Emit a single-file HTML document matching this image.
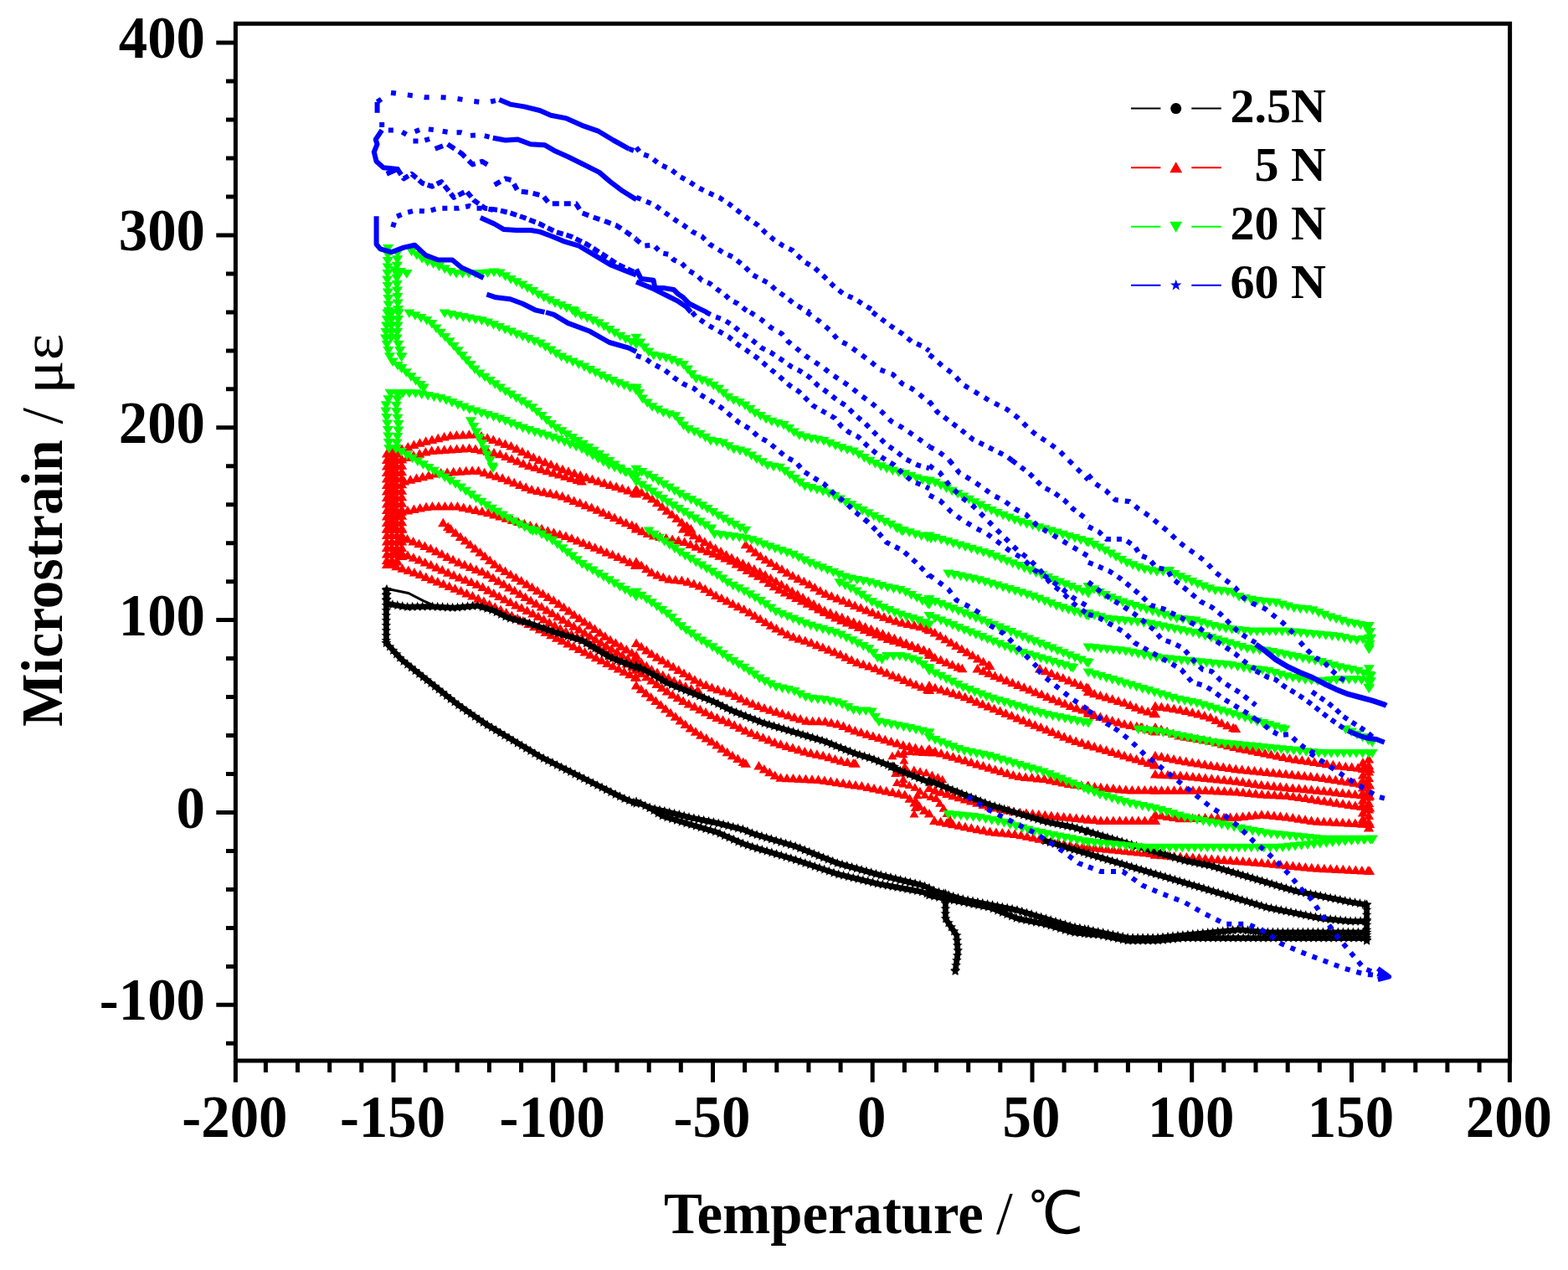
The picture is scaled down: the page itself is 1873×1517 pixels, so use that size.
<!DOCTYPE html>
<html><head><meta charset="utf-8"><title>Microstrain vs Temperature</title>
<style>html,body{margin:0;padding:0;background:#fff;}svg{display:block;}</style>
</head><body>
<svg width="1873" height="1517" viewBox="0 0 1873 1517">
<rect width="100%" height="100%" fill="#fff"/>
<path d="M753.8 589h12.4l-6.2 -10.5zM760.2 592.8h12.4l-6.2 -10.5zM766.7 596.7h12.4l-6.2 -10.5zM773 600.6h12.4l-6.2 -10.5zM778.9 605.3h12.4l-6.2 -10.5zM784.8 610h12.4l-6.2 -10.5zM790.6 614.7h12.4l-6.2 -10.5zM796.5 619.3h12.4l-6.2 -10.5zM802.3 624h12.4l-6.2 -10.5zM808.2 628.7h12.4l-6.2 -10.5zM814.3 633.1h12.4l-6.2 -10.5zM819.2 636.4h12.4l-6.2 -10.5z" fill="#f00"/>
<path d="M753.8 675.7h12.4l-6.2 -10.5zM759.9 680h12.4l-6.2 -10.5zM766.1 684.3h12.4l-6.2 -10.5zM772.2 688.6h12.4l-6.2 -10.5zM779.2 691.5h12.4l-6.2 -10.5zM786.1 694.3h12.4l-6.2 -10.5zM793.2 696.5h12.4l-6.2 -10.5zM800.7 697.2h12.4l-6.2 -10.5zM808.2 698h12.4l-6.2 -10.5zM815.4 699.8h12.4l-6.2 -10.5zM822.6 702h12.4l-6.2 -10.5zM829.6 704.4h12.4l-6.2 -10.5zM836.1 708.3h12.4l-6.2 -10.5zM842.5 712.1h12.4l-6.2 -10.5zM849 715.9h12.4l-6.2 -10.5zM855.7 719.2h12.4l-6.2 -10.5zM862.4 722.6h12.4l-6.2 -10.5zM869.1 725.9h12.4l-6.2 -10.5zM875.8 729.3h12.4l-6.2 -10.5zM882.5 732.6h12.4l-6.2 -10.5zM889.1 736.3h12.4l-6.2 -10.5zM895.5 740.2h12.4l-6.2 -10.5zM901.9 744.1h12.4l-6.2 -10.5zM908.4 747.9h12.4l-6.2 -10.5zM914.8 751.8h12.4l-6.2 -10.5zM921.2 755.6h12.4l-6.2 -10.5zM927.9 759.1h12.4l-6.2 -10.5zM934.6 762.4h12.4l-6.2 -10.5zM941.4 765.6h12.4l-6.2 -10.5zM948.5 767.8h12.4l-6.2 -10.5zM955.7 770h12.4l-6.2 -10.5zM962.8 772.4h12.4l-6.2 -10.5zM969.8 775.2h12.4l-6.2 -10.5zM976.7 778h12.4l-6.2 -10.5zM983.7 780.8h12.4l-6.2 -10.5zM990.7 783.6h12.4l-6.2 -10.5zM997.6 786.4h12.4l-6.2 -10.5zM1004.3 789.8h12.4l-6.2 -10.5zM1011 793.1h12.4l-6.2 -10.5zM1017.9 796.1h12.4l-6.2 -10.5zM1025.1 798.2h12.4l-6.2 -10.5zM1032.2 800.4h12.4l-6.2 -10.5zM1039.3 803h12.4l-6.2 -10.5zM1046.2 805.8h12.4l-6.2 -10.5zM1053.2 808.6h12.4l-6.2 -10.5zM1060.2 811.4h12.4l-6.2 -10.5zM1067.1 814.1h12.4l-6.2 -10.5zM1074.1 816.9h12.4l-6.2 -10.5zM1081 819.7h12.4l-6.2 -10.5zM1088 822.5h12.4l-6.2 -10.5zM1095 825.3h12.4l-6.2 -10.5zM1101.9 828.2h12.4l-6.2 -10.5zM1103.8 829h12.4l-6.2 -10.5z" fill="#f00"/>
<path d="M753.8 636.5h12.4l-6.2 -10.5zM760.8 639.3h12.4l-6.2 -10.5zM767.7 642.1h12.4l-6.2 -10.5zM774.8 644.4h12.4l-6.2 -10.5zM782.2 645.9h12.4l-6.2 -10.5zM789.5 647.4h12.4l-6.2 -10.5zM796.9 648.9h12.4l-6.2 -10.5zM804.2 650.3h12.4l-6.2 -10.5zM811.5 652.1h12.4l-6.2 -10.5zM818.5 654.9h12.4l-6.2 -10.5zM825.4 657.7h12.4l-6.2 -10.5zM832.4 660.5h12.4l-6.2 -10.5zM839.3 663.2h12.4l-6.2 -10.5zM846.3 666h12.4l-6.2 -10.5zM853.3 668.8h12.4l-6.2 -10.5zM860.2 671.6h12.4l-6.2 -10.5zM867.1 674.6h12.4l-6.2 -10.5zM873.5 678.4h12.4l-6.2 -10.5zM880 682.3h12.4l-6.2 -10.5zM886.5 686h12.4l-6.2 -10.5zM893.2 689.4h12.4l-6.2 -10.5zM899.9 692.7h12.4l-6.2 -10.5zM906.3 696.5h12.4l-6.2 -10.5zM912.5 700.9h12.4l-6.2 -10.5zM918.6 705.2h12.4l-6.2 -10.5zM925 709h12.4l-6.2 -10.5zM931.7 712.4h12.4l-6.2 -10.5zM938.4 715.7h12.4l-6.2 -10.5zM945.1 719.1h12.4l-6.2 -10.5zM951.8 722.4h12.4l-6.2 -10.5zM958.6 725.8h12.4l-6.2 -10.5zM965.3 729.1h12.4l-6.2 -10.5zM972 732.5h12.4l-6.2 -10.5zM978.7 735.9h12.4l-6.2 -10.5zM985.4 739.2h12.4l-6.2 -10.5zM992.1 742.6h12.4l-6.2 -10.5zM998.9 745.7h12.4l-6.2 -10.5zM1005.8 748.5h12.4l-6.2 -10.5zM1012.8 751.3h12.4l-6.2 -10.5zM1019.8 754.1h12.4l-6.2 -10.5zM1026.7 756.9h12.4l-6.2 -10.5zM1033.7 759.7h12.4l-6.2 -10.5zM1040.7 762.5h12.4l-6.2 -10.5zM1047.6 765.2h12.4l-6.2 -10.5zM1054.6 767.9h12.4l-6.2 -10.5zM1061.8 770h12.4l-6.2 -10.5zM1069 772.2h12.4l-6.2 -10.5zM1076.2 774.3h12.4l-6.2 -10.5zM1083.4 776.5h12.4l-6.2 -10.5zM1090.5 778.7h12.4l-6.2 -10.5zM1097.5 781.5h12.4l-6.2 -10.5zM1103.8 784.1h12.4l-6.2 -10.5z" fill="#f00"/>
<path d="M809.9 636.5h12.4l-6.2 -10.5zM816.3 640.4h12.4l-6.2 -10.5zM822.7 644.2h12.4l-6.2 -10.5zM829.2 648.1h12.4l-6.2 -10.5zM835.6 651.9h12.4l-6.2 -10.5zM842 655.8h12.4l-6.2 -10.5zM848.4 659.7h12.4l-6.2 -10.5zM854.9 663.5h12.4l-6.2 -10.5zM861.3 667.4h12.4l-6.2 -10.5zM867.8 671.1h12.4l-6.2 -10.5zM874.5 674.4h12.4l-6.2 -10.5zM881.2 677.8h12.4l-6.2 -10.5zM887.9 681.1h12.4l-6.2 -10.5zM894.7 684.5h12.4l-6.2 -10.5zM901.4 687.9h12.4l-6.2 -10.5zM907.9 691.6h12.4l-6.2 -10.5zM914.3 695.4h12.4l-6.2 -10.5zM920.7 699.3h12.4l-6.2 -10.5zM927.2 703.1h12.4l-6.2 -10.5zM933.6 707h12.4l-6.2 -10.5zM940 710.9h12.4l-6.2 -10.5zM946.5 714.7h12.4l-6.2 -10.5zM952.9 718.6h12.4l-6.2 -10.5zM959.3 722.4h12.4l-6.2 -10.5zM965.8 726.3h12.4l-6.2 -10.5zM972.2 730.2h12.4l-6.2 -10.5zM978.7 733.9h12.4l-6.2 -10.5zM985.6 736.7h12.4l-6.2 -10.5zM992.6 739.5h12.4l-6.2 -10.5zM999.6 742.3h12.4l-6.2 -10.5zM1006.5 745.1h12.4l-6.2 -10.5zM1013.5 747.8h12.4l-6.2 -10.5zM1020.4 750.6h12.4l-6.2 -10.5zM1027.4 753.4h12.4l-6.2 -10.5zM1034.4 756.2h12.4l-6.2 -10.5zM1041.3 759h12.4l-6.2 -10.5zM1048.3 761.8h12.4l-6.2 -10.5zM1055.3 764.6h12.4l-6.2 -10.5zM1062.2 767.3h12.4l-6.2 -10.5zM1069.2 770.1h12.4l-6.2 -10.5zM1076.2 772.9h12.4l-6.2 -10.5zM1083.1 775.7h12.4l-6.2 -10.5zM1090.1 778.5h12.4l-6.2 -10.5zM1097 781.3h12.4l-6.2 -10.5zM1103.8 784.1h12.4l-6.2 -10.5z" fill="#f00"/>
<path d="M884.6 655.2h12.4l-6.2 -10.5zM890.5 659.9h12.4l-6.2 -10.5zM896.3 664.6h12.4l-6.2 -10.5zM902.2 669.2h12.4l-6.2 -10.5zM908.5 673.3h12.4l-6.2 -10.5zM914.9 677.1h12.4l-6.2 -10.5zM921.4 681h12.4l-6.2 -10.5zM927.8 684.8h12.4l-6.2 -10.5zM934.2 688.7h12.4l-6.2 -10.5zM940.7 692.6h12.4l-6.2 -10.5zM947.4 695.9h12.4l-6.2 -10.5zM954.1 699.3h12.4l-6.2 -10.5zM960.7 702.7h12.4l-6.2 -10.5zM967.1 706.6h12.4l-6.2 -10.5zM973.6 710.4h12.4l-6.2 -10.5zM980.2 714h12.4l-6.2 -10.5zM987.1 716.8h12.4l-6.2 -10.5zM994.1 719.5h12.4l-6.2 -10.5zM1001.1 722.3h12.4l-6.2 -10.5zM1008 725.1h12.4l-6.2 -10.5zM1015 727.9h12.4l-6.2 -10.5zM1022 730.7h12.4l-6.2 -10.5zM1028.9 733.5h12.4l-6.2 -10.5zM1035.9 736.3h12.4l-6.2 -10.5zM1042.8 739h12.4l-6.2 -10.5zM1049.8 741.8h12.4l-6.2 -10.5zM1056.9 744.2h12.4l-6.2 -10.5zM1064.1 746.4h12.4l-6.2 -10.5zM1071.3 748.6h12.4l-6.2 -10.5zM1078.6 750h12.4l-6.2 -10.5zM1086 751.5h12.4l-6.2 -10.5zM1093.3 753.2h12.4l-6.2 -10.5zM1100.5 755.2h12.4l-6.2 -10.5zM1103.8 756.1h12.4l-6.2 -10.5z" fill="#f00"/>
<path d="M753.8 772.9h12.4l-6.2 -10.5zM759.9 777.2h12.4l-6.2 -10.5zM766.1 781.5h12.4l-6.2 -10.5zM772.2 785.8h12.4l-6.2 -10.5zM778.7 789.7h12.4l-6.2 -10.5zM785.1 793.6h12.4l-6.2 -10.5zM791.5 797.4h12.4l-6.2 -10.5zM797.9 801.3h12.4l-6.2 -10.5zM804.4 805.1h12.4l-6.2 -10.5zM810.8 809h12.4l-6.2 -10.5zM817.2 812.8h12.4l-6.2 -10.5zM823.7 816.7h12.4l-6.2 -10.5zM830.2 820.3h12.4l-6.2 -10.5zM837.2 823.1h12.4l-6.2 -10.5zM844.2 825.9h12.4l-6.2 -10.5zM851.2 828.3h12.4l-6.2 -10.5zM858.4 830.5h12.4l-6.2 -10.5zM865.6 832.6h12.4l-6.2 -10.5zM872.3 835.9h12.4l-6.2 -10.5zM879 839.3h12.4l-6.2 -10.5zM885.8 842.5h12.4l-6.2 -10.5zM892.8 845.3h12.4l-6.2 -10.5zM899.7 848.1h12.4l-6.2 -10.5zM906.8 850.6h12.4l-6.2 -10.5zM914 852.7h12.4l-6.2 -10.5zM921.2 854.9h12.4l-6.2 -10.5zM928.3 857h12.4l-6.2 -10.5zM935.5 859.2h12.4l-6.2 -10.5zM942.7 861.4h12.4l-6.2 -10.5zM949.9 863.5h12.4l-6.2 -10.5zM957.1 865.7h12.4l-6.2 -10.5zM964.5 866.3h12.4l-6.2 -10.5zM972 866.3h12.4l-6.2 -10.5zM979.5 866.6h12.4l-6.2 -10.5zM986.8 868.1h12.4l-6.2 -10.5zM994.2 869.6h12.4l-6.2 -10.5zM1001.3 871.9h12.4l-6.2 -10.5zM1008.2 874.7h12.4l-6.2 -10.5zM1015.2 877.5h12.4l-6.2 -10.5zM1022.4 879.6h12.4l-6.2 -10.5zM1029.6 881.8h12.4l-6.2 -10.5zM1036.7 884h12.4l-6.2 -10.5zM1043.9 886.1h12.4l-6.2 -10.5zM1051.1 888.3h12.4l-6.2 -10.5zM1058.3 890.4h12.4l-6.2 -10.5zM1065.5 892.6h12.4l-6.2 -10.5zM1072.7 894.7h12.4l-6.2 -10.5zM1080 896.3h12.4l-6.2 -10.5zM1087.3 898h12.4l-6.2 -10.5zM1094.6 899.7h12.4l-6.2 -10.5zM1101.9 901.4h12.4l-6.2 -10.5zM1103.8 901.8h12.4l-6.2 -10.5z" fill="#f00"/>
<path d="M753.8 791.6h12.4l-6.2 -10.5zM759.9 795.9h12.4l-6.2 -10.5zM766.1 800.2h12.4l-6.2 -10.5zM772.2 804.5h12.4l-6.2 -10.5zM778.9 807.9h12.4l-6.2 -10.5zM785.6 811.2h12.4l-6.2 -10.5zM792.3 814.6h12.4l-6.2 -10.5zM799 818h12.4l-6.2 -10.5zM805.8 821.3h12.4l-6.2 -10.5zM812.6 824.4h12.4l-6.2 -10.5zM819.5 827.2h12.4l-6.2 -10.5zM826.5 830h12.4l-6.2 -10.5zM828.5 830.8h12.4l-6.2 -10.5z" fill="#f00"/>
<path d="M753.8 804.7h12.4l-6.2 -10.5zM759.9 809h12.4l-6.2 -10.5zM766.1 813.3h12.4l-6.2 -10.5zM772.2 817.6h12.4l-6.2 -10.5zM778.4 821.9h12.4l-6.2 -10.5zM784.5 826.2h12.4l-6.2 -10.5zM790.7 830.5h12.4l-6.2 -10.5zM797.1 834.4h12.4l-6.2 -10.5zM803.5 838.2h12.4l-6.2 -10.5zM809.9 842.1h12.4l-6.2 -10.5zM816.6 845.4h12.4l-6.2 -10.5zM823.4 848.8h12.4l-6.2 -10.5zM830.1 852.2h12.4l-6.2 -10.5zM836.8 855.5h12.4l-6.2 -10.5zM843.5 858.9h12.4l-6.2 -10.5zM850.3 862h12.4l-6.2 -10.5zM857.3 864.8h12.4l-6.2 -10.5zM864.2 867.5h12.4l-6.2 -10.5zM871 870.8h12.4l-6.2 -10.5zM877.7 874.1h12.4l-6.2 -10.5zM884.4 877.5h12.4l-6.2 -10.5zM891.4 880.3h12.4l-6.2 -10.5zM898.3 883h12.4l-6.2 -10.5zM905.3 885.8h12.4l-6.2 -10.5zM912.3 888.6h12.4l-6.2 -10.5zM919.2 891.4h12.4l-6.2 -10.5zM926.3 893.8h12.4l-6.2 -10.5zM933.5 896h12.4l-6.2 -10.5zM940.7 898.1h12.4l-6.2 -10.5zM947.9 900.3h12.4l-6.2 -10.5zM955.1 902.4h12.4l-6.2 -10.5zM962.3 904.3h12.4l-6.2 -10.5zM969.7 905.8h12.4l-6.2 -10.5zM977 907.3h12.4l-6.2 -10.5zM984.2 909.3h12.4l-6.2 -10.5zM991.4 911.5h12.4l-6.2 -10.5zM998.6 913.4h12.4l-6.2 -10.5zM1006 914.9h12.4l-6.2 -10.5zM1013.3 916.4h12.4l-6.2 -10.5zM1015.4 916.8h12.4l-6.2 -10.5z" fill="#f00"/>
<path d="M753.8 823.4h12.4l-6.2 -10.5zM759.7 828.1h12.4l-6.2 -10.5zM765.5 832.7h12.4l-6.2 -10.5zM771.4 837.4h12.4l-6.2 -10.5zM777.2 842.1h12.4l-6.2 -10.5zM783.1 846.8h12.4l-6.2 -10.5zM788.9 851.5h12.4l-6.2 -10.5zM794.8 856.2h12.4l-6.2 -10.5zM800.7 860.8h12.4l-6.2 -10.5zM806.5 865.5h12.4l-6.2 -10.5zM812.5 870.1h12.4l-6.2 -10.5zM818.6 874.4h12.4l-6.2 -10.5zM824.8 878.7h12.4l-6.2 -10.5zM831 882.8h12.4l-6.2 -10.5zM837.5 886.6h12.4l-6.2 -10.5zM843.9 890.5h12.4l-6.2 -10.5zM850.2 894.6h12.4l-6.2 -10.5zM856.3 898.9h12.4l-6.2 -10.5zM862.5 903.2h12.4l-6.2 -10.5zM868.7 907.3h12.4l-6.2 -10.5zM875.2 911.1h12.4l-6.2 -10.5zM881.6 915h12.4l-6.2 -10.5zM884.6 916.8h12.4l-6.2 -10.5z" fill="#f00"/>
<path d="M455.9 546.5h12.4l-6.2 -10.5zM455.9 554h12.4l-6.2 -10.5zM455.9 561.5h12.4l-6.2 -10.5zM455.9 569h12.4l-6.2 -10.5zM455.9 576.5h12.4l-6.2 -10.5zM455.9 584h12.4l-6.2 -10.5zM455.9 591.5h12.4l-6.2 -10.5zM455.9 599h12.4l-6.2 -10.5zM455.9 606.5h12.4l-6.2 -10.5zM455.9 614h12.4l-6.2 -10.5zM455.9 621.5h12.4l-6.2 -10.5zM455.9 629h12.4l-6.2 -10.5zM455.9 636.5h12.4l-6.2 -10.5z" fill="#f00"/>
<path d="M455.9 636.5h12.4l-6.2 -10.5zM455.9 644h12.4l-6.2 -10.5zM455.9 651.5h12.4l-6.2 -10.5zM455.9 659h12.4l-6.2 -10.5zM455.9 666.5h12.4l-6.2 -10.5zM455.9 674h12.4l-6.2 -10.5zM455.9 678.9h12.4l-6.2 -10.5z" fill="#f00"/>
<path d="M461.9 543.2h12.4l-6.2 -10.5zM461.9 550.7h12.4l-6.2 -10.5zM461.9 558.2h12.4l-6.2 -10.5zM461.9 565.7h12.4l-6.2 -10.5zM461.9 573.2h12.4l-6.2 -10.5zM461.9 580.7h12.4l-6.2 -10.5zM461.9 588.2h12.4l-6.2 -10.5zM461.9 595.7h12.4l-6.2 -10.5zM461.9 603.2h12.4l-6.2 -10.5zM461.9 610.7h12.4l-6.2 -10.5zM461.9 618.2h12.4l-6.2 -10.5zM461.9 625.7h12.4l-6.2 -10.5zM461.9 633.2h12.4l-6.2 -10.5zM461.9 636.5h12.4l-6.2 -10.5z" fill="#f00"/>
<path d="M461.9 636.5h12.4l-6.2 -10.5zM461.9 644h12.4l-6.2 -10.5zM461.9 651.5h12.4l-6.2 -10.5zM461.9 659h12.4l-6.2 -10.5zM461.9 666.5h12.4l-6.2 -10.5zM461.9 674h12.4l-6.2 -10.5zM461.9 678.9h12.4l-6.2 -10.5z" fill="#f00"/>
<path d="M467.8 546.5h12.4l-6.2 -10.5zM467.8 554h12.4l-6.2 -10.5zM467.8 561.5h12.4l-6.2 -10.5zM467.8 569h12.4l-6.2 -10.5zM467.8 576.5h12.4l-6.2 -10.5zM467.8 584h12.4l-6.2 -10.5zM467.8 591.5h12.4l-6.2 -10.5zM467.8 599h12.4l-6.2 -10.5zM467.8 606.5h12.4l-6.2 -10.5zM467.8 614h12.4l-6.2 -10.5zM467.8 621.5h12.4l-6.2 -10.5zM467.8 629h12.4l-6.2 -10.5zM467.8 636.5h12.4l-6.2 -10.5z" fill="#f00"/>
<path d="M467.8 636.5h12.4l-6.2 -10.5zM467.8 644h12.4l-6.2 -10.5zM467.8 651.5h12.4l-6.2 -10.5zM467.8 659h12.4l-6.2 -10.5zM467.8 666.5h12.4l-6.2 -10.5zM467.8 674h12.4l-6.2 -10.5zM467.8 675.6h12.4l-6.2 -10.5z" fill="#f00"/>
<path d="M473.8 553.2h12.4l-6.2 -10.5zM473.8 560.7h12.4l-6.2 -10.5zM473.8 568.2h12.4l-6.2 -10.5zM473.8 575.7h12.4l-6.2 -10.5zM473.8 583.2h12.4l-6.2 -10.5zM473.8 590.7h12.4l-6.2 -10.5zM473.8 598.2h12.4l-6.2 -10.5zM473.8 605.7h12.4l-6.2 -10.5zM473.8 613.2h12.4l-6.2 -10.5zM473.8 620.7h12.4l-6.2 -10.5zM473.8 628.2h12.4l-6.2 -10.5zM473.8 635.7h12.4l-6.2 -10.5zM473.8 636.5h12.4l-6.2 -10.5z" fill="#f00"/>
<path d="M473.8 636.5h12.4l-6.2 -10.5zM473.8 644h12.4l-6.2 -10.5zM473.8 651.5h12.4l-6.2 -10.5zM473.8 659h12.4l-6.2 -10.5zM473.8 666.5h12.4l-6.2 -10.5zM473.8 669h12.4l-6.2 -10.5z" fill="#f00"/>
<path d="M466.8 662.4h12.4l-6.2 -10.5zM473.8 665.2h12.4l-6.2 -10.5zM480.8 668h12.4l-6.2 -10.5zM487.7 670.7h12.4l-6.2 -10.5zM494.7 673.5h12.4l-6.2 -10.5zM501.6 676.4h12.4l-6.2 -10.5zM508.5 679.5h12.4l-6.2 -10.5zM515.3 682.5h12.4l-6.2 -10.5zM522.1 685.6h12.4l-6.2 -10.5zM529 688.7h12.4l-6.2 -10.5zM535.9 691.7h12.4l-6.2 -10.5zM542.8 694.4h12.4l-6.2 -10.5zM549.8 697.2h12.4l-6.2 -10.5zM556.8 700h12.4l-6.2 -10.5zM563.7 702.8h12.4l-6.2 -10.5zM570.4 706.1h12.4l-6.2 -10.5zM577 709.7h12.4l-6.2 -10.5zM583.6 713.4h12.4l-6.2 -10.5zM590.1 717h12.4l-6.2 -10.5zM596.7 720.6h12.4l-6.2 -10.5zM603.4 724h12.4l-6.2 -10.5zM610.1 727.4h12.4l-6.2 -10.5zM616.8 730.7h12.4l-6.2 -10.5zM623.5 734.1h12.4l-6.2 -10.5zM630.2 737.5h12.4l-6.2 -10.5zM636.8 741h12.4l-6.2 -10.5zM643.4 744.6h12.4l-6.2 -10.5zM650 748.2h12.4l-6.2 -10.5zM656.5 751.8h12.4l-6.2 -10.5zM663.1 755.4h12.4l-6.2 -10.5zM669.8 758.9h12.4l-6.2 -10.5zM676.5 762.2h12.4l-6.2 -10.5zM683.2 765.6h12.4l-6.2 -10.5zM689.9 769h12.4l-6.2 -10.5zM696.6 772.3h12.4l-6.2 -10.5zM703.2 775.8h12.4l-6.2 -10.5zM709.8 779.5h12.4l-6.2 -10.5zM716.4 783.1h12.4l-6.2 -10.5zM722.9 786.7h12.4l-6.2 -10.5zM729.5 790.3h12.4l-6.2 -10.5zM736.1 793.9h12.4l-6.2 -10.5zM742.6 797.5h12.4l-6.2 -10.5zM749.2 801.1h12.4l-6.2 -10.5zM753.8 803.7h12.4l-6.2 -10.5z" fill="#f00"/>
<path d="M466.8 543.2h12.4l-6.2 -10.5zM473.9 540.9h12.4l-6.2 -10.5zM481.1 538.5h12.4l-6.2 -10.5zM488.2 536.1h12.4l-6.2 -10.5zM495.3 533.7h12.4l-6.2 -10.5zM502.5 531.8h12.4l-6.2 -10.5zM509.8 530h12.4l-6.2 -10.5zM517.1 528.2h12.4l-6.2 -10.5zM524.4 526.4h12.4l-6.2 -10.5zM531.7 524.9h12.4l-6.2 -10.5zM539.2 524.5h12.4l-6.2 -10.5zM546.7 524.2h12.4l-6.2 -10.5zM554.2 523.8h12.4l-6.2 -10.5zM561.7 523.4h12.4l-6.2 -10.5zM568.8 525.4h12.4l-6.2 -10.5zM576 527.7h12.4l-6.2 -10.5zM583.1 530.1h12.4l-6.2 -10.5zM590.2 532.5h12.4l-6.2 -10.5zM597.3 534.9h12.4l-6.2 -10.5zM604.3 537.5h12.4l-6.2 -10.5zM611 540.8h12.4l-6.2 -10.5zM617.7 544.2h12.4l-6.2 -10.5zM624.4 547.5h12.4l-6.2 -10.5zM631.1 550.9h12.4l-6.2 -10.5zM637.9 554.1h12.4l-6.2 -10.5zM644.9 556.8h12.4l-6.2 -10.5zM651.9 559.6h12.4l-6.2 -10.5zM658.8 562.4h12.4l-6.2 -10.5zM665.8 565.2h12.4l-6.2 -10.5zM672.8 567.8h12.4l-6.2 -10.5zM679.9 570.1h12.4l-6.2 -10.5zM687.1 572.5h12.4l-6.2 -10.5zM694.2 574.9h12.4l-6.2 -10.5zM701.3 577.2h12.4l-6.2 -10.5zM708.4 579.6h12.4l-6.2 -10.5zM715.6 581.8h12.4l-6.2 -10.5zM722.8 583.9h12.4l-6.2 -10.5zM730 586.1h12.4l-6.2 -10.5zM737.1 588.2h12.4l-6.2 -10.5zM744.2 590.6h12.4l-6.2 -10.5zM751.2 593.4h12.4l-6.2 -10.5zM753.8 594.5h12.4l-6.2 -10.5z" fill="#f00"/>
<path d="M473.5 553.2h12.4l-6.2 -10.5zM480.6 551h12.4l-6.2 -10.5zM487.8 548.8h12.4l-6.2 -10.5zM495 546.7h12.4l-6.2 -10.5zM502.2 544.5h12.4l-6.2 -10.5zM509.5 543h12.4l-6.2 -10.5zM517 542.5h12.4l-6.2 -10.5zM524.5 542h12.4l-6.2 -10.5zM531.9 541.5h12.4l-6.2 -10.5zM539.4 541h12.4l-6.2 -10.5zM546.9 540.5h12.4l-6.2 -10.5zM554.4 540h12.4l-6.2 -10.5zM561.8 541h12.4l-6.2 -10.5zM569.1 542.5h12.4l-6.2 -10.5zM576.5 544h12.4l-6.2 -10.5zM583.8 545.4h12.4l-6.2 -10.5zM591.1 547.2h12.4l-6.2 -10.5zM598.1 550h12.4l-6.2 -10.5zM605 552.8h12.4l-6.2 -10.5zM612 555.6h12.4l-6.2 -10.5zM618.9 558.4h12.4l-6.2 -10.5zM626 560.9h12.4l-6.2 -10.5zM633.2 563h12.4l-6.2 -10.5zM640.4 565.2h12.4l-6.2 -10.5zM647.6 567.3h12.4l-6.2 -10.5zM654.8 569.5h12.4l-6.2 -10.5zM661.9 571.6h12.4l-6.2 -10.5zM669.1 573.8h12.4l-6.2 -10.5zM676.3 575.9h12.4l-6.2 -10.5zM683.5 578.1h12.4l-6.2 -10.5zM688.6 579.6h12.4l-6.2 -10.5z" fill="#f00"/>
<path d="M476.8 579.6h12.4l-6.2 -10.5zM484 577.8h12.4l-6.2 -10.5zM491.3 576h12.4l-6.2 -10.5zM498.6 574.2h12.4l-6.2 -10.5zM505.9 572.4h12.4l-6.2 -10.5zM513.1 570.5h12.4l-6.2 -10.5zM520.5 569.4h12.4l-6.2 -10.5zM528 568.9h12.4l-6.2 -10.5zM535.5 568.3h12.4l-6.2 -10.5zM543 567.8h12.4l-6.2 -10.5zM550.5 567.3h12.4l-6.2 -10.5zM557.9 566.7h12.4l-6.2 -10.5zM565.3 567.1h12.4l-6.2 -10.5zM572.5 569.3h12.4l-6.2 -10.5zM579.7 571.4h12.4l-6.2 -10.5zM586.9 573.6h12.4l-6.2 -10.5zM594 575.8h12.4l-6.2 -10.5zM601.1 578.4h12.4l-6.2 -10.5zM608 581.2h12.4l-6.2 -10.5zM615 584h12.4l-6.2 -10.5zM622 586.7h12.4l-6.2 -10.5zM628.9 589.5h12.4l-6.2 -10.5zM636.3 591h12.4l-6.2 -10.5zM643.6 592.5h12.4l-6.2 -10.5zM651 594h12.4l-6.2 -10.5zM658.3 595.4h12.4l-6.2 -10.5zM665.5 597.5h12.4l-6.2 -10.5zM672.5 600.2h12.4l-6.2 -10.5zM679.5 602.9h12.4l-6.2 -10.5zM686.5 605.6h12.4l-6.2 -10.5zM693.5 608.3h12.4l-6.2 -10.5zM700.5 610.9h12.4l-6.2 -10.5zM707.5 613.8h12.4l-6.2 -10.5zM714.3 616.9h12.4l-6.2 -10.5zM721.1 620h12.4l-6.2 -10.5zM727.9 623.1h12.4l-6.2 -10.5zM734.8 626.2h12.4l-6.2 -10.5zM741.6 629.3h12.4l-6.2 -10.5zM748.6 632.1h12.4l-6.2 -10.5zM753.8 634.2h12.4l-6.2 -10.5z" fill="#f00"/>
<path d="M473.5 616h12.4l-6.2 -10.5zM480.8 614.6h12.4l-6.2 -10.5zM488.2 613.1h12.4l-6.2 -10.5zM495.5 611.6h12.4l-6.2 -10.5zM502.9 610.2h12.4l-6.2 -10.5zM510.3 609.4h12.4l-6.2 -10.5zM517.8 609.4h12.4l-6.2 -10.5zM525.3 609.4h12.4l-6.2 -10.5zM532.8 609.4h12.4l-6.2 -10.5zM540.3 609.6h12.4l-6.2 -10.5zM547.6 611h12.4l-6.2 -10.5zM555 612.5h12.4l-6.2 -10.5zM562.3 614h12.4l-6.2 -10.5zM569.7 615.4h12.4l-6.2 -10.5zM577 617.3h12.4l-6.2 -10.5zM584.1 619.5h12.4l-6.2 -10.5zM591.3 621.6h12.4l-6.2 -10.5zM598.5 623.8h12.4l-6.2 -10.5zM605.7 625.9h12.4l-6.2 -10.5zM612.9 628.1h12.4l-6.2 -10.5zM620.1 630.2h12.4l-6.2 -10.5zM627.2 632.4h12.4l-6.2 -10.5zM634.4 634.5h12.4l-6.2 -10.5zM640.9 636.5h12.4l-6.2 -10.5z" fill="#f00"/>
<path d="M640.9 636.5h12.4l-6.2 -10.5zM648.1 638.7h12.4l-6.2 -10.5zM655.3 640.8h12.4l-6.2 -10.5zM662.5 643h12.4l-6.2 -10.5zM669.7 645.1h12.4l-6.2 -10.5zM676.7 647.7h12.4l-6.2 -10.5zM683.7 650.5h12.4l-6.2 -10.5zM690.6 653.3h12.4l-6.2 -10.5zM697.6 656.1h12.4l-6.2 -10.5zM704.6 658.8h12.4l-6.2 -10.5zM711.5 661.6h12.4l-6.2 -10.5zM718.5 664.4h12.4l-6.2 -10.5zM725.5 667.2h12.4l-6.2 -10.5zM732.4 670h12.4l-6.2 -10.5zM739.3 672.9h12.4l-6.2 -10.5zM746 676.2h12.4l-6.2 -10.5zM752.8 679.6h12.4l-6.2 -10.5zM753.8 680.1h12.4l-6.2 -10.5z" fill="#f00"/>
<path d="M460.2 678.9h12.4l-6.2 -10.5zM467.3 681.3h12.4l-6.2 -10.5zM474.4 683.7h12.4l-6.2 -10.5zM481.6 686.1h12.4l-6.2 -10.5zM488.7 688.4h12.4l-6.2 -10.5zM495.7 691.1h12.4l-6.2 -10.5zM502.6 693.9h12.4l-6.2 -10.5zM509.6 696.7h12.4l-6.2 -10.5zM516.6 699.5h12.4l-6.2 -10.5zM523.5 702.3h12.4l-6.2 -10.5zM530.5 705.1h12.4l-6.2 -10.5zM537.4 707.8h12.4l-6.2 -10.5zM544.4 710.6h12.4l-6.2 -10.5zM551.4 713.4h12.4l-6.2 -10.5zM558.3 716.4h12.4l-6.2 -10.5zM565 719.7h12.4l-6.2 -10.5zM571.7 723.1h12.4l-6.2 -10.5zM578.4 726.4h12.4l-6.2 -10.5zM585.1 729.8h12.4l-6.2 -10.5zM591.8 733.1h12.4l-6.2 -10.5zM598.5 736.5h12.4l-6.2 -10.5zM605.2 739.9h12.4l-6.2 -10.5zM611.9 743.2h12.4l-6.2 -10.5zM618.6 746.6h12.4l-6.2 -10.5zM625.3 749.9h12.4l-6.2 -10.5zM632 753.3h12.4l-6.2 -10.5zM638.8 756.6h12.4l-6.2 -10.5zM645.5 760h12.4l-6.2 -10.5zM652.2 763.3h12.4l-6.2 -10.5zM658.9 766.7h12.4l-6.2 -10.5zM665.6 770h12.4l-6.2 -10.5zM672.3 773.4h12.4l-6.2 -10.5zM679 776.8h12.4l-6.2 -10.5zM685.7 780.1h12.4l-6.2 -10.5zM692.4 783.5h12.4l-6.2 -10.5zM699.1 786.8h12.4l-6.2 -10.5zM705.8 790.2h12.4l-6.2 -10.5zM712.5 793.5h12.4l-6.2 -10.5zM719.3 796.9h12.4l-6.2 -10.5zM726 800.2h12.4l-6.2 -10.5zM732.7 803.6h12.4l-6.2 -10.5zM739.4 806.9h12.4l-6.2 -10.5zM746.1 810.3h12.4l-6.2 -10.5zM752.8 813.6h12.4l-6.2 -10.5zM753.8 814.1h12.4l-6.2 -10.5z" fill="#f00"/>
<path d="M473.5 645.8h12.4l-6.2 -10.5zM480.4 648.6h12.4l-6.2 -10.5zM487.4 651.4h12.4l-6.2 -10.5zM494.3 654.2h12.4l-6.2 -10.5zM501.3 657h12.4l-6.2 -10.5zM508.2 659.9h12.4l-6.2 -10.5zM514.9 663.3h12.4l-6.2 -10.5zM521.6 666.6h12.4l-6.2 -10.5zM528.3 670h12.4l-6.2 -10.5zM535 673.3h12.4l-6.2 -10.5zM541.8 676.5h12.4l-6.2 -10.5zM548.8 679.3h12.4l-6.2 -10.5zM555.8 682.1h12.4l-6.2 -10.5zM562.7 684.9h12.4l-6.2 -10.5zM569.7 687.6h12.4l-6.2 -10.5zM576.3 691h12.4l-6.2 -10.5zM582.8 694.9h12.4l-6.2 -10.5zM589.2 698.7h12.4l-6.2 -10.5zM595.6 702.6h12.4l-6.2 -10.5zM602.1 706.5h12.4l-6.2 -10.5zM608.5 710.3h12.4l-6.2 -10.5zM614.9 714.2h12.4l-6.2 -10.5zM621.4 718h12.4l-6.2 -10.5zM627.8 721.9h12.4l-6.2 -10.5zM634.2 725.8h12.4l-6.2 -10.5zM640.7 729.6h12.4l-6.2 -10.5zM647.1 733.5h12.4l-6.2 -10.5zM653.5 737.3h12.4l-6.2 -10.5zM660 741.2h12.4l-6.2 -10.5zM666.4 745h12.4l-6.2 -10.5zM672.8 748.9h12.4l-6.2 -10.5zM679.2 752.8h12.4l-6.2 -10.5zM685.7 756.6h12.4l-6.2 -10.5zM692.1 760.5h12.4l-6.2 -10.5zM698.5 764.3h12.4l-6.2 -10.5zM705 768.2h12.4l-6.2 -10.5zM711.4 772.1h12.4l-6.2 -10.5zM717.8 775.9h12.4l-6.2 -10.5zM724.3 779.8h12.4l-6.2 -10.5zM730.7 783.6h12.4l-6.2 -10.5zM737.1 787.5h12.4l-6.2 -10.5zM743.6 791.4h12.4l-6.2 -10.5zM750 795.2h12.4l-6.2 -10.5zM753.8 797.5h12.4l-6.2 -10.5z" fill="#f00"/>
<path d="M523.1 629.3h12.4l-6.2 -10.5zM529 634h12.4l-6.2 -10.5zM532.1 636.5h12.4l-6.2 -10.5z" fill="#f00"/>
<path d="M532.1 636.5h12.4l-6.2 -10.5zM538 641.2h12.4l-6.2 -10.5zM543.8 645.9h12.4l-6.2 -10.5zM549.7 650.6h12.4l-6.2 -10.5zM555.5 655.2h12.4l-6.2 -10.5zM561.4 659.9h12.4l-6.2 -10.5zM567.3 664.6h12.4l-6.2 -10.5zM573.1 669.3h12.4l-6.2 -10.5zM579 674h12.4l-6.2 -10.5zM584.8 678.7h12.4l-6.2 -10.5zM590.8 683.2h12.4l-6.2 -10.5zM597.3 687h12.4l-6.2 -10.5zM603.7 690.9h12.4l-6.2 -10.5zM610.1 694.7h12.4l-6.2 -10.5zM616.5 698.6h12.4l-6.2 -10.5zM623 702.5h12.4l-6.2 -10.5zM629.4 706.3h12.4l-6.2 -10.5zM635.8 710.2h12.4l-6.2 -10.5zM642.3 714h12.4l-6.2 -10.5zM648.7 717.9h12.4l-6.2 -10.5zM655.1 721.7h12.4l-6.2 -10.5zM661.3 726h12.4l-6.2 -10.5zM667.4 730.3h12.4l-6.2 -10.5zM673.6 734.6h12.4l-6.2 -10.5zM679.7 738.9h12.4l-6.2 -10.5zM685.9 743.2h12.4l-6.2 -10.5zM692 747.5h12.4l-6.2 -10.5zM698.2 751.8h12.4l-6.2 -10.5zM704.3 756.1h12.4l-6.2 -10.5zM710.4 760.4h12.4l-6.2 -10.5zM716.6 764.7h12.4l-6.2 -10.5zM722.8 769h12.4l-6.2 -10.5zM729.2 772.8h12.4l-6.2 -10.5zM735.6 776.7h12.4l-6.2 -10.5zM742.1 780.5h12.4l-6.2 -10.5zM748.5 784.4h12.4l-6.2 -10.5zM753.8 787.6h12.4l-6.2 -10.5z" fill="#f00"/>
<path d="M1103.8 757.2h12.4l-6.2 -10.5zM1110.5 760.6h12.4l-6.2 -10.5zM1116.9 764.5h12.4l-6.2 -10.5zM1123.3 768.3h12.4l-6.2 -10.5zM1129.8 772.2h12.4l-6.2 -10.5zM1136.2 776h12.4l-6.2 -10.5zM1142.6 779.9h12.4l-6.2 -10.5zM1149.1 783.7h12.4l-6.2 -10.5zM1155.5 787.6h12.4l-6.2 -10.5zM1161.9 791.5h12.4l-6.2 -10.5zM1168.4 795.3h12.4l-6.2 -10.5zM1174.8 799.2h12.4l-6.2 -10.5zM1176.2 800h12.4l-6.2 -10.5z" fill="#f00"/>
<path d="M1103.8 787h12.4l-6.2 -10.5zM1110.5 790.3h12.4l-6.2 -10.5zM1117.5 793.1h12.4l-6.2 -10.5zM1124.5 795.9h12.4l-6.2 -10.5zM1131.4 798.7h12.4l-6.2 -10.5zM1138.4 801.5h12.4l-6.2 -10.5zM1143.1 803.3h12.4l-6.2 -10.5z" fill="#f00"/>
<path d="M1293.8 831.1h12.4l-6.2 -10.5zM1301 833.3h12.4l-6.2 -10.5zM1308.2 835.4h12.4l-6.2 -10.5zM1315.4 837.6h12.4l-6.2 -10.5zM1322.5 839.7h12.4l-6.2 -10.5zM1329.7 841.9h12.4l-6.2 -10.5zM1336.9 844.1h12.4l-6.2 -10.5zM1343.9 846.9h12.4l-6.2 -10.5zM1350.8 849.7h12.4l-6.2 -10.5zM1357.8 852.5h12.4l-6.2 -10.5zM1365 854.6h12.4l-6.2 -10.5zM1372.1 856.8h12.4l-6.2 -10.5zM1373.8 857.3h12.4l-6.2 -10.5z" fill="#f00"/>
<path d="M1293.8 856.8h12.4l-6.2 -10.5zM1301 858.9h12.4l-6.2 -10.5zM1308.2 861.1h12.4l-6.2 -10.5zM1315.4 863.2h12.4l-6.2 -10.5zM1322.5 865.4h12.4l-6.2 -10.5zM1329.7 867.5h12.4l-6.2 -10.5zM1336.9 869.6h12.4l-6.2 -10.5zM1344.3 871h12.4l-6.2 -10.5zM1351.7 872.3h12.4l-6.2 -10.5zM1357.9 873.4h12.4l-6.2 -10.5z" fill="#f00"/>
<path d="M1235.9 803.5h12.4l-6.2 -10.5zM1242.8 806.3h12.4l-6.2 -10.5zM1249.8 809.1h12.4l-6.2 -10.5zM1256.8 811.9h12.4l-6.2 -10.5zM1263.7 814.6h12.4l-6.2 -10.5zM1270.7 817.4h12.4l-6.2 -10.5zM1277.7 820.2h12.4l-6.2 -10.5zM1284.6 823h12.4l-6.2 -10.5zM1291.6 825.8h12.4l-6.2 -10.5zM1293.8 826.7h12.4l-6.2 -10.5z" fill="#f00"/>
<path d="M1161.4 803.5h12.4l-6.2 -10.5zM1168.4 806.3h12.4l-6.2 -10.5zM1175.3 809.1h12.4l-6.2 -10.5zM1182.3 811.9h12.4l-6.2 -10.5zM1189.2 814.6h12.4l-6.2 -10.5zM1196.2 817.4h12.4l-6.2 -10.5zM1203.2 820.2h12.4l-6.2 -10.5zM1210.1 823h12.4l-6.2 -10.5zM1217.1 825.8h12.4l-6.2 -10.5zM1224.1 828.6h12.4l-6.2 -10.5zM1231 831.4h12.4l-6.2 -10.5zM1238 834.1h12.4l-6.2 -10.5zM1245 836.9h12.4l-6.2 -10.5zM1251.9 839.7h12.4l-6.2 -10.5zM1258.9 842.5h12.4l-6.2 -10.5zM1265.8 845.3h12.4l-6.2 -10.5zM1272.8 848.1h12.4l-6.2 -10.5zM1279.9 850.5h12.4l-6.2 -10.5zM1287.1 852.6h12.4l-6.2 -10.5zM1293.8 854.6h12.4l-6.2 -10.5z" fill="#f00"/>
<path d="M1356.7 873.5h12.4l-6.2 -10.5zM1363.9 875.7h12.4l-6.2 -10.5zM1371.1 877.8h12.4l-6.2 -10.5zM1373.8 878.6h12.4l-6.2 -10.5z" fill="#f00"/>
<path d="M1103.8 823.5h12.4l-6.2 -10.5zM1110.8 826.2h12.4l-6.2 -10.5zM1118 828.4h12.4l-6.2 -10.5zM1125.2 830.5h12.4l-6.2 -10.5zM1132.3 832.7h12.4l-6.2 -10.5zM1139.5 834.8h12.4l-6.2 -10.5zM1146.6 837.3h12.4l-6.2 -10.5zM1153.6 840.1h12.4l-6.2 -10.5zM1160.5 842.9h12.4l-6.2 -10.5zM1167.5 845.7h12.4l-6.2 -10.5zM1174.5 848.4h12.4l-6.2 -10.5zM1181.4 851.2h12.4l-6.2 -10.5zM1188.4 854h12.4l-6.2 -10.5zM1195.3 856.8h12.4l-6.2 -10.5zM1202.3 859.6h12.4l-6.2 -10.5zM1209.3 862.4h12.4l-6.2 -10.5zM1216.2 865.2h12.4l-6.2 -10.5zM1223.2 867.9h12.4l-6.2 -10.5zM1230.2 870.7h12.4l-6.2 -10.5zM1237.1 873.5h12.4l-6.2 -10.5zM1244.1 876.3h12.4l-6.2 -10.5zM1251 879.1h12.4l-6.2 -10.5zM1258 881.9h12.4l-6.2 -10.5zM1265 884.7h12.4l-6.2 -10.5zM1271.9 887.4h12.4l-6.2 -10.5zM1279 889.9h12.4l-6.2 -10.5zM1286.2 892.1h12.4l-6.2 -10.5zM1293.4 894.2h12.4l-6.2 -10.5zM1293.8 894.4h12.4l-6.2 -10.5z" fill="#f00"/>
<path d="M1293.8 894.4h12.4l-6.2 -10.5zM1301 896.5h12.4l-6.2 -10.5zM1308.2 898.7h12.4l-6.2 -10.5zM1315.4 900.8h12.4l-6.2 -10.5zM1322.5 903h12.4l-6.2 -10.5zM1329.7 905.1h12.4l-6.2 -10.5zM1336.9 907.3h12.4l-6.2 -10.5zM1344.1 909.4h12.4l-6.2 -10.5zM1351.3 911.6h12.4l-6.2 -10.5zM1358.5 913.8h12.4l-6.2 -10.5zM1365.6 915.9h12.4l-6.2 -10.5zM1372.8 918.1h12.4l-6.2 -10.5zM1373.8 918.4h12.4l-6.2 -10.5z" fill="#f00"/>
<path d="M1103.8 899.6h12.4l-6.2 -10.5zM1110.8 902.3h12.4l-6.2 -10.5zM1118 904.5h12.4l-6.2 -10.5zM1125.2 906.7h12.4l-6.2 -10.5zM1132.3 908.8h12.4l-6.2 -10.5zM1139.5 911h12.4l-6.2 -10.5zM1146.7 913.1h12.4l-6.2 -10.5zM1153.9 915.3h12.4l-6.2 -10.5zM1161.1 917.4h12.4l-6.2 -10.5zM1168.3 919.6h12.4l-6.2 -10.5zM1175.4 921.7h12.4l-6.2 -10.5zM1182.6 923.9h12.4l-6.2 -10.5zM1189.8 926.1h12.4l-6.2 -10.5zM1197 928.2h12.4l-6.2 -10.5zM1204.2 930.4h12.4l-6.2 -10.5zM1211.4 932.1h12.4l-6.2 -10.5zM1218.9 932.9h12.4l-6.2 -10.5zM1226.4 933.6h12.4l-6.2 -10.5zM1233.8 934.4h12.4l-6.2 -10.5zM1241.3 935.1h12.4l-6.2 -10.5zM1248.7 936.5h12.4l-6.2 -10.5zM1256 937.9h12.4l-6.2 -10.5zM1263.4 939.4h12.4l-6.2 -10.5zM1270.7 940.9h12.4l-6.2 -10.5zM1278.1 942.1h12.4l-6.2 -10.5zM1285.6 942.8h12.4l-6.2 -10.5zM1293 943.6h12.4l-6.2 -10.5zM1293.8 943.7h12.4l-6.2 -10.5z" fill="#f00"/>
<path d="M1293.8 943.7h12.4l-6.2 -10.5zM1301.3 944.4h12.4l-6.2 -10.5zM1308.7 945.2h12.4l-6.2 -10.5zM1316.2 945.9h12.4l-6.2 -10.5zM1323.7 946.6h12.4l-6.2 -10.5zM1331.1 947.4h12.4l-6.2 -10.5zM1338.6 948.1h12.4l-6.2 -10.5zM1346.1 948.5h12.4l-6.2 -10.5zM1353.6 948.5h12.4l-6.2 -10.5zM1361.1 948.5h12.4l-6.2 -10.5zM1368.6 948.5h12.4l-6.2 -10.5zM1373.8 948.5h12.4l-6.2 -10.5z" fill="#f00"/>
<path d="M1103.8 946h12.4l-6.2 -10.5zM1110.8 948.7h12.4l-6.2 -10.5zM1118 950.8h12.4l-6.2 -10.5zM1125.2 953h12.4l-6.2 -10.5zM1132.3 955.2h12.4l-6.2 -10.5zM1139.5 957.3h12.4l-6.2 -10.5zM1146.7 959.5h12.4l-6.2 -10.5zM1153.9 961.6h12.4l-6.2 -10.5zM1161.1 963.8h12.4l-6.2 -10.5zM1168.3 965.9h12.4l-6.2 -10.5zM1175.4 968.1h12.4l-6.2 -10.5zM1182.8 969.6h12.4l-6.2 -10.5zM1190.1 971.1h12.4l-6.2 -10.5zM1197.5 972.6h12.4l-6.2 -10.5zM1204.8 974h12.4l-6.2 -10.5zM1212.2 975.2h12.4l-6.2 -10.5zM1219.7 976h12.4l-6.2 -10.5zM1227.2 976.7h12.4l-6.2 -10.5zM1234.6 977.5h12.4l-6.2 -10.5zM1242.1 978.2h12.4l-6.2 -10.5zM1249.6 979h12.4l-6.2 -10.5zM1257 979.7h12.4l-6.2 -10.5zM1264.5 980.5h12.4l-6.2 -10.5zM1271.9 981.2h12.4l-6.2 -10.5zM1279.4 981.9h12.4l-6.2 -10.5zM1286.9 982.7h12.4l-6.2 -10.5zM1293.8 983.4h12.4l-6.2 -10.5z" fill="#f00"/>
<path d="M1293.8 983.4h12.4l-6.2 -10.5zM1301.3 984.1h12.4l-6.2 -10.5zM1308.7 984.9h12.4l-6.2 -10.5zM1316.2 984.9h12.4l-6.2 -10.5zM1323.7 984.9h12.4l-6.2 -10.5zM1331.2 984.9h12.4l-6.2 -10.5zM1338.7 984.9h12.4l-6.2 -10.5zM1346.2 984.9h12.4l-6.2 -10.5zM1353.7 984.9h12.4l-6.2 -10.5zM1361.2 984.9h12.4l-6.2 -10.5zM1368.7 984.9h12.4l-6.2 -10.5zM1373.8 984.9h12.4l-6.2 -10.5z" fill="#f00"/>
<path d="M1110 984.9h12.4l-6.2 -10.5zM1117.4 986.3h12.4l-6.2 -10.5zM1124.7 987.8h12.4l-6.2 -10.5zM1132.1 989.3h12.4l-6.2 -10.5zM1139.4 990.8h12.4l-6.2 -10.5zM1146.8 992.2h12.4l-6.2 -10.5zM1154.1 993.7h12.4l-6.2 -10.5zM1161.5 995.2h12.4l-6.2 -10.5zM1168.8 996.6h12.4l-6.2 -10.5zM1176.2 998.1h12.4l-6.2 -10.5zM1183.7 998.9h12.4l-6.2 -10.5zM1191.1 999.6h12.4l-6.2 -10.5zM1198.6 1000.3h12.4l-6.2 -10.5zM1206 1001.1h12.4l-6.2 -10.5zM1213.4 1002.2h12.4l-6.2 -10.5zM1220.8 1003.7h12.4l-6.2 -10.5zM1228.2 1005.2h12.4l-6.2 -10.5zM1235.5 1006.7h12.4l-6.2 -10.5zM1242.9 1008.1h12.4l-6.2 -10.5zM1250.2 1009.6h12.4l-6.2 -10.5zM1257.6 1011.1h12.4l-6.2 -10.5zM1264.9 1012.5h12.4l-6.2 -10.5zM1272.3 1014h12.4l-6.2 -10.5zM1279.7 1015.1h12.4l-6.2 -10.5zM1287.2 1015.8h12.4l-6.2 -10.5zM1293.8 1016.5h12.4l-6.2 -10.5z" fill="#f00"/>
<path d="M1293.8 1016.5h12.4l-6.2 -10.5zM1301.3 1017.2h12.4l-6.2 -10.5zM1308.7 1018h12.4l-6.2 -10.5zM1316.2 1018.7h12.4l-6.2 -10.5zM1323.7 1019.5h12.4l-6.2 -10.5zM1331.1 1020.2h12.4l-6.2 -10.5zM1338.6 1021h12.4l-6.2 -10.5zM1346 1021.7h12.4l-6.2 -10.5zM1353.5 1022.5h12.4l-6.2 -10.5zM1361 1023.2h12.4l-6.2 -10.5zM1368.4 1023.9h12.4l-6.2 -10.5zM1373.8 1024.5h12.4l-6.2 -10.5z" fill="#f00"/>
<path d="M900.3 919.5h12.4l-6.2 -10.5zM906.7 923.4h12.4l-6.2 -10.5zM913.1 927.2h12.4l-6.2 -10.5zM919.6 931.1h12.4l-6.2 -10.5zM926.3 933.8h12.4l-6.2 -10.5zM933.8 934.2h12.4l-6.2 -10.5zM941.3 934.6h12.4l-6.2 -10.5zM948.8 935h12.4l-6.2 -10.5zM956.3 935.3h12.4l-6.2 -10.5zM963.8 935.7h12.4l-6.2 -10.5zM971.3 936.1h12.4l-6.2 -10.5zM978.7 936.9h12.4l-6.2 -10.5zM986.1 938h12.4l-6.2 -10.5zM993.5 939.2h12.4l-6.2 -10.5zM1001 940.3h12.4l-6.2 -10.5zM1008.4 941.4h12.4l-6.2 -10.5zM1015.8 942.5h12.4l-6.2 -10.5zM1023.2 943.6h12.4l-6.2 -10.5zM1030.6 945h12.4l-6.2 -10.5zM1037.9 946.5h12.4l-6.2 -10.5zM1045.3 948h12.4l-6.2 -10.5zM1052.6 949.4h12.4l-6.2 -10.5zM1060 950.9h12.4l-6.2 -10.5zM1067.3 952.4h12.4l-6.2 -10.5zM1074.6 954.1h12.4l-6.2 -10.5zM1080.5 958.7h12.4l-6.2 -10.5zM1086.3 963.4h12.4l-6.2 -10.5zM1092.2 968.1h12.4l-6.2 -10.5zM1098 972.8h12.4l-6.2 -10.5zM1103.8 976.5h12.4l-6.2 -10.5z" fill="#f00"/>
<path d="M1060.4 907.2h11l-5.5 -9.5zM1067.4 904.6h11l-5.5 -9.5zM1074.5 902h11l-5.5 -9.5zM1081.9 902h11l-5.5 -9.5zM1089.4 902.5h11l-5.5 -9.5zM1096.9 902.9h11l-5.5 -9.5zM1104.4 903.3h11l-5.5 -9.5zM1109 903.6h11l-5.5 -9.5z" fill="#f00"/>
<path d="M1064.1 927.9h11l-5.5 -9.5zM1071.5 926.6h11l-5.5 -9.5zM1078.9 925.4h11l-5.5 -9.5zM1086.3 924.1h11l-5.5 -9.5zM1093.6 925.7h11l-5.5 -9.5zM1100.9 927.3h11l-5.5 -9.5zM1107.9 929.9h11l-5.5 -9.5zM1114.8 932.8h11l-5.5 -9.5zM1120.2 935.2h11l-5.5 -9.5z" fill="#f00"/>
<path d="M1066 939.1h11l-5.5 -9.5zM1073.4 940.5h11l-5.5 -9.5zM1080.7 942h11l-5.5 -9.5zM1087.4 944.8h11l-5.5 -9.5zM1093.4 949.3h11l-5.5 -9.5zM1099.4 953.8h11l-5.5 -9.5zM1106.6 956h11l-5.5 -9.5zM1112.7 957.8h11l-5.5 -9.5z" fill="#f00"/>
<path d="M1086.5 976.4h11l-5.5 -9.5zM1087.8 969h11l-5.5 -9.5zM1089 961.6h11l-5.5 -9.5zM1090.3 954.2h11l-5.5 -9.5zM1090.3 954h11l-5.5 -9.5z" fill="#f00"/>
<path d="M1073.5 905.2h11l-5.5 -9.5zM1074.4 912.6h11l-5.5 -9.5zM1075.3 920.1h11l-5.5 -9.5zM1074.4 927.5h11l-5.5 -9.5zM1073.5 935h11l-5.5 -9.5zM1073.5 935.2h11l-5.5 -9.5z" fill="#f00"/>
<path d="M1112.5 957.8h11l-5.5 -9.5zM1117.1 963.7h11l-5.5 -9.5zM1121.6 969.7h11l-5.5 -9.5zM1125.6 976h11l-5.5 -9.5zM1128.9 982.7h11l-5.5 -9.5zM1131.4 987.7h11l-5.5 -9.5z" fill="#f00"/>
<path d="M1373.8 847.9h12.4l-6.2 -10.5zM1381.2 849h12.4l-6.2 -10.5zM1388.6 850.1h12.4l-6.2 -10.5zM1396.1 851.2h12.4l-6.2 -10.5zM1403.5 852.4h12.4l-6.2 -10.5zM1410.8 853.9h12.4l-6.2 -10.5zM1418.1 855.8h12.4l-6.2 -10.5zM1425.3 857.6h12.4l-6.2 -10.5zM1432.6 859.4h12.4l-6.2 -10.5zM1439.7 861.7h12.4l-6.2 -10.5zM1446.4 865h12.4l-6.2 -10.5zM1453.1 868.4h12.4l-6.2 -10.5zM1460.1 871.2h12.4l-6.2 -10.5zM1467 874h12.4l-6.2 -10.5zM1469.8 875.1h12.4l-6.2 -10.5z" fill="#f00"/>
<path d="M1373.8 873.5h12.4l-6.2 -10.5zM1380.9 876h12.4l-6.2 -10.5zM1387.9 878.5h12.4l-6.2 -10.5zM1395 881.1h12.4l-6.2 -10.5zM1402.1 883.4h12.4l-6.2 -10.5zM1409.5 884.7h12.4l-6.2 -10.5zM1416.9 885.9h12.4l-6.2 -10.5zM1424.3 887.2h12.4l-6.2 -10.5zM1431.7 888.5h12.4l-6.2 -10.5zM1439 889.8h12.4l-6.2 -10.5zM1446.3 891.6h12.4l-6.2 -10.5zM1453.6 893.5h12.4l-6.2 -10.5zM1460.9 895.3h12.4l-6.2 -10.5zM1468.2 897.1h12.4l-6.2 -10.5zM1475.5 898.7h12.4l-6.2 -10.5zM1482.8 900.1h12.4l-6.2 -10.5zM1490.2 901.6h12.4l-6.2 -10.5zM1497.5 903.1h12.4l-6.2 -10.5zM1504.9 904.6h12.4l-6.2 -10.5zM1512.2 906.1h12.4l-6.2 -10.5zM1519.6 907.6h12.4l-6.2 -10.5zM1526.9 909.1h12.4l-6.2 -10.5zM1534.3 910.6h12.4l-6.2 -10.5zM1541.7 911.7h12.4l-6.2 -10.5zM1549.1 912.8h12.4l-6.2 -10.5zM1556.6 913.8h12.4l-6.2 -10.5zM1564 914.9h12.4l-6.2 -10.5zM1571.4 916h12.4l-6.2 -10.5zM1578.8 917.2h12.4l-6.2 -10.5zM1586.2 918.3h12.4l-6.2 -10.5zM1593.6 919.4h12.4l-6.2 -10.5zM1601.1 920.3h12.4l-6.2 -10.5zM1608.5 921.1h12.4l-6.2 -10.5zM1616 921.8h12.4l-6.2 -10.5zM1623.5 922.6h12.4l-6.2 -10.5zM1629.8 923.2h12.4l-6.2 -10.5z" fill="#f00"/>
<path d="M1373.8 907.2h12.4l-6.2 -10.5zM1381.2 908.6h12.4l-6.2 -10.5zM1388.5 910.1h12.4l-6.2 -10.5zM1395.9 911.5h12.4l-6.2 -10.5zM1403.2 913h12.4l-6.2 -10.5zM1410.6 914.3h12.4l-6.2 -10.5zM1418 915.4h12.4l-6.2 -10.5zM1425.4 916.6h12.4l-6.2 -10.5zM1432.9 917.7h12.4l-6.2 -10.5zM1440.3 918.9h12.4l-6.2 -10.5zM1447.7 920h12.4l-6.2 -10.5zM1455.1 921h12.4l-6.2 -10.5zM1462.5 922.1h12.4l-6.2 -10.5zM1470 923.2h12.4l-6.2 -10.5zM1477.4 924h12.4l-6.2 -10.5zM1484.9 924.7h12.4l-6.2 -10.5zM1492.3 925.5h12.4l-6.2 -10.5zM1499.8 926.2h12.4l-6.2 -10.5zM1507.3 926.9h12.4l-6.2 -10.5zM1514.7 927.7h12.4l-6.2 -10.5zM1522.2 928.4h12.4l-6.2 -10.5zM1529.7 929.2h12.4l-6.2 -10.5zM1537.1 929.9h12.4l-6.2 -10.5zM1544.6 930.7h12.4l-6.2 -10.5zM1552 931.4h12.4l-6.2 -10.5zM1559.5 932.2h12.4l-6.2 -10.5zM1567 933h12.4l-6.2 -10.5zM1574.4 934.1h12.4l-6.2 -10.5zM1581.8 935.2h12.4l-6.2 -10.5zM1589.2 936.3h12.4l-6.2 -10.5zM1596.6 937.4h12.4l-6.2 -10.5zM1604 938.6h12.4l-6.2 -10.5zM1611.5 939.7h12.4l-6.2 -10.5zM1618.9 940.8h12.4l-6.2 -10.5zM1626.3 942h12.4l-6.2 -10.5zM1629.8 942.5h12.4l-6.2 -10.5z" fill="#f00"/>
<path d="M1373.8 929.5h12.4l-6.2 -10.5zM1381.3 929.9h12.4l-6.2 -10.5zM1388.8 930.3h12.4l-6.2 -10.5zM1396.3 930.7h12.4l-6.2 -10.5zM1403.8 931.1h12.4l-6.2 -10.5zM1411.2 931.8h12.4l-6.2 -10.5zM1418.7 932.5h12.4l-6.2 -10.5zM1426.1 933.3h12.4l-6.2 -10.5zM1433.6 934.1h12.4l-6.2 -10.5zM1441.1 934.8h12.4l-6.2 -10.5zM1448.5 935.5h12.4l-6.2 -10.5zM1456 936.2h12.4l-6.2 -10.5zM1463.5 936.9h12.4l-6.2 -10.5zM1470.9 937.7h12.4l-6.2 -10.5zM1478.3 938.8h12.4l-6.2 -10.5zM1485.8 940h12.4l-6.2 -10.5zM1493.2 941.2h12.4l-6.2 -10.5zM1500.6 942.3h12.4l-6.2 -10.5zM1508 943.1h12.4l-6.2 -10.5zM1515.5 943.8h12.4l-6.2 -10.5zM1523 944.5h12.4l-6.2 -10.5zM1530.4 945.2h12.4l-6.2 -10.5zM1537.9 945.9h12.4l-6.2 -10.5zM1545.4 946.6h12.4l-6.2 -10.5zM1552.8 947.3h12.4l-6.2 -10.5zM1560.3 948h12.4l-6.2 -10.5zM1567.8 948.7h12.4l-6.2 -10.5zM1575.2 949.5h12.4l-6.2 -10.5zM1582.7 950.3h12.4l-6.2 -10.5zM1590.1 951.2h12.4l-6.2 -10.5zM1597.6 952h12.4l-6.2 -10.5zM1605 952.7h12.4l-6.2 -10.5zM1612.5 953.5h12.4l-6.2 -10.5zM1620 954.2h12.4l-6.2 -10.5zM1627.4 955h12.4l-6.2 -10.5zM1629.8 955.2h12.4l-6.2 -10.5z" fill="#f00"/>
<path d="M1373.8 948.8h12.4l-6.2 -10.5zM1381.3 948.8h12.4l-6.2 -10.5zM1388.8 948.8h12.4l-6.2 -10.5zM1396.3 948.8h12.4l-6.2 -10.5zM1403.8 948.8h12.4l-6.2 -10.5zM1411.3 948.8h12.4l-6.2 -10.5zM1418.8 948.8h12.4l-6.2 -10.5zM1426.3 948.8h12.4l-6.2 -10.5zM1433.8 948.8h12.4l-6.2 -10.5zM1441.3 949h12.4l-6.2 -10.5zM1448.8 949.4h12.4l-6.2 -10.5zM1456.3 949.8h12.4l-6.2 -10.5zM1463.8 950.2h12.4l-6.2 -10.5zM1471.2 950.6h12.4l-6.2 -10.5zM1478.7 951.3h12.4l-6.2 -10.5zM1486.2 952h12.4l-6.2 -10.5zM1493.7 952.7h12.4l-6.2 -10.5zM1501.1 953.4h12.4l-6.2 -10.5zM1508.6 953.9h12.4l-6.2 -10.5zM1516.1 954.3h12.4l-6.2 -10.5zM1523.6 954.7h12.4l-6.2 -10.5zM1531.1 955.1h12.4l-6.2 -10.5zM1538.5 955.9h12.4l-6.2 -10.5zM1545.9 957h12.4l-6.2 -10.5zM1553.4 958.1h12.4l-6.2 -10.5zM1560.8 959.2h12.4l-6.2 -10.5zM1568.2 960.4h12.4l-6.2 -10.5zM1575.6 961.5h12.4l-6.2 -10.5zM1583 962.6h12.4l-6.2 -10.5zM1590.4 963.7h12.4l-6.2 -10.5zM1597.9 964.8h12.4l-6.2 -10.5zM1605.3 965.9h12.4l-6.2 -10.5zM1612.7 967h12.4l-6.2 -10.5zM1620.1 968.1h12.4l-6.2 -10.5zM1627.5 969.2h12.4l-6.2 -10.5zM1629.8 969.5h12.4l-6.2 -10.5z" fill="#f00"/>
<path d="M1373.8 977.7h12.4l-6.2 -10.5zM1381.2 978.8h12.4l-6.2 -10.5zM1388.6 979.9h12.4l-6.2 -10.5zM1396.1 981h12.4l-6.2 -10.5zM1403.5 982.2h12.4l-6.2 -10.5zM1410.9 982.3h12.4l-6.2 -10.5zM1418.4 982.1h12.4l-6.2 -10.5zM1425.9 981.9h12.4l-6.2 -10.5zM1433.4 981.6h12.4l-6.2 -10.5zM1440.9 981.4h12.4l-6.2 -10.5zM1448.4 981.3h12.4l-6.2 -10.5zM1455.9 981.2h12.4l-6.2 -10.5zM1463.4 981h12.4l-6.2 -10.5zM1470.9 980.8h12.4l-6.2 -10.5zM1478.4 980h12.4l-6.2 -10.5zM1485.8 979.3h12.4l-6.2 -10.5zM1493.3 978.5h12.4l-6.2 -10.5zM1500.8 977.8h12.4l-6.2 -10.5zM1508.2 978.3h12.4l-6.2 -10.5zM1515.7 979.1h12.4l-6.2 -10.5zM1523.2 979.8h12.4l-6.2 -10.5zM1530.6 980.6h12.4l-6.2 -10.5zM1538.1 981.5h12.4l-6.2 -10.5zM1545.5 982.7h12.4l-6.2 -10.5zM1552.9 983.8h12.4l-6.2 -10.5zM1560.3 984.9h12.4l-6.2 -10.5zM1567.7 985.8h12.4l-6.2 -10.5zM1575.2 986.2h12.4l-6.2 -10.5zM1582.7 986.5h12.4l-6.2 -10.5zM1590.2 986.9h12.4l-6.2 -10.5zM1597.7 987.3h12.4l-6.2 -10.5zM1605.2 987.7h12.4l-6.2 -10.5zM1612.7 988h12.4l-6.2 -10.5zM1620.2 988.4h12.4l-6.2 -10.5zM1627.7 988.8h12.4l-6.2 -10.5zM1629.8 988.9h12.4l-6.2 -10.5z" fill="#f00"/>
<path d="M1373.8 1025.7h12.4l-6.2 -10.5zM1381.3 1026.3h12.4l-6.2 -10.5zM1388.8 1026.8h12.4l-6.2 -10.5zM1396.2 1027.4h12.4l-6.2 -10.5zM1403.7 1027.9h12.4l-6.2 -10.5zM1411.2 1028.5h12.4l-6.2 -10.5zM1418.7 1029.1h12.4l-6.2 -10.5zM1426.2 1029.6h12.4l-6.2 -10.5zM1433.6 1030.2h12.4l-6.2 -10.5zM1441.1 1030.7h12.4l-6.2 -10.5zM1448.6 1031.3h12.4l-6.2 -10.5zM1456.1 1031.9h12.4l-6.2 -10.5zM1463.5 1032.4h12.4l-6.2 -10.5zM1471 1033h12.4l-6.2 -10.5zM1478.5 1033.6h12.4l-6.2 -10.5zM1486 1034.1h12.4l-6.2 -10.5zM1493.5 1034.7h12.4l-6.2 -10.5zM1500.9 1035.2h12.4l-6.2 -10.5zM1508.4 1036h12.4l-6.2 -10.5zM1515.9 1036.7h12.4l-6.2 -10.5zM1523.3 1037.5h12.4l-6.2 -10.5zM1530.8 1038.2h12.4l-6.2 -10.5zM1538.3 1038.9h12.4l-6.2 -10.5zM1545.7 1039.7h12.4l-6.2 -10.5zM1553.2 1040.4h12.4l-6.2 -10.5zM1560.6 1041.2h12.4l-6.2 -10.5zM1568.1 1041.8h12.4l-6.2 -10.5zM1575.6 1042.2h12.4l-6.2 -10.5zM1583.1 1042.6h12.4l-6.2 -10.5zM1590.6 1042.9h12.4l-6.2 -10.5zM1598.1 1043.3h12.4l-6.2 -10.5zM1605.6 1043.7h12.4l-6.2 -10.5zM1613.1 1044.1h12.4l-6.2 -10.5zM1620.6 1044.4h12.4l-6.2 -10.5zM1628 1044.8h12.4l-6.2 -10.5zM1629.8 1044.9h12.4l-6.2 -10.5z" fill="#f00"/>
<path d="M1628.8 911.5h12.4l-6.2 -10.5zM1628.8 919h12.4l-6.2 -10.5zM1628.8 926.5h12.4l-6.2 -10.5zM1628.8 934h12.4l-6.2 -10.5zM1628.8 941.5h12.4l-6.2 -10.5zM1628.8 949h12.4l-6.2 -10.5zM1628.8 956.5h12.4l-6.2 -10.5zM1628.8 964h12.4l-6.2 -10.5zM1628.8 971.5h12.4l-6.2 -10.5zM1628.8 979h12.4l-6.2 -10.5zM1628.8 986.5h12.4l-6.2 -10.5zM1628.8 993.5h12.4l-6.2 -10.5z" fill="#f00"/>
<path d="M1621.8 915.5h12.4l-6.2 -10.5zM1621.8 923h12.4l-6.2 -10.5zM1621.8 930.5h12.4l-6.2 -10.5zM1621.8 938h12.4l-6.2 -10.5zM1621.8 945.5h12.4l-6.2 -10.5zM1621.8 953h12.4l-6.2 -10.5zM1621.8 960.5h12.4l-6.2 -10.5zM1621.8 968h12.4l-6.2 -10.5zM1621.8 975.5h12.4l-6.2 -10.5zM1621.8 983h12.4l-6.2 -10.5zM1621.8 988.5h12.4l-6.2 -10.5z" fill="#f00"/>
<path d="M760 795.6 L778.7 804.9 L797.4 816.1 L816.1 823.6 L834.7 831.1 L853.4 838.6 L872.1 847.9 L890.8 855.4 L909.5 862.8 L928.2 868.5 L946.9 874.1 L965.6 879.7 L984.2 885.3 L1002.9 892.7 L1021.6 900.2 L1040.3 905.8 L1059 913.3 L1068.3 915.9" fill="none" stroke="#000" stroke-width="6.5" stroke-linejoin="round"/>
<path d="M760 789.4L761.6 793.3L765.9 793.7L762.7 796.4L763.6 800.6L760 798.4L756.4 800.6L757.3 796.4L754.1 793.7L758.4 793.3zM765.4 792.1L767 796L771.3 796.3L768 799.1L769 803.3L765.4 801.1L761.7 803.3L762.7 799.1L759.5 796.3L763.7 796zM770.7 794.7L772.4 798.7L776.6 799L773.4 801.8L774.4 806L770.7 803.7L767.1 806L768.1 801.8L764.8 799L769.1 798.7zM776.1 797.4L777.7 801.4L782 801.7L778.8 804.5L779.7 808.6L776.1 806.4L772.5 808.6L773.4 804.5L770.2 801.7L774.5 801.4zM781.4 800.3L783 804.3L787.2 804.6L784 807.4L785 811.5L781.4 809.3L777.7 811.5L778.7 807.4L775.5 804.6L779.7 804.3zM786.5 803.4L788.1 807.3L792.4 807.7L789.2 810.5L790.1 814.6L786.5 812.4L782.9 814.6L783.8 810.5L780.6 807.7L784.9 807.3zM791.6 806.5L793.3 810.4L797.5 810.8L794.3 813.6L795.3 817.7L791.6 815.5L788 817.7L789 813.6L785.7 810.8L790 810.4zM796.8 809.6L798.4 813.5L802.7 813.9L799.4 816.6L800.4 820.8L796.8 818.6L793.1 820.8L794.1 816.6L790.9 813.9L795.1 813.5zM802.3 811.9L804 815.8L808.2 816.2L805 819L806 823.1L802.3 820.9L798.7 823.1L799.6 819L796.4 816.2L800.7 815.8zM807.9 814.1L809.5 818.1L813.8 818.4L810.5 821.2L811.5 825.3L807.9 823.1L804.2 825.3L805.2 821.2L802 818.4L806.2 818.1zM813.5 816.4L815.1 820.3L819.3 820.6L816.1 823.4L817.1 827.6L813.5 825.4L809.8 827.6L810.8 823.4L807.6 820.6L811.8 820.3zM819 818.6L820.7 822.5L824.9 822.9L821.7 825.7L822.7 829.8L819 827.6L815.4 829.8L816.4 825.7L813.1 822.9L817.4 822.5zM824.6 820.8L826.2 824.8L830.5 825.1L827.3 827.9L828.2 832L824.6 829.8L820.9 832L821.9 827.9L818.7 825.1L822.9 824.8zM830.2 823L831.8 827L836.1 827.3L832.8 830.1L833.8 834.3L830.2 832L826.5 834.3L827.5 830.1L824.3 827.3L828.5 827zM835.7 825.3L837.4 829.2L841.6 829.6L838.4 832.3L839.4 836.5L835.7 834.3L832.1 836.5L833.1 832.3L829.8 829.6L834.1 829.2zM841.3 827.5L843 831.4L847.2 831.8L844 834.6L844.9 838.7L841.3 836.5L837.7 838.7L838.6 834.6L835.4 831.8L839.7 831.4zM846.9 829.7L848.5 833.7L852.8 834L849.5 836.8L850.5 840.9L846.9 838.7L843.2 840.9L844.2 836.8L841 834L845.2 833.7zM852.4 832L854.1 835.9L858.3 836.2L855.1 839L856.1 843.2L852.4 841L848.8 843.2L849.8 839L846.5 836.2L850.8 835.9zM857.8 834.6L859.5 838.5L863.7 838.8L860.5 841.6L861.5 845.8L857.8 843.6L854.2 845.8L855.2 841.6L852 838.8L856.2 838.5zM863.2 837.2L864.9 841.2L869.1 841.5L865.9 844.3L866.9 848.5L863.2 846.2L859.6 848.5L860.6 844.3L857.3 841.5L861.6 841.2zM868.6 839.9L870.2 843.9L874.5 844.2L871.2 847L872.2 851.1L868.6 848.9L864.9 851.1L865.9 847L862.7 844.2L866.9 843.9zM874 842.5L875.7 846.4L879.9 846.7L876.7 849.5L877.7 853.7L874 851.5L870.4 853.7L871.4 849.5L868.1 846.7L872.4 846.4zM879.6 844.7L881.2 848.6L885.5 849L882.3 851.7L883.2 855.9L879.6 853.7L875.9 855.9L876.9 851.7L873.7 849L877.9 848.6zM885.2 846.9L886.8 850.8L891.1 851.2L887.8 854L888.8 858.1L885.2 855.9L881.5 858.1L882.5 854L879.3 851.2L883.5 850.8zM890.7 849.1L892.4 853.1L896.6 853.4L893.4 856.2L894.4 860.4L890.7 858.1L887.1 860.4L888.1 856.2L884.8 853.4L889.1 853.1zM896.3 851.4L897.9 855.3L902.2 855.7L899 858.4L899.9 862.6L896.3 860.4L892.7 862.6L893.6 858.4L890.4 855.7L894.7 855.3zM901.9 853.6L903.5 857.5L907.8 857.9L904.5 860.7L905.5 864.8L901.9 862.6L898.2 864.8L899.2 860.7L896 857.9L900.2 857.5zM907.4 855.8L909.1 859.8L913.3 860.1L910.1 862.9L911.1 867L907.4 864.8L903.8 867L904.8 862.9L901.5 860.1L905.8 859.8zM913.1 857.7L914.8 861.7L919 862L915.8 864.8L916.8 869L913.1 866.7L909.5 869L910.5 864.8L907.2 862L911.5 861.7zM918.9 859.5L920.5 863.4L924.8 863.7L921.5 866.5L922.5 870.7L918.9 868.5L915.2 870.7L916.2 866.5L913 863.7L917.2 863.4zM924.6 861.2L926.3 865.1L930.5 865.5L927.3 868.2L928.3 872.4L924.6 870.2L921 872.4L922 868.2L918.7 865.5L923 865.1zM930.4 862.9L932 866.8L936.3 867.2L933 870L934 874.1L930.4 871.9L926.7 874.1L927.7 870L924.5 867.2L928.7 866.8zM936.1 864.6L937.8 868.6L942 868.9L938.8 871.7L939.8 875.8L936.1 873.6L932.5 875.8L933.5 871.7L930.2 868.9L934.5 868.6zM941.9 866.4L943.5 870.3L947.8 870.6L944.5 873.4L945.5 877.6L941.9 875.4L938.2 877.6L939.2 873.4L936 870.6L940.2 870.3zM947.6 868.1L949.3 872L953.5 872.4L950.3 875.1L951.3 879.3L947.6 877.1L944 879.3L944.9 875.1L941.7 872.4L946 872zM953.4 869.8L955 873.7L959.3 874.1L956 876.9L957 881L953.4 878.8L949.7 881L950.7 876.9L947.5 874.1L951.7 873.7zM959.1 871.5L960.7 875.5L965 875.8L961.8 878.6L962.7 882.7L959.1 880.5L955.5 882.7L956.4 878.6L953.2 875.8L957.5 875.5zM964.8 873.3L966.5 877.2L970.7 877.5L967.5 880.3L968.5 884.5L964.8 882.3L961.2 884.5L962.2 880.3L959 877.5L963.2 877.2zM970.6 875L972.2 878.9L976.5 879.3L973.3 882L974.2 886.2L970.6 884L967 886.2L967.9 882L964.7 879.3L968.9 878.9zM976.3 876.7L978 880.6L982.2 881L979 883.8L980 887.9L976.3 885.7L972.7 887.9L973.7 883.8L970.4 881L974.7 880.6zM982.1 878.4L983.7 882.4L988 882.7L984.8 885.5L985.7 889.6L982.1 887.4L978.4 889.6L979.4 885.5L976.2 882.7L980.4 882.4zM987.7 880.5L989.4 884.4L993.6 884.7L990.4 887.5L991.4 891.7L987.7 889.5L984.1 891.7L985.1 887.5L981.8 884.7L986.1 884.4zM993.3 882.7L994.9 886.6L999.2 887L996 889.8L996.9 893.9L993.3 891.7L989.7 893.9L990.6 889.8L987.4 887L991.7 886.6zM998.9 884.9L1000.5 888.9L1004.8 889.2L1001.5 892L1002.5 896.1L998.9 893.9L995.2 896.1L996.2 892L993 889.2L997.2 888.9zM1004.4 887.1L1006.1 891.1L1010.3 891.4L1007.1 894.2L1008.1 898.4L1004.4 896.1L1000.8 898.4L1001.8 894.2L998.5 891.4L1002.8 891.1zM1010 889.4L1011.7 893.3L1015.9 893.7L1012.7 896.4L1013.7 900.6L1010 898.4L1006.4 900.6L1007.3 896.4L1004.1 893.7L1008.4 893.3zM1015.6 891.6L1017.2 895.5L1021.5 895.9L1018.2 898.7L1019.2 902.8L1015.6 900.6L1011.9 902.8L1012.9 898.7L1009.7 895.9L1013.9 895.5zM1021.2 893.8L1022.8 897.8L1027 898.1L1023.8 900.9L1024.8 905L1021.2 902.8L1017.5 905L1018.5 900.9L1015.3 898.1L1019.5 897.8zM1026.9 895.6L1028.5 899.5L1032.8 899.9L1029.5 902.7L1030.5 906.8L1026.9 904.6L1023.2 906.8L1024.2 902.7L1021 899.9L1025.2 899.5zM1032.6 897.3L1034.3 901.3L1038.5 901.6L1035.3 904.4L1036.3 908.5L1032.6 906.3L1029 908.5L1030 904.4L1026.7 901.6L1031 901.3zM1038.4 899L1040 903L1044.3 903.3L1041 906.1L1042 910.3L1038.4 908L1034.7 910.3L1035.7 906.1L1032.5 903.3L1036.7 903zM1044 901.1L1045.7 905L1049.9 905.4L1046.7 908.2L1047.7 912.3L1044 910.1L1040.4 912.3L1041.3 908.2L1038.1 905.4L1042.4 905zM1049.6 903.3L1051.2 907.3L1055.5 907.6L1052.2 910.4L1053.2 914.6L1049.6 912.3L1045.9 914.6L1046.9 910.4L1043.7 907.6L1047.9 907.3zM1055.1 905.6L1056.8 909.5L1061 909.8L1057.8 912.6L1058.8 916.8L1055.1 914.6L1051.5 916.8L1052.5 912.6L1049.3 909.8L1053.5 909.5zM1060.8 907.6L1062.4 911.5L1066.7 911.9L1063.4 914.7L1064.4 918.8L1060.8 916.6L1057.1 918.8L1058.1 914.7L1054.9 911.9L1059.1 911.5zM1066.6 909.2L1068.2 913.2L1072.5 913.5L1069.2 916.3L1070.2 920.4L1066.6 918.2L1062.9 920.4L1063.9 916.3L1060.7 913.5L1064.9 913.2zM1068.3 909.7L1070 913.6L1074.2 914L1071 916.8L1072 920.9L1068.3 918.7L1064.7 920.9L1065.7 916.8L1062.4 914L1066.7 913.6z" fill="#000"/>
<path d="M462 704 L462 721 L485.9 725.1 L514.1 724.4 L541.9 726.1 L570 723.4 L588.9 729.1 L607.4 738.3 L628.6 743.3 L661.7 754.9 L694.8 764.8 L727.9 784.7 L760 797.5" fill="none" stroke="#000" stroke-width="6.5" stroke-linejoin="round"/>
<path d="M462 697.8L463.7 701.7L467.9 702.1L464.7 704.9L465.7 709L462 706.8L458.4 709L459.3 704.9L456.1 702.1L460.4 701.7zM462 703.8L463.7 707.7L467.9 708.1L464.7 710.9L465.7 715L462 712.8L458.4 715L459.3 710.9L456.1 708.1L460.4 707.7zM462 709.8L463.7 713.7L467.9 714.1L464.7 716.9L465.7 721L462 718.8L458.4 721L459.3 716.9L456.1 714.1L460.4 713.7zM463 715L464.7 718.9L468.9 719.2L465.7 722L466.7 726.2L463 724L459.4 726.2L460.4 722L457.1 719.2L461.4 718.9zM468.9 716L470.6 719.9L474.8 720.3L471.6 723L472.6 727.2L468.9 725L465.3 727.2L466.3 723L463 720.3L467.3 719.9zM474.8 717L476.5 720.9L480.7 721.3L477.5 724.1L478.5 728.2L474.8 726L471.2 728.2L472.2 724.1L468.9 721.3L473.2 720.9zM480.8 718L482.4 721.9L486.7 722.3L483.4 725.1L484.4 729.2L480.8 727L477.1 729.2L478.1 725.1L474.9 722.3L479.1 721.9zM486.7 718.9L488.3 722.8L492.6 723.2L489.3 725.9L490.3 730.1L486.7 727.9L483 730.1L484 725.9L480.8 723.2L485 722.8zM492.7 718.7L494.3 722.7L498.6 723L495.3 725.8L496.3 730L492.7 727.7L489 730L490 725.8L486.8 723L491 722.7zM498.7 718.6L500.3 722.5L504.6 722.9L501.3 725.7L502.3 729.8L498.7 727.6L495 729.8L496 725.7L492.8 722.9L497 722.5zM504.7 718.5L506.3 722.4L510.6 722.7L507.3 725.5L508.3 729.7L504.7 727.5L501 729.7L502 725.5L498.8 722.7L503 722.4zM510.7 718.3L512.3 722.2L516.6 722.6L513.3 725.4L514.3 729.5L510.7 727.3L507 729.5L508 725.4L504.8 722.6L509 722.2zM516.7 718.4L518.3 722.3L522.6 722.7L519.3 725.5L520.3 729.6L516.7 727.4L513 729.6L514 725.5L510.8 722.7L515 722.3zM522.7 718.7L524.3 722.7L528.6 723L525.3 725.8L526.3 730L522.7 727.7L519 730L520 725.8L516.8 723L521 722.7zM528.6 719.1L530.3 723L534.5 723.4L531.3 726.2L532.3 730.3L528.6 728.1L525 730.3L526 726.2L522.7 723.4L527 723zM534.6 719.5L536.3 723.4L540.5 723.7L537.3 726.5L538.3 730.7L534.6 728.5L531 730.7L532 726.5L528.7 723.7L533 723.4zM540.6 719.8L542.3 723.7L546.5 724.1L543.3 726.9L544.3 731L540.6 728.8L537 731L538 726.9L534.7 724.1L539 723.7zM546.6 719.4L548.2 723.4L552.5 723.7L549.3 726.5L550.2 730.7L546.6 728.4L543 730.7L543.9 726.5L540.7 723.7L545 723.4zM552.6 718.9L554.2 722.8L558.5 723.2L555.2 725.9L556.2 730.1L552.6 727.9L548.9 730.1L549.9 725.9L546.7 723.2L550.9 722.8zM558.5 718.3L560.2 722.3L564.4 722.6L561.2 725.4L562.2 729.5L558.5 727.3L554.9 729.5L555.9 725.4L552.7 722.6L556.9 722.3zM564.5 717.8L566.2 721.7L570.4 722L567.2 724.8L568.2 729L564.5 726.8L560.9 729L561.9 724.8L558.6 722L562.9 721.7zM570.5 717.4L572.1 721.3L576.4 721.7L573.1 724.4L574.1 728.6L570.5 726.4L566.8 728.6L567.8 724.4L564.6 721.7L568.8 721.3zM576.2 719.1L577.9 723L582.1 723.4L578.9 726.2L579.9 730.3L576.2 728.1L572.6 730.3L573.6 726.2L570.3 723.4L574.6 723zM582 720.8L583.6 724.7L587.9 725.1L584.6 727.9L585.6 732L582 729.8L578.3 732L579.3 727.9L576.1 725.1L580.3 724.7zM587.7 722.5L589.4 726.5L593.6 726.8L590.4 729.6L591.4 733.7L587.7 731.5L584.1 733.7L585.1 729.6L581.8 726.8L586.1 726.5zM593.2 725L594.8 728.9L599.1 729.3L595.8 732.1L596.8 736.2L593.2 734L589.5 736.2L590.5 732.1L587.3 729.3L591.5 728.9zM598.5 727.7L600.2 731.6L604.4 732L601.2 734.8L602.2 738.9L598.5 736.7L594.9 738.9L595.9 734.8L592.6 732L596.9 731.6zM603.9 730.4L605.5 734.3L609.8 734.7L606.6 737.4L607.5 741.6L603.9 739.4L600.3 741.6L601.2 737.4L598 734.7L602.3 734.3zM609.4 732.6L611.1 736.5L615.3 736.9L612.1 739.7L613.1 743.8L609.4 741.6L605.8 743.8L606.8 739.7L603.5 736.9L607.8 736.5zM615.3 734L616.9 737.9L621.2 738.3L617.9 741L618.9 745.2L615.3 743L611.6 745.2L612.6 741L609.4 738.3L613.6 737.9zM621.1 735.3L622.8 739.3L627 739.6L623.8 742.4L624.8 746.6L621.1 744.3L617.5 746.6L618.5 742.4L615.2 739.6L619.5 739.3zM627 736.7L628.6 740.6L632.9 741L629.6 743.8L630.6 747.9L627 745.7L623.3 747.9L624.3 743.8L621.1 741L625.3 740.6zM632.7 738.5L634.3 742.5L638.6 742.8L635.3 745.6L636.3 749.7L632.7 747.5L629 749.7L630 745.6L626.8 742.8L631 742.5zM638.3 740.5L640 744.4L644.2 744.8L641 747.6L642 751.7L638.3 749.5L634.7 751.7L635.7 747.6L632.4 744.8L636.7 744.4zM644 742.5L645.6 746.4L649.9 746.8L646.7 749.6L647.6 753.7L644 751.5L640.4 753.7L641.3 749.6L638.1 746.8L642.4 746.4zM649.7 744.5L651.3 748.4L655.6 748.8L652.3 751.5L653.3 755.7L649.7 753.5L646 755.7L647 751.5L643.8 748.8L648 748.4zM655.3 746.4L657 750.4L661.2 750.7L658 753.5L659 757.7L655.3 755.4L651.7 757.7L652.7 753.5L649.4 750.7L653.7 750.4zM661 748.4L662.6 752.4L666.9 752.7L663.7 755.5L664.6 759.6L661 757.4L657.3 759.6L658.3 755.5L655.1 752.7L659.3 752.4zM666.7 750.2L668.4 754.1L672.6 754.5L669.4 757.3L670.4 761.4L666.7 759.2L663.1 761.4L664.1 757.3L660.8 754.5L665.1 754.1zM672.5 751.9L674.1 755.8L678.4 756.2L675.1 759L676.1 763.1L672.5 760.9L668.8 763.1L669.8 759L666.6 756.2L670.8 755.8zM678.2 753.6L679.9 757.6L684.1 757.9L680.9 760.7L681.9 764.9L678.2 762.6L674.6 764.9L675.6 760.7L672.3 757.9L676.6 757.6zM684 755.4L685.6 759.3L689.9 759.6L686.6 762.4L687.6 766.6L684 764.4L680.3 766.6L681.3 762.4L678.1 759.6L682.3 759.3zM689.7 757.1L691.4 761L695.6 761.4L692.4 764.2L693.4 768.3L689.7 766.1L686.1 768.3L687 764.2L683.8 761.4L688.1 761zM695.4 759L697 762.9L701.3 763.2L698.1 766L699 770.2L695.4 768L691.7 770.2L692.7 766L689.5 763.2L693.7 762.9zM700.5 762L702.2 766L706.4 766.3L703.2 769.1L704.2 773.3L700.5 771L696.9 773.3L697.9 769.1L694.6 766.3L698.9 766zM705.7 765.1L707.3 769.1L711.6 769.4L708.3 772.2L709.3 776.4L705.7 774.1L702 776.4L703 772.2L699.8 769.4L704 769.1zM710.8 768.2L712.5 772.2L716.7 772.5L713.5 775.3L714.5 779.4L710.8 777.2L707.2 779.4L708.2 775.3L704.9 772.5L709.2 772.2zM716 771.3L717.6 775.2L721.9 775.6L718.6 778.4L719.6 782.5L716 780.3L712.3 782.5L713.3 778.4L710.1 775.6L714.3 775.2zM721.1 774.4L722.8 778.3L727 778.7L723.8 781.5L724.8 785.6L721.1 783.4L717.5 785.6L718.5 781.5L715.2 778.7L719.5 778.3zM726.3 777.5L727.9 781.4L732.2 781.8L728.9 784.5L729.9 788.7L726.3 786.5L722.6 788.7L723.6 784.5L720.4 781.8L724.6 781.4zM731.7 780L733.3 783.9L737.6 784.3L734.4 787.1L735.3 791.2L731.7 789L728.1 791.2L729 787.1L725.8 784.3L730 783.9zM737.3 782.2L738.9 786.2L743.2 786.5L739.9 789.3L740.9 793.4L737.3 791.2L733.6 793.4L734.6 789.3L731.4 786.5L735.6 786.2zM742.8 784.4L744.5 788.4L748.7 788.7L745.5 791.5L746.5 795.7L742.8 793.4L739.2 795.7L740.2 791.5L736.9 788.7L741.2 788.4zM748.4 786.7L750.1 790.6L754.3 791L751.1 793.7L752.1 797.9L748.4 795.7L744.8 797.9L745.7 793.7L742.5 791L746.8 790.6zM754 788.9L755.6 792.8L759.9 793.2L756.6 796L757.6 800.1L754 797.9L750.3 800.1L751.3 796L748.1 793.2L752.3 792.8zM759.5 791.1L761.2 795.1L765.4 795.4L762.2 798.2L763.2 802.3L759.5 800.1L755.9 802.3L756.9 798.2L753.7 795.4L757.9 795.1zM760 791.3L761.6 795.2L765.9 795.6L762.7 798.4L763.6 802.5L760 800.3L756.4 802.5L757.3 798.4L754.1 795.6L758.4 795.2z" fill="#000"/>
<path d="M462.1 704.9 L467.1 704.2 L487.9 708.5 L506.1 717.8 L516.1 722.4" fill="none" stroke="#000" stroke-width="3" stroke-linejoin="round"/>
<path d="M461.4 705.2 L461.4 768.1" fill="none" stroke="#000" stroke-width="6.5" stroke-linejoin="round"/>
<path d="M461.4 699L463.1 703L467.3 703.3L464.1 706.1L465.1 710.2L461.4 708L457.8 710.2L458.8 706.1L455.6 703.3L459.8 703zM461.4 705L463.1 709L467.3 709.3L464.1 712.1L465.1 716.2L461.4 714L457.8 716.2L458.8 712.1L455.6 709.3L459.8 709zM461.4 711L463.1 715L467.3 715.3L464.1 718.1L465.1 722.2L461.4 720L457.8 722.2L458.8 718.1L455.6 715.3L459.8 715zM461.4 717L463.1 721L467.3 721.3L464.1 724.1L465.1 728.2L461.4 726L457.8 728.2L458.8 724.1L455.6 721.3L459.8 721zM461.4 723L463.1 727L467.3 727.3L464.1 730.1L465.1 734.2L461.4 732L457.8 734.2L458.8 730.1L455.6 727.3L459.8 727zM461.4 729L463.1 733L467.3 733.3L464.1 736.1L465.1 740.2L461.4 738L457.8 740.2L458.8 736.1L455.6 733.3L459.8 733zM461.4 735L463.1 739L467.3 739.3L464.1 742.1L465.1 746.2L461.4 744L457.8 746.2L458.8 742.1L455.6 739.3L459.8 739zM461.4 741L463.1 745L467.3 745.3L464.1 748.1L465.1 752.2L461.4 750L457.8 752.2L458.8 748.1L455.6 745.3L459.8 745zM461.4 747L463.1 751L467.3 751.3L464.1 754.1L465.1 758.2L461.4 756L457.8 758.2L458.8 754.1L455.6 751.3L459.8 751zM461.4 753L463.1 757L467.3 757.3L464.1 760.1L465.1 764.2L461.4 762L457.8 764.2L458.8 760.1L455.6 757.3L459.8 757zM461.4 759L463.1 763L467.3 763.3L464.1 766.1L465.1 770.2L461.4 768L457.8 770.2L458.8 766.1L455.6 763.3L459.8 763zM461.4 761.9L463.1 765.9L467.3 766.2L464.1 769L465.1 773.1L461.4 770.9L457.8 773.1L458.8 769L455.6 766.2L459.8 765.9z" fill="#000"/>
<path d="M461.4 768.1 L479.7 788 L512.8 814.5 L545.9 841 L579 864.1 L612.1 884 L645.2 903.8 L678.3 920.4 L711.4 936.9 L744.5 953.5 L760 959.7" fill="none" stroke="#000" stroke-width="6.5" stroke-linejoin="round"/>
<path d="M461.4 761.9L463.1 765.9L467.3 766.2L464.1 769L465.1 773.1L461.4 770.9L457.8 773.1L458.8 769L455.6 766.2L459.8 765.9zM465.5 766.3L467.1 770.3L471.4 770.6L468.2 773.4L469.1 777.6L465.5 775.3L461.9 777.6L462.8 773.4L459.6 770.6L463.9 770.3zM469.6 770.8L471.2 774.7L475.5 775.1L472.2 777.8L473.2 782L469.6 779.8L465.9 782L466.9 777.8L463.7 775.1L467.9 774.7zM473.6 775.2L475.3 779.1L479.5 779.5L476.3 782.3L477.3 786.4L473.6 784.2L470 786.4L470.9 782.3L467.7 779.5L472 779.1zM477.7 779.6L479.3 783.6L483.6 783.9L480.3 786.7L481.3 790.8L477.7 788.6L474 790.8L475 786.7L471.8 783.9L476 783.6zM482 783.7L483.7 787.6L487.9 788L484.7 790.8L485.7 794.9L482 792.7L478.4 794.9L479.4 790.8L476.1 788L480.4 787.6zM486.7 787.4L488.4 791.4L492.6 791.7L489.4 794.5L490.4 798.7L486.7 796.4L483.1 798.7L484.1 794.5L480.8 791.7L485.1 791.4zM491.4 791.2L493.1 795.1L497.3 795.5L494.1 798.3L495.1 802.4L491.4 800.2L487.8 802.4L488.7 798.3L485.5 795.5L489.8 795.1zM496.1 794.9L497.7 798.9L502 799.2L498.8 802L499.7 806.2L496.1 803.9L492.5 806.2L493.4 802L490.2 799.2L494.4 798.9zM500.8 798.7L502.4 802.6L506.7 803L503.4 805.8L504.4 809.9L500.8 807.7L497.1 809.9L498.1 805.8L494.9 803L499.1 802.6zM505.5 802.4L507.1 806.4L511.4 806.7L508.1 809.5L509.1 813.7L505.5 811.4L501.8 813.7L502.8 809.5L499.6 806.7L503.8 806.4zM510.2 806.2L511.8 810.1L516 810.5L512.8 813.3L513.8 817.4L510.2 815.2L506.5 817.4L507.5 813.3L504.3 810.5L508.5 810.1zM514.8 809.9L516.5 813.9L520.7 814.2L517.5 817L518.5 821.1L514.8 818.9L511.2 821.1L512.2 817L508.9 814.2L513.2 813.9zM519.5 813.7L521.2 817.6L525.4 818L522.2 820.7L523.2 824.9L519.5 822.7L515.9 824.9L516.9 820.7L513.6 818L517.9 817.6zM524.2 817.4L525.9 821.4L530.1 821.7L526.9 824.5L527.9 828.6L524.2 826.4L520.6 828.6L521.5 824.5L518.3 821.7L522.6 821.4zM528.9 821.2L530.5 825.1L534.8 825.5L531.6 828.2L532.5 832.4L528.9 830.2L525.2 832.4L526.2 828.2L523 825.5L527.2 825.1zM533.6 824.9L535.2 828.9L539.5 829.2L536.2 832L537.2 836.1L533.6 833.9L529.9 836.1L530.9 832L527.7 829.2L531.9 828.9zM538.3 828.7L539.9 832.6L544.2 833L540.9 835.7L541.9 839.9L538.3 837.7L534.6 839.9L535.6 835.7L532.4 833L536.6 832.6zM542.9 832.4L544.6 836.4L548.8 836.7L545.6 839.5L546.6 843.6L542.9 841.4L539.3 843.6L540.3 839.5L537.1 836.7L541.3 836.4zM547.7 836.1L549.4 840L553.6 840.3L550.4 843.1L551.4 847.3L547.7 845.1L544.1 847.3L545.1 843.1L541.8 840.3L546.1 840zM552.6 839.5L554.3 843.4L558.5 843.8L555.3 846.6L556.3 850.7L552.6 848.5L549 850.7L550 846.6L546.7 843.8L551 843.4zM557.6 842.9L559.2 846.9L563.4 847.2L560.2 850L561.2 854.2L557.6 851.9L553.9 854.2L554.9 850L551.7 847.2L555.9 846.9zM562.5 846.4L564.1 850.3L568.4 850.7L565.1 853.4L566.1 857.6L562.5 855.4L558.8 857.6L559.8 853.4L556.6 850.7L560.8 850.3zM567.4 849.8L569 853.8L573.3 854.1L570 856.9L571 861L567.4 858.8L563.7 861L564.7 856.9L561.5 854.1L565.7 853.8zM572.3 853.3L573.9 857.2L578.2 857.5L575 860.3L575.9 864.5L572.3 862.3L568.7 864.5L569.6 860.3L566.4 857.5L570.7 857.2zM577.2 856.7L578.9 860.6L583.1 861L579.9 863.8L580.9 867.9L577.2 865.7L573.6 867.9L574.5 863.8L571.3 861L575.6 860.6zM582.3 859.9L583.9 863.8L588.2 864.2L584.9 867L585.9 871.1L582.3 868.9L578.6 871.1L579.6 867L576.4 864.2L580.6 863.8zM587.4 863L589.1 866.9L593.3 867.3L590.1 870.1L591.1 874.2L587.4 872L583.8 874.2L584.8 870.1L581.5 867.3L585.8 866.9zM592.6 866.1L594.2 870L598.5 870.4L595.2 873.2L596.2 877.3L592.6 875.1L588.9 877.3L589.9 873.2L586.7 870.4L590.9 870zM597.7 869.2L599.4 873.1L603.6 873.5L600.4 876.2L601.4 880.4L597.7 878.2L594.1 880.4L595 876.2L591.8 873.5L596.1 873.1zM602.9 872.3L604.5 876.2L608.8 876.5L605.5 879.3L606.5 883.5L602.9 881.3L599.2 883.5L600.2 879.3L597 876.5L601.2 876.2zM608 875.3L609.6 879.3L613.9 879.6L610.7 882.4L611.6 886.6L608 884.3L604.4 886.6L605.3 882.4L602.1 879.6L606.4 879.3zM613.1 878.4L614.8 882.4L619 882.7L615.8 885.5L616.8 889.6L613.1 887.4L609.5 889.6L610.5 885.5L607.2 882.7L611.5 882.4zM618.3 881.5L619.9 885.5L624.2 885.8L621 888.6L621.9 892.7L618.3 890.5L614.6 892.7L615.6 888.6L612.4 885.8L616.6 885.5zM623.4 884.6L625.1 888.5L629.3 888.9L626.1 891.7L627.1 895.8L623.4 893.6L619.8 895.8L620.8 891.7L617.5 888.9L621.8 888.5zM628.6 887.7L630.2 891.6L634.5 892L631.2 894.8L632.2 898.9L628.6 896.7L624.9 898.9L625.9 894.8L622.7 892L626.9 891.6zM633.7 890.8L635.4 894.7L639.6 895.1L636.4 897.8L637.4 902L633.7 899.8L630.1 902L631.1 897.8L627.8 895.1L632.1 894.7zM638.9 893.9L640.5 897.8L644.8 898.2L641.5 900.9L642.5 905.1L638.9 902.9L635.2 905.1L636.2 900.9L633 898.2L637.2 897.8zM644 897L645.7 900.9L649.9 901.2L646.7 904L647.7 908.2L644 906L640.4 908.2L641.4 904L638.1 901.2L642.4 900.9zM649.3 899.7L651 903.7L655.2 904L652 906.8L653 910.9L649.3 908.7L645.7 910.9L646.7 906.8L643.4 904L647.7 903.7zM654.7 902.4L656.3 906.3L660.6 906.7L657.4 909.5L658.3 913.6L654.7 911.4L651.1 913.6L652 909.5L648.8 906.7L653.1 906.3zM660.1 905.1L661.7 909L666 909.4L662.7 912.2L663.7 916.3L660.1 914.1L656.4 916.3L657.4 912.2L654.2 909.4L658.4 909zM665.4 907.8L667.1 911.7L671.3 912.1L668.1 914.8L669.1 919L665.4 916.8L661.8 919L662.8 914.8L659.5 912.1L663.8 911.7zM670.8 910.5L672.4 914.4L676.7 914.7L673.5 917.5L674.4 921.7L670.8 919.5L667.2 921.7L668.1 917.5L664.9 914.7L669.2 914.4zM676.2 913.1L677.8 917.1L682.1 917.4L678.8 920.2L679.8 924.4L676.2 922.1L672.5 924.4L673.5 920.2L670.3 917.4L674.5 917.1zM681.5 915.8L683.2 919.8L687.4 920.1L684.2 922.9L685.2 927L681.5 924.8L677.9 927L678.9 922.9L675.6 920.1L679.9 919.8zM686.9 918.5L688.5 922.4L692.8 922.8L689.6 925.6L690.5 929.7L686.9 927.5L683.3 929.7L684.2 925.6L681 922.8L685.3 922.4zM692.3 921.2L693.9 925.1L698.2 925.5L694.9 928.3L695.9 932.4L692.3 930.2L688.6 932.4L689.6 928.3L686.4 925.5L690.6 925.1zM697.6 923.9L699.3 927.8L703.5 928.2L700.3 930.9L701.3 935.1L697.6 932.9L694 935.1L695 930.9L691.7 928.2L696 927.8zM703 926.6L704.6 930.5L708.9 930.8L705.7 933.6L706.6 937.8L703 935.6L699.4 937.8L700.3 933.6L697.1 930.8L701.4 930.5zM708.4 929.2L710 933.2L714.3 933.5L711 936.3L712 940.5L708.4 938.2L704.7 940.5L705.7 936.3L702.5 933.5L706.7 933.2zM713.7 931.9L715.4 935.9L719.6 936.2L716.4 939L717.4 943.1L713.7 940.9L710.1 943.1L711.1 939L707.8 936.2L712.1 935.9zM719.1 934.6L720.7 938.5L725 938.9L721.8 941.7L722.7 945.8L719.1 943.6L715.5 945.8L716.4 941.7L713.2 938.9L717.5 938.5zM724.5 937.3L726.1 941.2L730.4 941.6L727.1 944.4L728.1 948.5L724.5 946.3L720.8 948.5L721.8 944.4L718.6 941.6L722.8 941.2zM729.8 940L731.5 943.9L735.7 944.3L732.5 947L733.5 951.2L729.8 949L726.2 951.2L727.2 947L723.9 944.3L728.2 943.9zM735.2 942.7L736.8 946.6L741.1 946.9L737.9 949.7L738.8 953.9L735.2 951.7L731.6 953.9L732.5 949.7L729.3 946.9L733.6 946.6zM740.6 945.3L742.2 949.3L746.5 949.6L743.2 952.4L744.2 956.6L740.6 954.3L736.9 956.6L737.9 952.4L734.7 949.6L738.9 949.3zM746 947.9L747.6 951.8L751.9 952.2L748.6 955L749.6 959.1L746 956.9L742.3 959.1L743.3 955L740.1 952.2L744.3 951.8zM751.6 950.1L753.2 954.1L757.5 954.4L754.2 957.2L755.2 961.3L751.6 959.1L747.9 961.3L748.9 957.2L745.7 954.4L749.9 954.1zM757.1 952.4L758.8 956.3L763 956.6L759.8 959.4L760.8 963.6L757.1 961.4L753.5 963.6L754.5 959.4L751.2 956.6L755.5 956.3zM760 953.5L761.6 957.4L765.9 957.8L762.7 960.6L763.6 964.7L760 962.5L756.4 964.7L757.3 960.6L754.1 957.8L758.4 957.4z" fill="#000"/>
<path d="M1110 932.5 L1116.2 935 L1149.3 948.3 L1182.4 961.5 L1215.5 971.4 L1248.6 981.4 L1281.7 988 L1300 993.5" fill="none" stroke="#000" stroke-width="6.5" stroke-linejoin="round"/>
<path d="M1110 926.3L1111.6 930.3L1115.9 930.6L1112.7 933.4L1113.6 937.6L1110 935.3L1106.4 937.6L1107.3 933.4L1104.1 930.6L1108.4 930.3zM1115.6 928.6L1117.2 932.5L1121.5 932.9L1118.2 935.6L1119.2 939.8L1115.6 937.6L1111.9 939.8L1112.9 935.6L1109.7 932.9L1113.9 932.5zM1121.1 930.8L1122.8 934.7L1127 935.1L1123.8 937.9L1124.8 942L1121.1 939.8L1117.5 942L1118.5 937.9L1115.2 935.1L1119.5 934.7zM1126.7 933L1128.4 937L1132.6 937.3L1129.4 940.1L1130.4 944.2L1126.7 942L1123.1 944.2L1124 940.1L1120.8 937.3L1125.1 937zM1132.3 935.3L1133.9 939.2L1138.2 939.5L1134.9 942.3L1135.9 946.5L1132.3 944.3L1128.6 946.5L1129.6 942.3L1126.4 939.5L1130.6 939.2zM1137.9 937.5L1139.5 941.4L1143.8 941.8L1140.5 944.5L1141.5 948.7L1137.9 946.5L1134.2 948.7L1135.2 944.5L1132 941.8L1136.2 941.4zM1143.4 939.7L1145.1 943.6L1149.3 944L1146.1 946.8L1147.1 950.9L1143.4 948.7L1139.8 950.9L1140.8 946.8L1137.5 944L1141.8 943.6zM1149 941.9L1150.6 945.9L1154.9 946.2L1151.7 949L1152.6 953.2L1149 950.9L1145.4 953.2L1146.3 949L1143.1 946.2L1147.4 945.9zM1154.6 944.2L1156.2 948.1L1160.5 948.5L1157.2 951.2L1158.2 955.4L1154.6 953.2L1150.9 955.4L1151.9 951.2L1148.7 948.5L1152.9 948.1zM1160.1 946.4L1161.8 950.3L1166 950.7L1162.8 953.5L1163.8 957.6L1160.1 955.4L1156.5 957.6L1157.5 953.5L1154.2 950.7L1158.5 950.3zM1165.7 948.6L1167.4 952.6L1171.6 952.9L1168.4 955.7L1169.4 959.8L1165.7 957.6L1162.1 959.8L1163 955.7L1159.8 952.9L1164.1 952.6zM1171.3 950.9L1172.9 954.8L1177.2 955.1L1173.9 957.9L1174.9 962.1L1171.3 959.9L1167.6 962.1L1168.6 957.9L1165.4 955.1L1169.6 954.8zM1176.9 953.1L1178.5 957L1182.7 957.4L1179.5 960.1L1180.5 964.3L1176.9 962.1L1173.2 964.3L1174.2 960.1L1171 957.4L1175.2 957zM1182.4 955.3L1184.1 959.2L1188.3 959.6L1185.1 962.4L1186.1 966.5L1182.4 964.3L1178.8 966.5L1179.8 962.4L1176.5 959.6L1180.8 959.2zM1188.2 957L1189.8 961L1194.1 961.3L1190.8 964.1L1191.8 968.2L1188.2 966L1184.5 968.2L1185.5 964.1L1182.3 961.3L1186.5 961zM1193.9 958.8L1195.6 962.7L1199.8 963L1196.6 965.8L1197.6 970L1193.9 967.8L1190.3 970L1191.3 965.8L1188 963L1192.3 962.7zM1199.7 960.5L1201.3 964.4L1205.6 964.8L1202.3 967.5L1203.3 971.7L1199.7 969.5L1196 971.7L1197 967.5L1193.8 964.8L1198 964.4zM1205.4 962.2L1207.1 966.1L1211.3 966.5L1208.1 969.3L1209.1 973.4L1205.4 971.2L1201.8 973.4L1202.7 969.3L1199.5 966.5L1203.8 966.1zM1211.2 963.9L1212.8 967.9L1217.1 968.2L1213.8 971L1214.8 975.1L1211.2 972.9L1207.5 975.1L1208.5 971L1205.3 968.2L1209.5 967.9zM1216.9 965.7L1218.5 969.6L1222.8 969.9L1219.6 972.7L1220.5 976.9L1216.9 974.7L1213.3 976.9L1214.2 972.7L1211 969.9L1215.3 969.6zM1222.7 967.4L1224.3 971.3L1228.5 971.7L1225.3 974.4L1226.3 978.6L1222.7 976.4L1219 978.6L1220 974.4L1216.8 971.7L1221 971.3zM1228.4 969.1L1230 973L1234.3 973.4L1231.1 976.2L1232 980.3L1228.4 978.1L1224.8 980.3L1225.7 976.2L1222.5 973.4L1226.8 973zM1234.1 970.8L1235.8 974.8L1240 975.1L1236.8 977.9L1237.8 982L1234.1 979.8L1230.5 982L1231.5 977.9L1228.2 975.1L1232.5 974.8zM1239.9 972.6L1241.5 976.5L1245.8 976.8L1242.6 979.6L1243.5 983.8L1239.9 981.6L1236.2 983.8L1237.2 979.6L1234 976.8L1238.2 976.5zM1245.6 974.3L1247.3 978.2L1251.5 978.6L1248.3 981.3L1249.3 985.5L1245.6 983.3L1242 985.5L1243 981.3L1239.7 978.6L1244 978.2zM1251.5 975.7L1253.1 979.7L1257.3 980L1254.1 982.8L1255.1 987L1251.5 984.7L1247.8 987L1248.8 982.8L1245.6 980L1249.8 979.7zM1257.3 976.9L1259 980.8L1263.2 981.2L1260 984L1261 988.1L1257.3 985.9L1253.7 988.1L1254.7 984L1251.4 981.2L1255.7 980.8zM1263.2 978.1L1264.9 982L1269.1 982.4L1265.9 985.2L1266.9 989.3L1263.2 987.1L1259.6 989.3L1260.6 985.2L1257.3 982.4L1261.6 982zM1269.1 979.3L1270.7 983.2L1275 983.5L1271.8 986.3L1272.7 990.5L1269.1 988.3L1265.5 990.5L1266.4 986.3L1263.2 983.5L1267.5 983.2zM1275 980.4L1276.6 984.4L1280.9 984.7L1277.6 987.5L1278.6 991.7L1275 989.4L1271.3 991.7L1272.3 987.5L1269.1 984.7L1273.3 984.4zM1280.9 981.6L1282.5 985.6L1286.8 985.9L1283.5 988.7L1284.5 992.8L1280.9 990.6L1277.2 992.8L1278.2 988.7L1275 985.9L1279.2 985.6zM1286.6 983.3L1288.3 987.2L1292.5 987.5L1289.3 990.3L1290.3 994.5L1286.6 992.3L1283 994.5L1284 990.3L1280.7 987.5L1285 987.2zM1292.4 985L1294 988.9L1298.3 989.3L1295 992.1L1296 996.2L1292.4 994L1288.7 996.2L1289.7 992.1L1286.5 989.3L1290.7 988.9zM1298.1 986.7L1299.8 990.6L1304 991L1300.8 993.8L1301.8 997.9L1298.1 995.7L1294.5 997.9L1295.5 993.8L1292.2 991L1296.5 990.6zM1300 987.3L1301.6 991.2L1305.9 991.6L1302.7 994.3L1303.6 998.5L1300 996.3L1296.4 998.5L1297.3 994.3L1294.1 991.6L1298.4 991.2z" fill="#000"/>
<path d="M1300 993.5 L1314.8 997.9 L1347.9 1007.8 L1381 1017.8 L1414.1 1027.7 L1447.2 1034.3 L1480.3 1044.3 L1513.4 1054.2 L1546.5 1064.1 L1579.6 1070.7 L1612.7 1077.4 L1632.6 1080.7" fill="none" stroke="#000" stroke-width="6.5" stroke-linejoin="round"/>
<path d="M1300 987.3L1301.6 991.2L1305.9 991.6L1302.7 994.3L1303.6 998.5L1300 996.3L1296.4 998.5L1297.3 994.3L1294.1 991.6L1298.4 991.2zM1305.7 989L1307.4 992.9L1311.6 993.3L1308.4 996.1L1309.4 1000.2L1305.7 998L1302.1 1000.2L1303.1 996.1L1299.9 993.3L1304.1 992.9zM1311.5 990.7L1313.1 994.7L1317.4 995L1314.2 997.8L1315.1 1001.9L1311.5 999.7L1307.8 1001.9L1308.8 997.8L1305.6 995L1309.8 994.7zM1317.2 992.4L1318.9 996.4L1323.1 996.7L1319.9 999.5L1320.9 1003.7L1317.2 1001.4L1313.6 1003.7L1314.6 999.5L1311.3 996.7L1315.6 996.4zM1323 994.2L1324.6 998.1L1328.9 998.5L1325.7 1001.2L1326.6 1005.4L1323 1003.2L1319.3 1005.4L1320.3 1001.2L1317.1 998.5L1321.3 998.1zM1328.7 995.9L1330.4 999.8L1334.6 1000.2L1331.4 1003L1332.4 1007.1L1328.7 1004.9L1325.1 1007.1L1326.1 1003L1322.8 1000.2L1327.1 999.8zM1334.5 997.6L1336.1 1001.6L1340.4 1001.9L1337.1 1004.7L1338.1 1008.8L1334.5 1006.6L1330.8 1008.8L1331.8 1004.7L1328.6 1001.9L1332.8 1001.6zM1340.2 999.3L1341.9 1003.3L1346.1 1003.6L1342.9 1006.4L1343.9 1010.6L1340.2 1008.3L1336.6 1010.6L1337.6 1006.4L1334.3 1003.6L1338.6 1003.3zM1346 1001.1L1347.6 1005L1351.9 1005.3L1348.6 1008.1L1349.6 1012.3L1346 1010.1L1342.3 1012.3L1343.3 1008.1L1340.1 1005.3L1344.3 1005zM1351.7 1002.8L1353.4 1006.7L1357.6 1007.1L1354.4 1009.9L1355.4 1014L1351.7 1011.8L1348.1 1014L1349.1 1009.9L1345.8 1007.1L1350.1 1006.7zM1357.5 1004.5L1359.1 1008.4L1363.4 1008.8L1360.1 1011.6L1361.1 1015.7L1357.5 1013.5L1353.8 1015.7L1354.8 1011.6L1351.6 1008.8L1355.8 1008.4zM1363.2 1006.2L1364.9 1010.2L1369.1 1010.5L1365.9 1013.3L1366.9 1017.5L1363.2 1015.2L1359.6 1017.5L1360.6 1013.3L1357.3 1010.5L1361.6 1010.2zM1369 1008L1370.6 1011.9L1374.9 1012.2L1371.6 1015L1372.6 1019.2L1369 1017L1365.3 1019.2L1366.3 1015L1363.1 1012.2L1367.3 1011.9zM1374.7 1009.7L1376.4 1013.6L1380.6 1014L1377.4 1016.8L1378.4 1020.9L1374.7 1018.7L1371.1 1020.9L1372 1016.8L1368.8 1014L1373.1 1013.6zM1380.5 1011.4L1382.1 1015.3L1386.4 1015.7L1383.1 1018.5L1384.1 1022.6L1380.5 1020.4L1376.8 1022.6L1377.8 1018.5L1374.6 1015.7L1378.8 1015.3zM1386.2 1013.1L1387.9 1017.1L1392.1 1017.4L1388.9 1020.2L1389.8 1024.4L1386.2 1022.1L1382.6 1024.4L1383.5 1020.2L1380.3 1017.4L1384.6 1017.1zM1392 1014.9L1393.6 1018.8L1397.8 1019.1L1394.6 1021.9L1395.6 1026.1L1392 1023.9L1388.3 1026.1L1389.3 1021.9L1386.1 1019.1L1390.3 1018.8zM1397.7 1016.6L1399.3 1020.5L1403.6 1020.9L1400.4 1023.6L1401.3 1027.8L1397.7 1025.6L1394.1 1027.8L1395 1023.6L1391.8 1020.9L1396.1 1020.5zM1403.4 1018.3L1405.1 1022.2L1409.3 1022.6L1406.1 1025.4L1407.1 1029.5L1403.4 1027.3L1399.8 1029.5L1400.8 1025.4L1397.5 1022.6L1401.8 1022.2zM1409.2 1020L1410.8 1024L1415.1 1024.3L1411.9 1027.1L1412.8 1031.2L1409.2 1029L1405.5 1031.2L1406.5 1027.1L1403.3 1024.3L1407.5 1024zM1415 1021.7L1416.6 1025.6L1420.9 1026L1417.6 1028.7L1418.6 1032.9L1415 1030.7L1411.3 1032.9L1412.3 1028.7L1409.1 1026L1413.3 1025.6zM1420.8 1022.9L1422.5 1026.8L1426.7 1027.1L1423.5 1029.9L1424.5 1034.1L1420.8 1031.9L1417.2 1034.1L1418.2 1029.9L1414.9 1027.1L1419.2 1026.8zM1426.7 1024L1428.4 1028L1432.6 1028.3L1429.4 1031.1L1430.4 1035.2L1426.7 1033L1423.1 1035.2L1424.1 1031.1L1420.8 1028.3L1425.1 1028zM1432.6 1025.2L1434.3 1029.1L1438.5 1029.5L1435.3 1032.3L1436.3 1036.4L1432.6 1034.2L1429 1036.4L1429.9 1032.3L1426.7 1029.5L1431 1029.1zM1438.5 1026.4L1440.1 1030.3L1444.4 1030.7L1441.2 1033.4L1442.1 1037.6L1438.5 1035.4L1434.8 1037.6L1435.8 1033.4L1432.6 1030.7L1436.8 1030.3zM1444.4 1027.6L1446 1031.5L1450.3 1031.8L1447 1034.6L1448 1038.8L1444.4 1036.6L1440.7 1038.8L1441.7 1034.6L1438.5 1031.8L1442.7 1031.5zM1450.2 1029L1451.8 1033L1456.1 1033.3L1452.9 1036.1L1453.8 1040.2L1450.2 1038L1446.5 1040.2L1447.5 1036.1L1444.3 1033.3L1448.5 1033zM1455.9 1030.7L1457.6 1034.7L1461.8 1035L1458.6 1037.8L1459.6 1042L1455.9 1039.7L1452.3 1042L1453.3 1037.8L1450 1035L1454.3 1034.7zM1461.7 1032.5L1463.3 1036.4L1467.6 1036.8L1464.3 1039.5L1465.3 1043.7L1461.7 1041.5L1458 1043.7L1459 1039.5L1455.8 1036.8L1460 1036.4zM1467.4 1034.2L1469.1 1038.1L1473.3 1038.5L1470.1 1041.3L1471.1 1045.4L1467.4 1043.2L1463.8 1045.4L1464.8 1041.3L1461.5 1038.5L1465.8 1038.1zM1473.2 1035.9L1474.8 1039.9L1479.1 1040.2L1475.8 1043L1476.8 1047.1L1473.2 1044.9L1469.5 1047.1L1470.5 1043L1467.3 1040.2L1471.5 1039.9zM1478.9 1037.6L1480.6 1041.6L1484.8 1041.9L1481.6 1044.7L1482.6 1048.9L1478.9 1046.6L1475.3 1048.9L1476.3 1044.7L1473 1041.9L1477.3 1041.6zM1484.7 1039.4L1486.3 1043.3L1490.6 1043.6L1487.3 1046.4L1488.3 1050.6L1484.7 1048.4L1481 1050.6L1482 1046.4L1478.8 1043.6L1483 1043.3zM1490.4 1041.1L1492.1 1045L1496.3 1045.4L1493.1 1048.2L1494.1 1052.3L1490.4 1050.1L1486.8 1052.3L1487.8 1048.2L1484.5 1045.4L1488.8 1045zM1496.2 1042.8L1497.8 1046.7L1502.1 1047.1L1498.8 1049.9L1499.8 1054L1496.2 1051.8L1492.5 1054L1493.5 1049.9L1490.3 1047.1L1494.5 1046.7zM1501.9 1044.5L1503.6 1048.5L1507.8 1048.8L1504.6 1051.6L1505.6 1055.8L1501.9 1053.5L1498.3 1055.8L1499.2 1051.6L1496 1048.8L1500.3 1048.5zM1507.7 1046.3L1509.3 1050.2L1513.6 1050.5L1510.3 1053.3L1511.3 1057.5L1507.7 1055.3L1504 1057.5L1505 1053.3L1501.8 1050.5L1506 1050.2zM1513.4 1048L1515.1 1051.9L1519.3 1052.3L1516.1 1055L1517 1059.2L1513.4 1057L1509.8 1059.2L1510.7 1055L1507.5 1052.3L1511.8 1051.9zM1519.2 1049.7L1520.8 1053.6L1525 1054L1521.8 1056.8L1522.8 1060.9L1519.2 1058.7L1515.5 1060.9L1516.5 1056.8L1513.3 1054L1517.5 1053.6zM1524.9 1051.4L1526.5 1055.4L1530.8 1055.7L1527.6 1058.5L1528.5 1062.6L1524.9 1060.4L1521.3 1062.6L1522.2 1058.5L1519 1055.7L1523.3 1055.4zM1530.6 1053.2L1532.3 1057.1L1536.5 1057.4L1533.3 1060.2L1534.3 1064.4L1530.6 1062.2L1527 1064.4L1528 1060.2L1524.7 1057.4L1529 1057.1zM1536.4 1054.9L1538 1058.8L1542.3 1059.2L1539.1 1061.9L1540 1066.1L1536.4 1063.9L1532.7 1066.1L1533.7 1061.9L1530.5 1059.2L1534.7 1058.8zM1542.1 1056.6L1543.8 1060.5L1548 1060.9L1544.8 1063.7L1545.8 1067.8L1542.1 1065.6L1538.5 1067.8L1539.5 1063.7L1536.2 1060.9L1540.5 1060.5zM1547.9 1058.2L1549.6 1062.1L1553.8 1062.5L1550.6 1065.3L1551.6 1069.4L1547.9 1067.2L1544.3 1069.4L1545.3 1065.3L1542 1062.5L1546.3 1062.1zM1553.8 1059.4L1555.4 1063.3L1559.7 1063.7L1556.5 1066.4L1557.4 1070.6L1553.8 1068.4L1550.2 1070.6L1551.1 1066.4L1547.9 1063.7L1552.2 1063.3zM1559.7 1060.6L1561.3 1064.5L1565.6 1064.8L1562.3 1067.6L1563.3 1071.8L1559.7 1069.6L1556 1071.8L1557 1067.6L1553.8 1064.8L1558 1064.5zM1565.6 1061.7L1567.2 1065.7L1571.5 1066L1568.2 1068.8L1569.2 1072.9L1565.6 1070.7L1561.9 1072.9L1562.9 1068.8L1559.7 1066L1563.9 1065.7zM1571.5 1062.9L1573.1 1066.8L1577.4 1067.2L1574.1 1070L1575.1 1074.1L1571.5 1071.9L1567.8 1074.1L1568.8 1070L1565.6 1067.2L1569.8 1066.8zM1577.3 1064.1L1579 1068L1583.2 1068.4L1580 1071.1L1581 1075.3L1577.3 1073.1L1573.7 1075.3L1574.7 1071.1L1571.4 1068.4L1575.7 1068zM1583.2 1065.3L1584.9 1069.2L1589.1 1069.5L1585.9 1072.3L1586.9 1076.5L1583.2 1074.3L1579.6 1076.5L1580.6 1072.3L1577.3 1069.5L1581.6 1069.2zM1589.1 1066.4L1590.7 1070.4L1595 1070.7L1591.8 1073.5L1592.7 1077.7L1589.1 1075.4L1585.5 1077.7L1586.4 1073.5L1583.2 1070.7L1587.5 1070.4zM1595 1067.6L1596.6 1071.5L1600.9 1071.9L1597.7 1074.7L1598.6 1078.8L1595 1076.6L1591.3 1078.8L1592.3 1074.7L1589.1 1071.9L1593.3 1071.5zM1600.9 1068.8L1602.5 1072.7L1606.8 1073.1L1603.5 1075.9L1604.5 1080L1600.9 1077.8L1597.2 1080L1598.2 1075.9L1595 1073.1L1599.2 1072.7zM1606.8 1070L1608.4 1073.9L1612.7 1074.3L1609.4 1077L1610.4 1081.2L1606.8 1079L1603.1 1081.2L1604.1 1077L1600.9 1074.3L1605.1 1073.9zM1612.6 1071.1L1614.3 1075.1L1618.5 1075.4L1615.3 1078.2L1616.3 1082.4L1612.6 1080.1L1609 1082.4L1610 1078.2L1606.7 1075.4L1611 1075.1zM1618.6 1072.1L1620.2 1076.1L1624.5 1076.4L1621.2 1079.2L1622.2 1083.3L1618.6 1081.1L1614.9 1083.3L1615.9 1079.2L1612.7 1076.4L1616.9 1076.1zM1624.5 1073.1L1626.1 1077.1L1630.4 1077.4L1627.1 1080.2L1628.1 1084.3L1624.5 1082.1L1620.8 1084.3L1621.8 1080.2L1618.6 1077.4L1622.8 1077.1zM1630.4 1074.1L1632 1078L1636.3 1078.4L1633.1 1081.2L1634 1085.3L1630.4 1083.1L1626.7 1085.3L1627.7 1081.2L1624.5 1078.4L1628.7 1078zM1632.6 1074.5L1634.2 1078.4L1638.5 1078.8L1635.3 1081.5L1636.2 1085.7L1632.6 1083.5L1629 1085.7L1629.9 1081.5L1626.7 1078.8L1630.9 1078.4z" fill="#000"/>
<path d="M1248.6 1004.5 L1281.7 1014.5 L1300 1020" fill="none" stroke="#000" stroke-width="6.5" stroke-linejoin="round"/>
<path d="M1248.6 998.3L1250.3 1002.3L1254.5 1002.6L1251.3 1005.4L1252.3 1009.6L1248.6 1007.3L1245 1009.6L1245.9 1005.4L1242.7 1002.6L1247 1002.3zM1254.4 1000.1L1256 1004L1260.3 1004.3L1257 1007.1L1258 1011.3L1254.4 1009.1L1250.7 1011.3L1251.7 1007.1L1248.5 1004.3L1252.7 1004zM1260.1 1001.8L1261.8 1005.7L1266 1006.1L1262.8 1008.9L1263.8 1013L1260.1 1010.8L1256.5 1013L1257.4 1008.9L1254.2 1006.1L1258.5 1005.7zM1265.9 1003.5L1267.5 1007.4L1271.7 1007.8L1268.5 1010.6L1269.5 1014.7L1265.9 1012.5L1262.2 1014.7L1263.2 1010.6L1260 1007.8L1264.2 1007.4zM1271.6 1005.2L1273.2 1009.2L1277.5 1009.5L1274.3 1012.3L1275.2 1016.5L1271.6 1014.2L1268 1016.5L1268.9 1012.3L1265.7 1009.5L1270 1009.2zM1277.3 1007L1279 1010.9L1283.2 1011.2L1280 1014L1281 1018.2L1277.3 1016L1273.7 1018.2L1274.7 1014L1271.5 1011.2L1275.7 1010.9zM1283.1 1008.7L1284.7 1012.6L1289 1013L1285.8 1015.7L1286.7 1019.9L1283.1 1017.7L1279.4 1019.9L1280.4 1015.7L1277.2 1013L1281.4 1012.6zM1288.8 1010.4L1290.5 1014.3L1294.7 1014.7L1291.5 1017.5L1292.5 1021.6L1288.8 1019.4L1285.2 1021.6L1286.2 1017.5L1282.9 1014.7L1287.2 1014.3zM1294.6 1012.1L1296.2 1016.1L1300.5 1016.4L1297.3 1019.2L1298.2 1023.3L1294.6 1021.1L1290.9 1023.3L1291.9 1019.2L1288.7 1016.4L1292.9 1016.1zM1300 1013.8L1301.6 1017.7L1305.9 1018L1302.7 1020.8L1303.6 1025L1300 1022.8L1296.4 1025L1297.3 1020.8L1294.1 1018L1298.4 1017.7z" fill="#000"/>
<path d="M1300 1020 L1314.8 1024.4 L1347.9 1034.3 L1381 1044.3 L1414.1 1054.2 L1447.2 1064.1 L1480.3 1074.1 L1513.4 1084 L1546.5 1090.6 L1579.6 1097.2 L1612.7 1100.5 L1632.6 1100.5" fill="none" stroke="#000" stroke-width="6.5" stroke-linejoin="round"/>
<path d="M1300 1013.8L1301.6 1017.7L1305.9 1018L1302.7 1020.8L1303.6 1025L1300 1022.8L1296.4 1025L1297.3 1020.8L1294.1 1018L1298.4 1017.7zM1305.7 1015.5L1307.4 1019.4L1311.6 1019.8L1308.4 1022.5L1309.4 1026.7L1305.7 1024.5L1302.1 1026.7L1303.1 1022.5L1299.9 1019.8L1304.1 1019.4zM1311.5 1017.2L1313.1 1021.1L1317.4 1021.5L1314.2 1024.3L1315.1 1028.4L1311.5 1026.2L1307.8 1028.4L1308.8 1024.3L1305.6 1021.5L1309.8 1021.1zM1317.2 1018.9L1318.9 1022.9L1323.1 1023.2L1319.9 1026L1320.9 1030.1L1317.2 1027.9L1313.6 1030.1L1314.6 1026L1311.3 1023.2L1315.6 1022.9zM1323 1020.7L1324.6 1024.6L1328.9 1024.9L1325.7 1027.7L1326.6 1031.9L1323 1029.7L1319.3 1031.9L1320.3 1027.7L1317.1 1024.9L1321.3 1024.6zM1328.7 1022.4L1330.4 1026.3L1334.6 1026.7L1331.4 1029.4L1332.4 1033.6L1328.7 1031.4L1325.1 1033.6L1326.1 1029.4L1322.8 1026.7L1327.1 1026.3zM1334.5 1024.1L1336.1 1028L1340.4 1028.4L1337.1 1031.2L1338.1 1035.3L1334.5 1033.1L1330.8 1035.3L1331.8 1031.2L1328.6 1028.4L1332.8 1028zM1340.2 1025.8L1341.9 1029.8L1346.1 1030.1L1342.9 1032.9L1343.9 1037L1340.2 1034.8L1336.6 1037L1337.6 1032.9L1334.3 1030.1L1338.6 1029.8zM1346 1027.5L1347.6 1031.5L1351.9 1031.8L1348.6 1034.6L1349.6 1038.8L1346 1036.5L1342.3 1038.8L1343.3 1034.6L1340.1 1031.8L1344.3 1031.5zM1351.7 1029.3L1353.4 1033.2L1357.6 1033.6L1354.4 1036.3L1355.4 1040.5L1351.7 1038.3L1348.1 1040.5L1349.1 1036.3L1345.8 1033.6L1350.1 1033.2zM1357.5 1031L1359.1 1034.9L1363.4 1035.3L1360.1 1038.1L1361.1 1042.2L1357.5 1040L1353.8 1042.2L1354.8 1038.1L1351.6 1035.3L1355.8 1034.9zM1363.2 1032.7L1364.9 1036.7L1369.1 1037L1365.9 1039.8L1366.9 1043.9L1363.2 1041.7L1359.6 1043.9L1360.6 1039.8L1357.3 1037L1361.6 1036.7zM1369 1034.4L1370.6 1038.4L1374.9 1038.7L1371.6 1041.5L1372.6 1045.7L1369 1043.4L1365.3 1045.7L1366.3 1041.5L1363.1 1038.7L1367.3 1038.4zM1374.7 1036.2L1376.4 1040.1L1380.6 1040.5L1377.4 1043.2L1378.4 1047.4L1374.7 1045.2L1371.1 1047.4L1372 1043.2L1368.8 1040.5L1373.1 1040.1zM1380.5 1037.9L1382.1 1041.8L1386.4 1042.2L1383.1 1045L1384.1 1049.1L1380.5 1046.9L1376.8 1049.1L1377.8 1045L1374.6 1042.2L1378.8 1041.8zM1386.2 1039.6L1387.9 1043.6L1392.1 1043.9L1388.9 1046.7L1389.8 1050.8L1386.2 1048.6L1382.6 1050.8L1383.5 1046.7L1380.3 1043.9L1384.6 1043.6zM1392 1041.3L1393.6 1045.3L1397.8 1045.6L1394.6 1048.4L1395.6 1052.6L1392 1050.3L1388.3 1052.6L1389.3 1048.4L1386.1 1045.6L1390.3 1045.3zM1397.7 1043.1L1399.3 1047L1403.6 1047.3L1400.4 1050.1L1401.3 1054.3L1397.7 1052.1L1394.1 1054.3L1395 1050.1L1391.8 1047.3L1396.1 1047zM1403.4 1044.8L1405.1 1048.7L1409.3 1049.1L1406.1 1051.9L1407.1 1056L1403.4 1053.8L1399.8 1056L1400.8 1051.9L1397.5 1049.1L1401.8 1048.7zM1409.2 1046.5L1410.8 1050.4L1415.1 1050.8L1411.9 1053.6L1412.8 1057.7L1409.2 1055.5L1405.5 1057.7L1406.5 1053.6L1403.3 1050.8L1407.5 1050.4zM1414.9 1048.2L1416.6 1052.2L1420.8 1052.5L1417.6 1055.3L1418.6 1059.5L1414.9 1057.2L1411.3 1059.5L1412.3 1055.3L1409 1052.5L1413.3 1052.2zM1420.7 1050L1422.3 1053.9L1426.6 1054.2L1423.3 1057L1424.3 1061.2L1420.7 1059L1417 1061.2L1418 1057L1414.8 1054.2L1419 1053.9zM1426.4 1051.7L1428.1 1055.6L1432.3 1056L1429.1 1058.7L1430.1 1062.9L1426.4 1060.7L1422.8 1062.9L1423.8 1058.7L1420.5 1056L1424.8 1055.6zM1432.2 1053.4L1433.8 1057.3L1438.1 1057.7L1434.8 1060.5L1435.8 1064.6L1432.2 1062.4L1428.5 1064.6L1429.5 1060.5L1426.3 1057.7L1430.5 1057.3zM1437.9 1055.1L1439.6 1059.1L1443.8 1059.4L1440.6 1062.2L1441.6 1066.3L1437.9 1064.1L1434.3 1066.3L1435.3 1062.2L1432 1059.4L1436.3 1059.1zM1443.7 1056.9L1445.3 1060.8L1449.6 1061.1L1446.3 1063.9L1447.3 1068.1L1443.7 1065.9L1440 1068.1L1441 1063.9L1437.8 1061.1L1442 1060.8zM1449.4 1058.6L1451.1 1062.5L1455.3 1062.9L1452.1 1065.6L1453.1 1069.8L1449.4 1067.6L1445.8 1069.8L1446.8 1065.6L1443.5 1062.9L1447.8 1062.5zM1455.2 1060.3L1456.8 1064.2L1461.1 1064.6L1457.8 1067.4L1458.8 1071.5L1455.2 1069.3L1451.5 1071.5L1452.5 1067.4L1449.3 1064.6L1453.5 1064.2zM1460.9 1062L1462.6 1066L1466.8 1066.3L1463.6 1069.1L1464.6 1073.2L1460.9 1071L1457.3 1073.2L1458.3 1069.1L1455 1066.3L1459.3 1066zM1466.7 1063.8L1468.3 1067.7L1472.6 1068L1469.3 1070.8L1470.3 1075L1466.7 1072.8L1463 1075L1464 1070.8L1460.8 1068L1465 1067.7zM1472.4 1065.5L1474.1 1069.4L1478.3 1069.8L1475.1 1072.5L1476.1 1076.7L1472.4 1074.5L1468.8 1076.7L1469.7 1072.5L1466.5 1069.8L1470.8 1069.4zM1478.2 1067.2L1479.8 1071.1L1484.1 1071.5L1480.8 1074.3L1481.8 1078.4L1478.2 1076.2L1474.5 1078.4L1475.5 1074.3L1472.3 1071.5L1476.5 1071.1zM1483.9 1068.9L1485.5 1072.9L1489.8 1073.2L1486.6 1076L1487.5 1080.1L1483.9 1077.9L1480.3 1080.1L1481.2 1076L1478 1073.2L1482.3 1072.9zM1489.6 1070.6L1491.3 1074.6L1495.5 1074.9L1492.3 1077.7L1493.3 1081.9L1489.6 1079.6L1486 1081.9L1487 1077.7L1483.8 1074.9L1488 1074.6zM1495.4 1072.4L1497 1076.3L1501.3 1076.7L1498.1 1079.4L1499 1083.6L1495.4 1081.4L1491.8 1083.6L1492.7 1079.4L1489.5 1076.7L1493.8 1076.3zM1501.1 1074.1L1502.8 1078L1507 1078.4L1503.8 1081.2L1504.8 1085.3L1501.1 1083.1L1497.5 1085.3L1498.5 1081.2L1495.2 1078.4L1499.5 1078zM1506.9 1075.8L1508.5 1079.8L1512.8 1080.1L1509.6 1082.9L1510.5 1087L1506.9 1084.8L1503.2 1087L1504.2 1082.9L1501 1080.1L1505.2 1079.8zM1512.6 1077.5L1514.3 1081.5L1518.5 1081.8L1515.3 1084.6L1516.3 1088.8L1512.6 1086.5L1509 1088.8L1510 1084.6L1506.7 1081.8L1511 1081.5zM1518.5 1078.8L1520.1 1082.7L1524.4 1083.1L1521.2 1085.9L1522.1 1090L1518.5 1087.8L1514.9 1090L1515.8 1085.9L1512.6 1083.1L1516.9 1082.7zM1524.4 1080L1526 1083.9L1530.3 1084.3L1527 1087L1528 1091.2L1524.4 1089L1520.7 1091.2L1521.7 1087L1518.5 1084.3L1522.7 1083.9zM1530.3 1081.2L1531.9 1085.1L1536.2 1085.4L1532.9 1088.2L1533.9 1092.4L1530.3 1090.2L1526.6 1092.4L1527.6 1088.2L1524.4 1085.4L1528.6 1085.1zM1536.2 1082.3L1537.8 1086.3L1542 1086.6L1538.8 1089.4L1539.8 1093.5L1536.2 1091.3L1532.5 1093.5L1533.5 1089.4L1530.3 1086.6L1534.5 1086.3zM1542 1083.5L1543.7 1087.4L1547.9 1087.8L1544.7 1090.6L1545.7 1094.7L1542 1092.5L1538.4 1094.7L1539.4 1090.6L1536.1 1087.8L1540.4 1087.4zM1547.9 1084.7L1549.6 1088.6L1553.8 1089L1550.6 1091.7L1551.6 1095.9L1547.9 1093.7L1544.3 1095.9L1545.3 1091.7L1542 1089L1546.3 1088.6zM1553.8 1085.9L1555.4 1089.8L1559.7 1090.1L1556.5 1092.9L1557.4 1097.1L1553.8 1094.9L1550.2 1097.1L1551.1 1092.9L1547.9 1090.1L1552.2 1089.8zM1559.7 1087L1561.3 1091L1565.6 1091.3L1562.3 1094.1L1563.3 1098.3L1559.7 1096L1556 1098.3L1557 1094.1L1553.8 1091.3L1558 1091zM1565.6 1088.2L1567.2 1092.1L1571.5 1092.5L1568.2 1095.3L1569.2 1099.4L1565.6 1097.2L1561.9 1099.4L1562.9 1095.3L1559.7 1092.5L1563.9 1092.1zM1571.5 1089.4L1573.1 1093.3L1577.4 1093.7L1574.1 1096.5L1575.1 1100.6L1571.5 1098.4L1567.8 1100.6L1568.8 1096.5L1565.6 1093.7L1569.8 1093.3zM1577.3 1090.6L1579 1094.5L1583.2 1094.8L1580 1097.6L1581 1101.8L1577.3 1099.6L1573.7 1101.8L1574.7 1097.6L1571.4 1094.8L1575.7 1094.5zM1583.3 1091.4L1584.9 1095.3L1589.2 1095.7L1585.9 1098.5L1586.9 1102.6L1583.3 1100.4L1579.6 1102.6L1580.6 1098.5L1577.4 1095.7L1581.6 1095.3zM1589.2 1092L1590.9 1095.9L1595.1 1096.3L1591.9 1099.1L1592.9 1103.2L1589.2 1101L1585.6 1103.2L1586.6 1099.1L1583.3 1096.3L1587.6 1095.9zM1595.2 1092.6L1596.9 1096.5L1601.1 1096.9L1597.9 1099.6L1598.9 1103.8L1595.2 1101.6L1591.6 1103.8L1592.6 1099.6L1589.3 1096.9L1593.6 1096.5zM1601.2 1093.2L1602.8 1097.1L1607.1 1097.5L1603.8 1100.2L1604.8 1104.4L1601.2 1102.2L1597.5 1104.4L1598.5 1100.2L1595.3 1097.5L1599.5 1097.1zM1607.2 1093.8L1608.8 1097.7L1613.1 1098.1L1609.8 1100.8L1610.8 1105L1607.2 1102.8L1603.5 1105L1604.5 1100.8L1601.3 1098.1L1605.5 1097.7zM1613.1 1094.3L1614.8 1098.3L1619 1098.6L1615.8 1101.4L1616.8 1105.5L1613.1 1103.3L1609.5 1105.5L1610.5 1101.4L1607.2 1098.6L1611.5 1098.3zM1619.1 1094.3L1620.8 1098.3L1625 1098.6L1621.8 1101.4L1622.8 1105.5L1619.1 1103.3L1615.5 1105.5L1616.5 1101.4L1613.2 1098.6L1617.5 1098.3zM1625.1 1094.3L1626.8 1098.3L1631 1098.6L1627.8 1101.4L1628.8 1105.5L1625.1 1103.3L1621.5 1105.5L1622.5 1101.4L1619.2 1098.6L1623.5 1098.3zM1631.1 1094.3L1632.8 1098.3L1637 1098.6L1633.8 1101.4L1634.8 1105.5L1631.1 1103.3L1627.5 1105.5L1628.5 1101.4L1625.2 1098.6L1629.5 1098.3zM1632.6 1094.3L1634.2 1098.3L1638.5 1098.6L1635.3 1101.4L1636.2 1105.5L1632.6 1103.3L1629 1105.5L1629.9 1101.4L1626.7 1098.6L1630.9 1098.3z" fill="#000"/>
<path d="M1110 1062.3 L1116.2 1064.1 L1149.3 1074.1 L1182.4 1080.7 L1215.5 1087.3 L1248.6 1097.2 L1281.7 1107.2 L1300 1110.8" fill="none" stroke="#000" stroke-width="6.5" stroke-linejoin="round"/>
<path d="M1110 1056.1L1111.6 1060L1115.9 1060.3L1112.7 1063.1L1113.6 1067.3L1110 1065.1L1106.4 1067.3L1107.3 1063.1L1104.1 1060.3L1108.4 1060zM1115.7 1057.8L1117.4 1061.7L1121.6 1062.1L1118.4 1064.8L1119.4 1069L1115.7 1066.8L1112.1 1069L1113.1 1064.8L1109.9 1062.1L1114.1 1061.7zM1121.5 1059.5L1123.1 1063.4L1127.4 1063.8L1124.2 1066.6L1125.1 1070.7L1121.5 1068.5L1117.8 1070.7L1118.8 1066.6L1115.6 1063.8L1119.8 1063.4zM1127.2 1061.2L1128.9 1065.2L1133.1 1065.5L1129.9 1068.3L1130.9 1072.4L1127.2 1070.2L1123.6 1072.4L1124.6 1068.3L1121.3 1065.5L1125.6 1065.2zM1133 1063L1134.6 1066.9L1138.9 1067.2L1135.7 1070L1136.6 1074.2L1133 1072L1129.3 1074.2L1130.3 1070L1127.1 1067.2L1131.3 1066.9zM1138.7 1064.7L1140.4 1068.6L1144.6 1069L1141.4 1071.7L1142.4 1075.9L1138.7 1073.7L1135.1 1075.9L1136.1 1071.7L1132.8 1069L1137.1 1068.6zM1144.5 1066.4L1146.1 1070.3L1150.4 1070.7L1147.1 1073.5L1148.1 1077.6L1144.5 1075.4L1140.8 1077.6L1141.8 1073.5L1138.6 1070.7L1142.8 1070.3zM1150.3 1068L1151.9 1072L1156.1 1072.3L1152.9 1075.1L1153.9 1079.3L1150.3 1077L1146.6 1079.3L1147.6 1075.1L1144.4 1072.3L1148.6 1072zM1156.1 1069.2L1157.8 1073.2L1162 1073.5L1158.8 1076.3L1159.8 1080.4L1156.1 1078.2L1152.5 1080.4L1153.5 1076.3L1150.2 1073.5L1154.5 1073.2zM1162 1070.4L1163.7 1074.3L1167.9 1074.7L1164.7 1077.5L1165.7 1081.6L1162 1079.4L1158.4 1081.6L1159.4 1077.5L1156.1 1074.7L1160.4 1074.3zM1167.9 1071.6L1169.5 1075.5L1173.8 1075.9L1170.6 1078.6L1171.5 1082.8L1167.9 1080.6L1164.3 1082.8L1165.2 1078.6L1162 1075.9L1166.3 1075.5zM1173.8 1072.7L1175.4 1076.7L1179.7 1077L1176.4 1079.8L1177.4 1084L1173.8 1081.7L1170.1 1084L1171.1 1079.8L1167.9 1077L1172.1 1076.7zM1179.7 1073.9L1181.3 1077.9L1185.6 1078.2L1182.3 1081L1183.3 1085.1L1179.7 1082.9L1176 1085.1L1177 1081L1173.8 1078.2L1178 1077.9zM1185.6 1075.1L1187.2 1079L1191.4 1079.4L1188.2 1082.2L1189.2 1086.3L1185.6 1084.1L1181.9 1086.3L1182.9 1082.2L1179.7 1079.4L1183.9 1079zM1191.4 1076.3L1193.1 1080.2L1197.3 1080.6L1194.1 1083.3L1195.1 1087.5L1191.4 1085.3L1187.8 1087.5L1188.8 1083.3L1185.5 1080.6L1189.8 1080.2zM1197.3 1077.5L1199 1081.4L1203.2 1081.7L1200 1084.5L1201 1088.7L1197.3 1086.5L1193.7 1088.7L1194.7 1084.5L1191.4 1081.7L1195.7 1081.4zM1203.2 1078.6L1204.8 1082.6L1209.1 1082.9L1205.9 1085.7L1206.8 1089.8L1203.2 1087.6L1199.6 1089.8L1200.5 1085.7L1197.3 1082.9L1201.6 1082.6zM1209.1 1079.8L1210.7 1083.7L1215 1084.1L1211.7 1086.9L1212.7 1091L1209.1 1088.8L1205.4 1091L1206.4 1086.9L1203.2 1084.1L1207.4 1083.7zM1215 1081L1216.6 1084.9L1220.9 1085.3L1217.6 1088.1L1218.6 1092.2L1215 1090L1211.3 1092.2L1212.3 1088.1L1209.1 1085.3L1213.3 1084.9zM1220.7 1082.7L1222.4 1086.6L1226.6 1086.9L1223.4 1089.7L1224.4 1093.9L1220.7 1091.7L1217.1 1093.9L1218.1 1089.7L1214.8 1086.9L1219.1 1086.6zM1226.5 1084.4L1228.1 1088.3L1232.4 1088.7L1229.1 1091.4L1230.1 1095.6L1226.5 1093.4L1222.8 1095.6L1223.8 1091.4L1220.6 1088.7L1224.8 1088.3zM1232.2 1086.1L1233.9 1090L1238.1 1090.4L1234.9 1093.2L1235.9 1097.3L1232.2 1095.1L1228.6 1097.3L1229.6 1093.2L1226.3 1090.4L1230.6 1090zM1238 1087.8L1239.6 1091.8L1243.9 1092.1L1240.6 1094.9L1241.6 1099L1238 1096.8L1234.3 1099L1235.3 1094.9L1232.1 1092.1L1236.3 1091.8zM1243.7 1089.6L1245.4 1093.5L1249.6 1093.8L1246.4 1096.6L1247.4 1100.8L1243.7 1098.6L1240.1 1100.8L1241.1 1096.6L1237.8 1093.8L1242.1 1093.5zM1249.5 1091.3L1251.1 1095.2L1255.4 1095.6L1252.1 1098.3L1253.1 1102.5L1249.5 1100.3L1245.8 1102.5L1246.8 1098.3L1243.6 1095.6L1247.8 1095.2zM1255.2 1093L1256.9 1096.9L1261.1 1097.3L1257.9 1100.1L1258.9 1104.2L1255.2 1102L1251.6 1104.2L1252.5 1100.1L1249.3 1097.3L1253.6 1096.9zM1261 1094.7L1262.6 1098.7L1266.9 1099L1263.6 1101.8L1264.6 1105.9L1261 1103.7L1257.3 1105.9L1258.3 1101.8L1255.1 1099L1259.3 1098.7zM1266.7 1096.5L1268.3 1100.4L1272.6 1100.7L1269.4 1103.5L1270.3 1107.7L1266.7 1105.5L1263.1 1107.7L1264 1103.5L1260.8 1100.7L1265.1 1100.4zM1272.5 1098.2L1274.1 1102.1L1278.3 1102.5L1275.1 1105.2L1276.1 1109.4L1272.5 1107.2L1268.8 1109.4L1269.8 1105.2L1266.6 1102.5L1270.8 1102.1zM1278.2 1099.9L1279.8 1103.8L1284.1 1104.2L1280.9 1107L1281.8 1111.1L1278.2 1108.9L1274.6 1111.1L1275.5 1107L1272.3 1104.2L1276.6 1103.8zM1284 1101.4L1285.6 1105.3L1289.9 1105.7L1286.7 1108.5L1287.6 1112.6L1284 1110.4L1280.4 1112.6L1281.3 1108.5L1278.1 1105.7L1282.4 1105.3zM1289.9 1102.6L1291.5 1106.5L1295.8 1106.9L1292.5 1109.7L1293.5 1113.8L1289.9 1111.6L1286.2 1113.8L1287.2 1109.7L1284 1106.9L1288.2 1106.5zM1295.8 1103.8L1297.4 1107.7L1301.7 1108L1298.4 1110.8L1299.4 1115L1295.8 1112.8L1292.1 1115L1293.1 1110.8L1289.9 1108L1294.1 1107.7zM1300 1104.6L1301.6 1108.5L1305.9 1108.9L1302.7 1111.7L1303.6 1115.8L1300 1113.6L1296.4 1115.8L1297.3 1111.7L1294.1 1108.9L1298.4 1108.5z" fill="#000"/>
<path d="M1300 1110.8 L1314.8 1113.8 L1347.9 1120.4 L1381 1120.4 L1414.1 1117.1 L1447.2 1113.8 L1480.3 1110.5 L1513.4 1113.8 L1546.5 1113.8 L1579.6 1113.8 L1632.6 1113.8" fill="none" stroke="#000" stroke-width="6.5" stroke-linejoin="round"/>
<path d="M1300 1104.6L1301.6 1108.5L1305.9 1108.9L1302.7 1111.7L1303.6 1115.8L1300 1113.6L1296.4 1115.8L1297.3 1111.7L1294.1 1108.9L1298.4 1108.5zM1305.9 1105.8L1307.5 1109.7L1311.8 1110.1L1308.5 1112.9L1309.5 1117L1305.9 1114.8L1302.2 1117L1303.2 1112.9L1300 1110.1L1304.2 1109.7zM1311.8 1107L1313.4 1110.9L1317.7 1111.2L1314.4 1114L1315.4 1118.2L1311.8 1116L1308.1 1118.2L1309.1 1114L1305.9 1111.2L1310.1 1110.9zM1317.7 1108.1L1319.3 1112.1L1323.5 1112.4L1320.3 1115.2L1321.3 1119.4L1317.7 1117.1L1314 1119.4L1315 1115.2L1311.8 1112.4L1316 1112.1zM1323.5 1109.3L1325.2 1113.3L1329.4 1113.6L1326.2 1116.4L1327.2 1120.5L1323.5 1118.3L1319.9 1120.5L1320.9 1116.4L1317.6 1113.6L1321.9 1113.3zM1329.4 1110.5L1331.1 1114.4L1335.3 1114.8L1332.1 1117.6L1333.1 1121.7L1329.4 1119.5L1325.8 1121.7L1326.8 1117.6L1323.5 1114.8L1327.8 1114.4zM1335.3 1111.7L1336.9 1115.6L1341.2 1116L1338 1118.7L1338.9 1122.9L1335.3 1120.7L1331.7 1122.9L1332.6 1118.7L1329.4 1116L1333.7 1115.6zM1341.2 1112.8L1342.8 1116.8L1347.1 1117.1L1343.8 1119.9L1344.8 1124.1L1341.2 1121.8L1337.5 1124.1L1338.5 1119.9L1335.3 1117.1L1339.5 1116.8zM1347.1 1114L1348.7 1118L1353 1118.3L1349.7 1121.1L1350.7 1125.2L1347.1 1123L1343.4 1125.2L1344.4 1121.1L1341.2 1118.3L1345.4 1118zM1353.1 1114.2L1354.7 1118.1L1358.9 1118.5L1355.7 1121.3L1356.7 1125.4L1353.1 1123.2L1349.4 1125.4L1350.4 1121.3L1347.2 1118.5L1351.4 1118.1zM1359.1 1114.2L1360.7 1118.1L1364.9 1118.5L1361.7 1121.3L1362.7 1125.4L1359.1 1123.2L1355.4 1125.4L1356.4 1121.3L1353.2 1118.5L1357.4 1118.1zM1365.1 1114.2L1366.7 1118.1L1370.9 1118.5L1367.7 1121.3L1368.7 1125.4L1365.1 1123.2L1361.4 1125.4L1362.4 1121.3L1359.2 1118.5L1363.4 1118.1zM1371.1 1114.2L1372.7 1118.1L1376.9 1118.5L1373.7 1121.3L1374.7 1125.4L1371.1 1123.2L1367.4 1125.4L1368.4 1121.3L1365.2 1118.5L1369.4 1118.1zM1377.1 1114.2L1378.7 1118.1L1382.9 1118.5L1379.7 1121.3L1380.7 1125.4L1377.1 1123.2L1373.4 1125.4L1374.4 1121.3L1371.2 1118.5L1375.4 1118.1zM1383 1114L1384.7 1117.9L1388.9 1118.3L1385.7 1121.1L1386.7 1125.2L1383 1123L1379.4 1125.2L1380.4 1121.1L1377.1 1118.3L1381.4 1117.9zM1389 1113.4L1390.7 1117.3L1394.9 1117.7L1391.7 1120.5L1392.7 1124.6L1389 1122.4L1385.4 1124.6L1386.3 1120.5L1383.1 1117.7L1387.4 1117.3zM1395 1112.8L1396.6 1116.7L1400.9 1117.1L1397.6 1119.9L1398.6 1124L1395 1121.8L1391.3 1124L1392.3 1119.9L1389.1 1117.1L1393.3 1116.7zM1401 1112.2L1402.6 1116.1L1406.8 1116.5L1403.6 1119.3L1404.6 1123.4L1401 1121.2L1397.3 1123.4L1398.3 1119.3L1395.1 1116.5L1399.3 1116.1zM1406.9 1111.6L1408.6 1115.5L1412.8 1115.9L1409.6 1118.7L1410.6 1122.8L1406.9 1120.6L1403.3 1122.8L1404.3 1118.7L1401 1115.9L1405.3 1115.5zM1412.9 1111L1414.5 1114.9L1418.8 1115.3L1415.6 1118.1L1416.5 1122.2L1412.9 1120L1409.2 1122.2L1410.2 1118.1L1407 1115.3L1411.2 1114.9zM1418.9 1110.4L1420.5 1114.3L1424.8 1114.7L1421.5 1117.5L1422.5 1121.6L1418.9 1119.4L1415.2 1121.6L1416.2 1117.5L1413 1114.7L1417.2 1114.3zM1424.8 1109.8L1426.5 1113.7L1430.7 1114.1L1427.5 1116.9L1428.5 1121L1424.8 1118.8L1421.2 1121L1422.2 1116.9L1418.9 1114.1L1423.2 1113.7zM1430.8 1109.2L1432.4 1113.2L1436.7 1113.5L1433.5 1116.3L1434.4 1120.4L1430.8 1118.2L1427.2 1120.4L1428.1 1116.3L1424.9 1113.5L1429.2 1113.2zM1436.8 1108.6L1438.4 1112.6L1442.7 1112.9L1439.4 1115.7L1440.4 1119.8L1436.8 1117.6L1433.1 1119.8L1434.1 1115.7L1430.9 1112.9L1435.1 1112.6zM1442.7 1108L1444.4 1112L1448.6 1112.3L1445.4 1115.1L1446.4 1119.2L1442.7 1117L1439.1 1119.2L1440.1 1115.1L1436.8 1112.3L1441.1 1112zM1448.7 1107.4L1450.4 1111.4L1454.6 1111.7L1451.4 1114.5L1452.4 1118.6L1448.7 1116.4L1445.1 1118.6L1446.1 1114.5L1442.8 1111.7L1447.1 1111.4zM1454.7 1106.8L1456.3 1110.8L1460.6 1111.1L1457.3 1113.9L1458.3 1118L1454.7 1115.8L1451 1118L1452 1113.9L1448.8 1111.1L1453 1110.8zM1460.7 1106.2L1462.3 1110.2L1466.6 1110.5L1463.3 1113.3L1464.3 1117.4L1460.7 1115.2L1457 1117.4L1458 1113.3L1454.8 1110.5L1459 1110.2zM1466.6 1105.6L1468.3 1109.6L1472.5 1109.9L1469.3 1112.7L1470.3 1116.9L1466.6 1114.6L1463 1116.9L1464 1112.7L1460.7 1109.9L1465 1109.6zM1472.6 1105L1474.2 1109L1478.5 1109.3L1475.3 1112.1L1476.2 1116.3L1472.6 1114L1469 1116.3L1469.9 1112.1L1466.7 1109.3L1470.9 1109zM1478.6 1104.4L1480.2 1108.4L1484.5 1108.7L1481.2 1111.5L1482.2 1115.7L1478.6 1113.4L1474.9 1115.7L1475.9 1111.5L1472.7 1108.7L1476.9 1108.4zM1484.5 1104.7L1486.2 1108.6L1490.4 1109L1487.2 1111.8L1488.2 1115.9L1484.5 1113.7L1480.9 1115.9L1481.9 1111.8L1478.6 1109L1482.9 1108.6zM1490.5 1105.3L1492.2 1109.2L1496.4 1109.6L1493.2 1112.3L1494.1 1116.5L1490.5 1114.3L1486.9 1116.5L1487.8 1112.3L1484.6 1109.6L1488.9 1109.2zM1496.5 1105.9L1498.1 1109.8L1502.4 1110.2L1499.1 1112.9L1500.1 1117.1L1496.5 1114.9L1492.8 1117.1L1493.8 1112.9L1490.6 1110.2L1494.8 1109.8zM1502.4 1106.5L1504.1 1110.4L1508.3 1110.8L1505.1 1113.5L1506.1 1117.7L1502.4 1115.5L1498.8 1117.7L1499.8 1113.5L1496.5 1110.8L1500.8 1110.4zM1508.4 1107.1L1510.1 1111L1514.3 1111.4L1511.1 1114.1L1512.1 1118.3L1508.4 1116.1L1504.8 1118.3L1505.8 1114.1L1502.5 1111.4L1506.8 1111zM1514.4 1107.6L1516 1111.5L1520.3 1111.9L1517.1 1114.6L1518 1118.8L1514.4 1116.6L1510.7 1118.8L1511.7 1114.6L1508.5 1111.9L1512.7 1111.5zM1520.4 1107.6L1522 1111.5L1526.3 1111.9L1523.1 1114.6L1524 1118.8L1520.4 1116.6L1516.7 1118.8L1517.7 1114.6L1514.5 1111.9L1518.7 1111.5zM1526.4 1107.6L1528 1111.5L1532.3 1111.9L1529.1 1114.6L1530 1118.8L1526.4 1116.6L1522.7 1118.8L1523.7 1114.6L1520.5 1111.9L1524.7 1111.5zM1532.4 1107.6L1534 1111.5L1538.3 1111.9L1535.1 1114.6L1536 1118.8L1532.4 1116.6L1528.7 1118.8L1529.7 1114.6L1526.5 1111.9L1530.7 1111.5zM1538.4 1107.6L1540 1111.5L1544.3 1111.9L1541.1 1114.6L1542 1118.8L1538.4 1116.6L1534.7 1118.8L1535.7 1114.6L1532.5 1111.9L1536.7 1111.5zM1544.4 1107.6L1546 1111.5L1550.3 1111.9L1547.1 1114.6L1548 1118.8L1544.4 1116.6L1540.7 1118.8L1541.7 1114.6L1538.5 1111.9L1542.7 1111.5zM1550.4 1107.6L1552 1111.5L1556.3 1111.9L1553.1 1114.6L1554 1118.8L1550.4 1116.6L1546.7 1118.8L1547.7 1114.6L1544.5 1111.9L1548.7 1111.5zM1556.4 1107.6L1558 1111.5L1562.3 1111.9L1559.1 1114.6L1560 1118.8L1556.4 1116.6L1552.7 1118.8L1553.7 1114.6L1550.5 1111.9L1554.7 1111.5zM1562.4 1107.6L1564 1111.5L1568.3 1111.9L1565.1 1114.6L1566 1118.8L1562.4 1116.6L1558.7 1118.8L1559.7 1114.6L1556.5 1111.9L1560.7 1111.5zM1568.4 1107.6L1570 1111.5L1574.3 1111.9L1571.1 1114.6L1572 1118.8L1568.4 1116.6L1564.7 1118.8L1565.7 1114.6L1562.5 1111.9L1566.7 1111.5zM1574.4 1107.6L1576 1111.5L1580.3 1111.9L1577.1 1114.6L1578 1118.8L1574.4 1116.6L1570.7 1118.8L1571.7 1114.6L1568.5 1111.9L1572.7 1111.5zM1580.4 1107.6L1582 1111.5L1586.3 1111.9L1583.1 1114.6L1584 1118.8L1580.4 1116.6L1576.7 1118.8L1577.7 1114.6L1574.5 1111.9L1578.7 1111.5zM1586.4 1107.6L1588 1111.5L1592.3 1111.9L1589.1 1114.6L1590 1118.8L1586.4 1116.6L1582.7 1118.8L1583.7 1114.6L1580.5 1111.9L1584.7 1111.5zM1592.4 1107.6L1594 1111.5L1598.3 1111.9L1595.1 1114.6L1596 1118.8L1592.4 1116.6L1588.7 1118.8L1589.7 1114.6L1586.5 1111.9L1590.7 1111.5zM1598.4 1107.6L1600 1111.5L1604.3 1111.9L1601.1 1114.6L1602 1118.8L1598.4 1116.6L1594.7 1118.8L1595.7 1114.6L1592.5 1111.9L1596.7 1111.5zM1604.4 1107.6L1606 1111.5L1610.3 1111.9L1607.1 1114.6L1608 1118.8L1604.4 1116.6L1600.7 1118.8L1601.7 1114.6L1598.5 1111.9L1602.7 1111.5zM1610.4 1107.6L1612 1111.5L1616.3 1111.9L1613.1 1114.6L1614 1118.8L1610.4 1116.6L1606.7 1118.8L1607.7 1114.6L1604.5 1111.9L1608.7 1111.5zM1616.4 1107.6L1618 1111.5L1622.3 1111.9L1619.1 1114.6L1620 1118.8L1616.4 1116.6L1612.7 1118.8L1613.7 1114.6L1610.5 1111.9L1614.7 1111.5zM1622.4 1107.6L1624 1111.5L1628.3 1111.9L1625.1 1114.6L1626 1118.8L1622.4 1116.6L1618.7 1118.8L1619.7 1114.6L1616.5 1111.9L1620.7 1111.5zM1628.4 1107.6L1630 1111.5L1634.3 1111.9L1631.1 1114.6L1632 1118.8L1628.4 1116.6L1624.7 1118.8L1625.7 1114.6L1622.5 1111.9L1626.7 1111.5zM1632.6 1107.6L1634.2 1111.5L1638.5 1111.9L1635.3 1114.6L1636.2 1118.8L1632.6 1116.6L1629 1118.8L1629.9 1114.6L1626.7 1111.9L1630.9 1111.5z" fill="#000"/>
<path d="M1110 1069.5 L1116.2 1070.7 L1149.3 1077.4 L1182.4 1084 L1215.5 1097.2 L1248.6 1103.8 L1281.7 1113.8 L1300 1115.6" fill="none" stroke="#000" stroke-width="6.5" stroke-linejoin="round"/>
<path d="M1110 1063.3L1111.6 1067.2L1115.9 1067.6L1112.7 1070.4L1113.6 1074.5L1110 1072.3L1106.4 1074.5L1107.3 1070.4L1104.1 1067.6L1108.4 1067.2zM1115.9 1064.5L1117.5 1068.4L1121.8 1068.8L1118.5 1071.5L1119.5 1075.7L1115.9 1073.5L1112.2 1075.7L1113.2 1071.5L1110 1068.8L1114.2 1068.4zM1121.8 1065.7L1123.4 1069.6L1127.7 1069.9L1124.4 1072.7L1125.4 1076.9L1121.8 1074.7L1118.1 1076.9L1119.1 1072.7L1115.9 1069.9L1120.1 1069.6zM1127.7 1066.8L1129.3 1070.8L1133.5 1071.1L1130.3 1073.9L1131.3 1078L1127.7 1075.8L1124 1078L1125 1073.9L1121.8 1071.1L1126 1070.8zM1133.5 1068L1135.2 1071.9L1139.4 1072.3L1136.2 1075.1L1137.2 1079.2L1133.5 1077L1129.9 1079.2L1130.9 1075.1L1127.6 1072.3L1131.9 1071.9zM1139.4 1069.2L1141.1 1073.1L1145.3 1073.5L1142.1 1076.3L1143.1 1080.4L1139.4 1078.2L1135.8 1080.4L1136.8 1076.3L1133.5 1073.5L1137.8 1073.1zM1145.3 1070.4L1146.9 1074.3L1151.2 1074.6L1148 1077.4L1148.9 1081.6L1145.3 1079.4L1141.7 1081.6L1142.6 1077.4L1139.4 1074.6L1143.7 1074.3zM1151.2 1071.5L1152.8 1075.5L1157.1 1075.8L1153.8 1078.6L1154.8 1082.8L1151.2 1080.5L1147.5 1082.8L1148.5 1078.6L1145.3 1075.8L1149.5 1075.5zM1157.1 1072.7L1158.7 1076.6L1163 1077L1159.7 1079.8L1160.7 1083.9L1157.1 1081.7L1153.4 1083.9L1154.4 1079.8L1151.2 1077L1155.4 1076.6zM1163 1073.9L1164.6 1077.8L1168.8 1078.2L1165.6 1081L1166.6 1085.1L1163 1082.9L1159.3 1085.1L1160.3 1081L1157.1 1078.2L1161.3 1077.8zM1168.8 1075.1L1170.5 1079L1174.7 1079.4L1171.5 1082.1L1172.5 1086.3L1168.8 1084.1L1165.2 1086.3L1166.2 1082.1L1162.9 1079.4L1167.2 1079zM1174.7 1076.2L1176.4 1080.2L1180.6 1080.5L1177.4 1083.3L1178.4 1087.5L1174.7 1085.2L1171.1 1087.5L1172.1 1083.3L1168.8 1080.5L1173.1 1080.2zM1180.6 1077.4L1182.2 1081.4L1186.5 1081.7L1183.3 1084.5L1184.2 1088.6L1180.6 1086.4L1177 1088.6L1177.9 1084.5L1174.7 1081.7L1179 1081.4zM1186.3 1079.3L1187.9 1083.3L1192.2 1083.6L1188.9 1086.4L1189.9 1090.5L1186.3 1088.3L1182.6 1090.5L1183.6 1086.4L1180.4 1083.6L1184.6 1083.3zM1191.8 1081.6L1193.5 1085.5L1197.7 1085.8L1194.5 1088.6L1195.5 1092.8L1191.8 1090.6L1188.2 1092.8L1189.2 1088.6L1185.9 1085.8L1190.2 1085.5zM1197.4 1083.8L1199.1 1087.7L1203.3 1088.1L1200.1 1090.8L1201.1 1095L1197.4 1092.8L1193.8 1095L1194.7 1090.8L1191.5 1088.1L1195.8 1087.7zM1203 1086L1204.6 1089.9L1208.9 1090.3L1205.6 1093.1L1206.6 1097.2L1203 1095L1199.3 1097.2L1200.3 1093.1L1197.1 1090.3L1201.3 1089.9zM1208.6 1088.2L1210.2 1092.2L1214.4 1092.5L1211.2 1095.3L1212.2 1099.5L1208.6 1097.2L1204.9 1099.5L1205.9 1095.3L1202.7 1092.5L1206.9 1092.2zM1214.1 1090.5L1215.8 1094.4L1220 1094.8L1216.8 1097.5L1217.8 1101.7L1214.1 1099.5L1210.5 1101.7L1211.5 1097.5L1208.2 1094.8L1212.5 1094.4zM1219.9 1091.9L1221.6 1095.8L1225.8 1096.2L1222.6 1099L1223.6 1103.1L1219.9 1100.9L1216.3 1103.1L1217.3 1099L1214 1096.2L1218.3 1095.8zM1225.8 1093.1L1227.5 1097L1231.7 1097.4L1228.5 1100.1L1229.5 1104.3L1225.8 1102.1L1222.2 1104.3L1223.1 1100.1L1219.9 1097.4L1224.2 1097zM1231.7 1094.3L1233.3 1098.2L1237.6 1098.5L1234.4 1101.3L1235.3 1105.5L1231.7 1103.3L1228.1 1105.5L1229 1101.3L1225.8 1098.5L1230 1098.2zM1237.6 1095.4L1239.2 1099.4L1243.5 1099.7L1240.2 1102.5L1241.2 1106.7L1237.6 1104.4L1233.9 1106.7L1234.9 1102.5L1231.7 1099.7L1235.9 1099.4zM1243.5 1096.6L1245.1 1100.5L1249.4 1100.9L1246.1 1103.7L1247.1 1107.8L1243.5 1105.6L1239.8 1107.8L1240.8 1103.7L1237.6 1100.9L1241.8 1100.5zM1249.3 1097.9L1251 1101.8L1255.2 1102.1L1252 1104.9L1253 1109.1L1249.3 1106.9L1245.7 1109.1L1246.7 1104.9L1243.4 1102.1L1247.7 1101.8zM1255.1 1099.6L1256.7 1103.5L1261 1103.9L1257.7 1106.6L1258.7 1110.8L1255.1 1108.6L1251.4 1110.8L1252.4 1106.6L1249.2 1103.9L1253.4 1103.5zM1260.8 1101.3L1262.5 1105.2L1266.7 1105.6L1263.5 1108.4L1264.5 1112.5L1260.8 1110.3L1257.2 1112.5L1258.2 1108.4L1254.9 1105.6L1259.2 1105.2zM1266.6 1103L1268.2 1107L1272.5 1107.3L1269.2 1110.1L1270.2 1114.2L1266.6 1112L1262.9 1114.2L1263.9 1110.1L1260.7 1107.3L1264.9 1107zM1272.3 1104.8L1274 1108.7L1278.2 1109L1275 1111.8L1276 1116L1272.3 1113.8L1268.7 1116L1269.7 1111.8L1266.4 1109L1270.7 1108.7zM1278.1 1106.5L1279.7 1110.4L1284 1110.8L1280.7 1113.5L1281.7 1117.7L1278.1 1115.5L1274.4 1117.7L1275.4 1113.5L1272.2 1110.8L1276.4 1110.4zM1283.9 1107.8L1285.5 1111.7L1289.8 1112.1L1286.6 1114.9L1287.5 1119L1283.9 1116.8L1280.2 1119L1281.2 1114.9L1278 1112.1L1282.2 1111.7zM1289.9 1108.4L1291.5 1112.3L1295.8 1112.7L1292.5 1115.5L1293.5 1119.6L1289.9 1117.4L1286.2 1119.6L1287.2 1115.5L1284 1112.7L1288.2 1112.3zM1295.8 1109L1297.5 1112.9L1301.7 1113.3L1298.5 1116.1L1299.5 1120.2L1295.8 1118L1292.2 1120.2L1293.2 1116.1L1289.9 1113.3L1294.2 1112.9zM1300 1109.4L1301.6 1113.3L1305.9 1113.7L1302.7 1116.5L1303.6 1120.6L1300 1118.4L1296.4 1120.6L1297.3 1116.5L1294.1 1113.7L1298.4 1113.3z" fill="#000"/>
<path d="M1300 1115.6 L1314.8 1117.1 L1347.9 1123.7 L1381 1123.7 L1414.1 1120.4 L1447.2 1120.4 L1480.3 1120.4 L1513.4 1120.4 L1546.5 1120.4 L1579.6 1120.4 L1632.6 1120.4" fill="none" stroke="#000" stroke-width="6.5" stroke-linejoin="round"/>
<path d="M1300 1109.4L1301.6 1113.3L1305.9 1113.7L1302.7 1116.5L1303.6 1120.6L1300 1118.4L1296.4 1120.6L1297.3 1116.5L1294.1 1113.7L1298.4 1113.3zM1306 1110L1307.6 1113.9L1311.9 1114.3L1308.6 1117.1L1309.6 1121.2L1306 1119L1302.3 1121.2L1303.3 1117.1L1300.1 1114.3L1304.3 1113.9zM1311.9 1110.6L1313.6 1114.5L1317.8 1114.9L1314.6 1117.7L1315.6 1121.8L1311.9 1119.6L1308.3 1121.8L1309.3 1117.7L1306 1114.9L1310.3 1114.5zM1317.9 1111.5L1319.5 1115.4L1323.8 1115.8L1320.5 1118.6L1321.5 1122.7L1317.9 1120.5L1314.2 1122.7L1315.2 1118.6L1312 1115.8L1316.2 1115.4zM1323.7 1112.7L1325.4 1116.6L1329.6 1117L1326.4 1119.7L1327.4 1123.9L1323.7 1121.7L1320.1 1123.9L1321.1 1119.7L1317.9 1117L1322.1 1116.6zM1329.6 1113.8L1331.3 1117.8L1335.5 1118.1L1332.3 1120.9L1333.3 1125.1L1329.6 1122.8L1326 1125.1L1327 1120.9L1323.7 1118.1L1328 1117.8zM1335.5 1115L1337.2 1119L1341.4 1119.3L1338.2 1122.1L1339.2 1126.2L1335.5 1124L1331.9 1126.2L1332.9 1122.1L1329.6 1119.3L1333.9 1119zM1341.4 1116.2L1343 1120.1L1347.3 1120.5L1344.1 1123.3L1345 1127.4L1341.4 1125.2L1337.8 1127.4L1338.7 1123.3L1335.5 1120.5L1339.8 1120.1zM1347.3 1117.4L1348.9 1121.3L1353.2 1121.7L1349.9 1124.4L1350.9 1128.6L1347.3 1126.4L1343.6 1128.6L1344.6 1124.4L1341.4 1121.7L1345.6 1121.3zM1353.3 1117.5L1354.9 1121.4L1359.2 1121.8L1355.9 1124.6L1356.9 1128.7L1353.3 1126.5L1349.6 1128.7L1350.6 1124.6L1347.4 1121.8L1351.6 1121.4zM1359.3 1117.5L1360.9 1121.4L1365.2 1121.8L1361.9 1124.6L1362.9 1128.7L1359.3 1126.5L1355.6 1128.7L1356.6 1124.6L1353.4 1121.8L1357.6 1121.4zM1365.3 1117.5L1366.9 1121.4L1371.2 1121.8L1367.9 1124.6L1368.9 1128.7L1365.3 1126.5L1361.6 1128.7L1362.6 1124.6L1359.4 1121.8L1363.6 1121.4zM1371.3 1117.5L1372.9 1121.4L1377.2 1121.8L1373.9 1124.6L1374.9 1128.7L1371.3 1126.5L1367.6 1128.7L1368.6 1124.6L1365.4 1121.8L1369.6 1121.4zM1377.3 1117.5L1378.9 1121.4L1383.2 1121.8L1379.9 1124.6L1380.9 1128.7L1377.3 1126.5L1373.6 1128.7L1374.6 1124.6L1371.4 1121.8L1375.6 1121.4zM1383.3 1117.3L1384.9 1121.2L1389.2 1121.6L1385.9 1124.3L1386.9 1128.5L1383.3 1126.3L1379.6 1128.5L1380.6 1124.3L1377.4 1121.6L1381.6 1121.2zM1389.2 1116.7L1390.9 1120.6L1395.1 1121L1391.9 1123.7L1392.9 1127.9L1389.2 1125.7L1385.6 1127.9L1386.6 1123.7L1383.3 1121L1387.6 1120.6zM1395.2 1116.1L1396.8 1120L1401.1 1120.4L1397.9 1123.2L1398.8 1127.3L1395.2 1125.1L1391.6 1127.3L1392.5 1123.2L1389.3 1120.4L1393.6 1120zM1401.2 1115.5L1402.8 1119.4L1407.1 1119.8L1403.8 1122.6L1404.8 1126.7L1401.2 1124.5L1397.5 1126.7L1398.5 1122.6L1395.3 1119.8L1399.5 1119.4zM1407.1 1114.9L1408.8 1118.8L1413 1119.2L1409.8 1122L1410.8 1126.1L1407.1 1123.9L1403.5 1126.1L1404.5 1122L1401.2 1119.2L1405.5 1118.8zM1413.1 1114.3L1414.8 1118.2L1419 1118.6L1415.8 1121.4L1416.8 1125.5L1413.1 1123.3L1409.5 1125.5L1410.4 1121.4L1407.2 1118.6L1411.5 1118.2zM1419.1 1114.2L1420.8 1118.1L1425 1118.5L1421.8 1121.3L1422.7 1125.4L1419.1 1123.2L1415.5 1125.4L1416.4 1121.3L1413.2 1118.5L1417.5 1118.1zM1425.1 1114.2L1426.8 1118.1L1431 1118.5L1427.8 1121.3L1428.7 1125.4L1425.1 1123.2L1421.5 1125.4L1422.4 1121.3L1419.2 1118.5L1423.5 1118.1zM1431.1 1114.2L1432.8 1118.1L1437 1118.5L1433.8 1121.3L1434.7 1125.4L1431.1 1123.2L1427.5 1125.4L1428.4 1121.3L1425.2 1118.5L1429.5 1118.1zM1437.1 1114.2L1438.8 1118.1L1443 1118.5L1439.8 1121.3L1440.7 1125.4L1437.1 1123.2L1433.5 1125.4L1434.4 1121.3L1431.2 1118.5L1435.5 1118.1zM1443.1 1114.2L1444.8 1118.1L1449 1118.5L1445.8 1121.3L1446.7 1125.4L1443.1 1123.2L1439.5 1125.4L1440.4 1121.3L1437.2 1118.5L1441.5 1118.1zM1449.1 1114.2L1450.8 1118.1L1455 1118.5L1451.8 1121.3L1452.7 1125.4L1449.1 1123.2L1445.5 1125.4L1446.4 1121.3L1443.2 1118.5L1447.5 1118.1zM1455.1 1114.2L1456.8 1118.1L1461 1118.5L1457.8 1121.3L1458.7 1125.4L1455.1 1123.2L1451.5 1125.4L1452.4 1121.3L1449.2 1118.5L1453.5 1118.1zM1461.1 1114.2L1462.8 1118.1L1467 1118.5L1463.8 1121.3L1464.7 1125.4L1461.1 1123.2L1457.5 1125.4L1458.4 1121.3L1455.2 1118.5L1459.5 1118.1zM1467.1 1114.2L1468.8 1118.1L1473 1118.5L1469.8 1121.3L1470.7 1125.4L1467.1 1123.2L1463.5 1125.4L1464.4 1121.3L1461.2 1118.5L1465.5 1118.1zM1473.1 1114.2L1474.8 1118.1L1479 1118.5L1475.8 1121.3L1476.7 1125.4L1473.1 1123.2L1469.5 1125.4L1470.4 1121.3L1467.2 1118.5L1471.5 1118.1zM1479.1 1114.2L1480.8 1118.1L1485 1118.5L1481.8 1121.3L1482.7 1125.4L1479.1 1123.2L1475.5 1125.4L1476.4 1121.3L1473.2 1118.5L1477.5 1118.1zM1485.1 1114.2L1486.8 1118.1L1491 1118.5L1487.8 1121.3L1488.7 1125.4L1485.1 1123.2L1481.5 1125.4L1482.4 1121.3L1479.2 1118.5L1483.5 1118.1zM1491.1 1114.2L1492.8 1118.1L1497 1118.5L1493.8 1121.3L1494.7 1125.4L1491.1 1123.2L1487.5 1125.4L1488.4 1121.3L1485.2 1118.5L1489.5 1118.1zM1497.1 1114.2L1498.8 1118.1L1503 1118.5L1499.8 1121.3L1500.7 1125.4L1497.1 1123.2L1493.5 1125.4L1494.4 1121.3L1491.2 1118.5L1495.5 1118.1zM1503.1 1114.2L1504.8 1118.1L1509 1118.5L1505.8 1121.3L1506.7 1125.4L1503.1 1123.2L1499.5 1125.4L1500.4 1121.3L1497.2 1118.5L1501.5 1118.1zM1509.1 1114.2L1510.8 1118.1L1515 1118.5L1511.8 1121.3L1512.7 1125.4L1509.1 1123.2L1505.5 1125.4L1506.4 1121.3L1503.2 1118.5L1507.5 1118.1zM1515.1 1114.2L1516.8 1118.1L1521 1118.5L1517.8 1121.3L1518.7 1125.4L1515.1 1123.2L1511.5 1125.4L1512.4 1121.3L1509.2 1118.5L1513.5 1118.1zM1521.1 1114.2L1522.8 1118.1L1527 1118.5L1523.8 1121.3L1524.7 1125.4L1521.1 1123.2L1517.5 1125.4L1518.4 1121.3L1515.2 1118.5L1519.5 1118.1zM1527.1 1114.2L1528.8 1118.1L1533 1118.5L1529.8 1121.3L1530.7 1125.4L1527.1 1123.2L1523.5 1125.4L1524.4 1121.3L1521.2 1118.5L1525.5 1118.1zM1533.1 1114.2L1534.8 1118.1L1539 1118.5L1535.8 1121.3L1536.7 1125.4L1533.1 1123.2L1529.5 1125.4L1530.4 1121.3L1527.2 1118.5L1531.5 1118.1zM1539.1 1114.2L1540.8 1118.1L1545 1118.5L1541.8 1121.3L1542.7 1125.4L1539.1 1123.2L1535.5 1125.4L1536.4 1121.3L1533.2 1118.5L1537.5 1118.1zM1545.1 1114.2L1546.8 1118.1L1551 1118.5L1547.8 1121.3L1548.7 1125.4L1545.1 1123.2L1541.5 1125.4L1542.4 1121.3L1539.2 1118.5L1543.5 1118.1zM1551.1 1114.2L1552.8 1118.1L1557 1118.5L1553.8 1121.3L1554.7 1125.4L1551.1 1123.2L1547.5 1125.4L1548.4 1121.3L1545.2 1118.5L1549.5 1118.1zM1557.1 1114.2L1558.8 1118.1L1563 1118.5L1559.8 1121.3L1560.7 1125.4L1557.1 1123.2L1553.5 1125.4L1554.4 1121.3L1551.2 1118.5L1555.5 1118.1zM1563.1 1114.2L1564.8 1118.1L1569 1118.5L1565.8 1121.3L1566.7 1125.4L1563.1 1123.2L1559.5 1125.4L1560.4 1121.3L1557.2 1118.5L1561.5 1118.1zM1569.1 1114.2L1570.8 1118.1L1575 1118.5L1571.8 1121.3L1572.7 1125.4L1569.1 1123.2L1565.5 1125.4L1566.4 1121.3L1563.2 1118.5L1567.5 1118.1zM1575.1 1114.2L1576.8 1118.1L1581 1118.5L1577.8 1121.3L1578.7 1125.4L1575.1 1123.2L1571.5 1125.4L1572.4 1121.3L1569.2 1118.5L1573.5 1118.1zM1581.1 1114.2L1582.8 1118.1L1587 1118.5L1583.8 1121.3L1584.7 1125.4L1581.1 1123.2L1577.5 1125.4L1578.4 1121.3L1575.2 1118.5L1579.5 1118.1zM1587.1 1114.2L1588.8 1118.1L1593 1118.5L1589.8 1121.3L1590.7 1125.4L1587.1 1123.2L1583.5 1125.4L1584.4 1121.3L1581.2 1118.5L1585.5 1118.1zM1593.1 1114.2L1594.8 1118.1L1599 1118.5L1595.8 1121.3L1596.7 1125.4L1593.1 1123.2L1589.5 1125.4L1590.4 1121.3L1587.2 1118.5L1591.5 1118.1zM1599.1 1114.2L1600.8 1118.1L1605 1118.5L1601.8 1121.3L1602.7 1125.4L1599.1 1123.2L1595.5 1125.4L1596.4 1121.3L1593.2 1118.5L1597.5 1118.1zM1605.1 1114.2L1606.8 1118.1L1611 1118.5L1607.8 1121.3L1608.7 1125.4L1605.1 1123.2L1601.5 1125.4L1602.4 1121.3L1599.2 1118.5L1603.5 1118.1zM1611.1 1114.2L1612.8 1118.1L1617 1118.5L1613.8 1121.3L1614.7 1125.4L1611.1 1123.2L1607.5 1125.4L1608.4 1121.3L1605.2 1118.5L1609.5 1118.1zM1617.1 1114.2L1618.8 1118.1L1623 1118.5L1619.8 1121.3L1620.7 1125.4L1617.1 1123.2L1613.5 1125.4L1614.4 1121.3L1611.2 1118.5L1615.5 1118.1zM1623.1 1114.2L1624.8 1118.1L1629 1118.5L1625.8 1121.3L1626.7 1125.4L1623.1 1123.2L1619.5 1125.4L1620.4 1121.3L1617.2 1118.5L1621.5 1118.1zM1629.1 1114.2L1630.8 1118.1L1635 1118.5L1631.8 1121.3L1632.7 1125.4L1629.1 1123.2L1625.5 1125.4L1626.4 1121.3L1623.2 1118.5L1627.5 1118.1zM1632.6 1114.2L1634.2 1118.1L1638.5 1118.5L1635.3 1121.3L1636.2 1125.4L1632.6 1123.2L1629 1125.4L1629.9 1121.3L1626.7 1118.5L1630.9 1118.1z" fill="#000"/>
<path d="M1632.6 1080.7 L1632.6 1123.7" fill="none" stroke="#000" stroke-width="6.5" stroke-linejoin="round"/>
<path d="M1632.6 1074.5L1634.2 1078.4L1638.5 1078.8L1635.3 1081.5L1636.2 1085.7L1632.6 1083.5L1629 1085.7L1629.9 1081.5L1626.7 1078.8L1630.9 1078.4zM1632.6 1080.5L1634.2 1084.4L1638.5 1084.8L1635.3 1087.5L1636.2 1091.7L1632.6 1089.5L1629 1091.7L1629.9 1087.5L1626.7 1084.8L1630.9 1084.4zM1632.6 1086.5L1634.2 1090.4L1638.5 1090.8L1635.3 1093.5L1636.2 1097.7L1632.6 1095.5L1629 1097.7L1629.9 1093.5L1626.7 1090.8L1630.9 1090.4zM1632.6 1092.5L1634.2 1096.4L1638.5 1096.8L1635.3 1099.5L1636.2 1103.7L1632.6 1101.5L1629 1103.7L1629.9 1099.5L1626.7 1096.8L1630.9 1096.4zM1632.6 1098.5L1634.2 1102.4L1638.5 1102.8L1635.3 1105.5L1636.2 1109.7L1632.6 1107.5L1629 1109.7L1629.9 1105.5L1626.7 1102.8L1630.9 1102.4zM1632.6 1104.5L1634.2 1108.4L1638.5 1108.8L1635.3 1111.5L1636.2 1115.7L1632.6 1113.5L1629 1115.7L1629.9 1111.5L1626.7 1108.8L1630.9 1108.4zM1632.6 1110.5L1634.2 1114.4L1638.5 1114.8L1635.3 1117.5L1636.2 1121.7L1632.6 1119.5L1629 1121.7L1629.9 1117.5L1626.7 1114.8L1630.9 1114.4zM1632.6 1116.5L1634.2 1120.4L1638.5 1120.8L1635.3 1123.5L1636.2 1127.7L1632.6 1125.5L1629 1127.7L1629.9 1123.5L1626.7 1120.8L1630.9 1120.4zM1632.6 1117.5L1634.2 1121.4L1638.5 1121.8L1635.3 1124.6L1636.2 1128.7L1632.6 1126.5L1629 1128.7L1629.9 1124.6L1626.7 1121.8L1630.9 1121.4z" fill="#000"/>
<path d="M1129.4 1067.4 L1129.4 1097.2 L1142.7 1117.1 L1144.3 1136.9 L1141 1160.1" fill="none" stroke="#000" stroke-width="6.5" stroke-linejoin="round"/>
<path d="M1129.4 1061.2L1131.1 1065.2L1135.3 1065.5L1132.1 1068.3L1133.1 1072.4L1129.4 1070.2L1125.8 1072.4L1126.8 1068.3L1123.5 1065.5L1127.8 1065.2zM1129.4 1067.2L1131.1 1071.2L1135.3 1071.5L1132.1 1074.3L1133.1 1078.4L1129.4 1076.2L1125.8 1078.4L1126.8 1074.3L1123.5 1071.5L1127.8 1071.2zM1129.4 1073.2L1131.1 1077.2L1135.3 1077.5L1132.1 1080.3L1133.1 1084.4L1129.4 1082.2L1125.8 1084.4L1126.8 1080.3L1123.5 1077.5L1127.8 1077.2zM1129.4 1079.2L1131.1 1083.2L1135.3 1083.5L1132.1 1086.3L1133.1 1090.4L1129.4 1088.2L1125.8 1090.4L1126.8 1086.3L1123.5 1083.5L1127.8 1083.2zM1129.4 1085.2L1131.1 1089.2L1135.3 1089.5L1132.1 1092.3L1133.1 1096.4L1129.4 1094.2L1125.8 1096.4L1126.8 1092.3L1123.5 1089.5L1127.8 1089.2zM1129.6 1091.2L1131.2 1095.1L1135.5 1095.5L1132.2 1098.3L1133.2 1102.4L1129.6 1100.2L1125.9 1102.4L1126.9 1098.3L1123.7 1095.5L1127.9 1095.1zM1132.9 1096.2L1134.5 1100.1L1138.8 1100.5L1135.6 1103.3L1136.5 1107.4L1132.9 1105.2L1129.2 1107.4L1130.2 1103.3L1127 1100.5L1131.2 1100.1zM1136.2 1101.2L1137.9 1105.1L1142.1 1105.5L1138.9 1108.2L1139.9 1112.4L1136.2 1110.2L1132.6 1112.4L1133.6 1108.2L1130.3 1105.5L1134.6 1105.1zM1139.5 1106.2L1141.2 1110.1L1145.4 1110.5L1142.2 1113.2L1143.2 1117.4L1139.5 1115.2L1135.9 1117.4L1136.9 1113.2L1133.6 1110.5L1137.9 1110.1zM1142.7 1111.2L1144.4 1115.2L1148.6 1115.5L1145.4 1118.3L1146.4 1122.4L1142.7 1120.2L1139.1 1122.4L1140.1 1118.3L1136.8 1115.5L1141.1 1115.2zM1143.2 1117.2L1144.9 1121.1L1149.1 1121.5L1145.9 1124.3L1146.9 1128.4L1143.2 1126.2L1139.6 1128.4L1140.5 1124.3L1137.3 1121.5L1141.6 1121.1zM1143.7 1123.2L1145.4 1127.1L1149.6 1127.5L1146.4 1130.2L1147.4 1134.4L1143.7 1132.2L1140.1 1134.4L1141 1130.2L1137.8 1127.5L1142.1 1127.1zM1144.2 1129.2L1145.9 1133.1L1150.1 1133.4L1146.9 1136.2L1147.9 1140.4L1144.2 1138.2L1140.6 1140.4L1141.5 1136.2L1138.3 1133.4L1142.6 1133.1zM1143.7 1135.1L1145.4 1139L1149.6 1139.4L1146.4 1142.2L1147.4 1146.3L1143.7 1144.1L1140.1 1146.3L1141.1 1142.2L1137.8 1139.4L1142.1 1139zM1142.9 1141L1144.5 1145L1148.8 1145.3L1145.5 1148.1L1146.5 1152.3L1142.9 1150L1139.2 1152.3L1140.2 1148.1L1137 1145.3L1141.2 1145zM1142 1147L1143.7 1150.9L1147.9 1151.3L1144.7 1154.1L1145.7 1158.2L1142 1156L1138.4 1158.2L1139.4 1154.1L1136.1 1151.3L1140.4 1150.9zM1141.2 1152.9L1142.8 1156.9L1147.1 1157.2L1143.8 1160L1144.8 1164.1L1141.2 1161.9L1137.5 1164.1L1138.5 1160L1135.3 1157.2L1139.5 1156.9zM1141 1153.9L1142.7 1157.9L1146.9 1158.2L1143.7 1161L1144.7 1165.1L1141 1162.9L1137.4 1165.1L1138.4 1161L1135.1 1158.2L1139.4 1157.9z" fill="#000"/>
<path d="M1064.3 916 L1067.9 917.7 L1105.5 932.7 L1110 934.5" fill="none" stroke="#000" stroke-width="6.5" stroke-linejoin="round"/>
<path d="M1064.3 909.8L1065.9 913.7L1070.2 914.1L1066.9 916.9L1067.9 921L1064.3 918.8L1060.6 921L1061.6 916.9L1058.4 914.1L1062.6 913.7zM1069.7 912.2L1071.4 916.2L1075.6 916.5L1072.4 919.3L1073.4 923.5L1069.7 921.2L1066.1 923.5L1067.1 919.3L1063.8 916.5L1068.1 916.2zM1075.3 914.5L1077 918.4L1081.2 918.7L1078 921.5L1079 925.7L1075.3 923.5L1071.7 925.7L1072.6 921.5L1069.4 918.7L1073.7 918.4zM1080.9 916.7L1082.5 920.6L1086.8 921L1083.5 923.8L1084.5 927.9L1080.9 925.7L1077.2 927.9L1078.2 923.8L1075 921L1079.2 920.6zM1086.5 918.9L1088.1 922.9L1092.3 923.2L1089.1 926L1090.1 930.1L1086.5 927.9L1082.8 930.1L1083.8 926L1080.6 923.2L1084.8 922.9zM1092 921.1L1093.7 925.1L1097.9 925.4L1094.7 928.2L1095.7 932.4L1092 930.1L1088.4 932.4L1089.4 928.2L1086.1 925.4L1090.4 925.1zM1097.6 923.4L1099.2 927.3L1103.5 927.7L1100.3 930.4L1101.2 934.6L1097.6 932.4L1094 934.6L1094.9 930.4L1091.7 927.7L1095.9 927.3zM1103.2 925.6L1104.8 929.5L1109.1 929.9L1105.8 932.7L1106.8 936.8L1103.2 934.6L1099.5 936.8L1100.5 932.7L1097.3 929.9L1101.5 929.5zM1108.7 927.8L1110.4 931.8L1114.6 932.1L1111.4 934.9L1112.4 939.1L1108.7 936.8L1105.1 939.1L1106.1 934.9L1102.8 932.1L1107.1 931.8zM1110 928.3L1111.6 932.3L1115.9 932.6L1112.7 935.4L1113.6 939.6L1110 937.3L1106.4 939.6L1107.3 935.4L1104.1 932.6L1108.4 932.3z" fill="#000"/>
<path d="M760 957.5 L776 965 L792 968.5 L824 976.5 L856 983 L888 991 L900 996 L950 1011 L1000 1031 L1050 1045 L1100 1057 L1110 1060.7" fill="none" stroke="#000" stroke-width="6.5" stroke-linejoin="round"/>
<path d="M760 951.3L761.6 955.2L765.9 955.6L762.7 958.4L763.6 962.5L760 960.3L756.4 962.5L757.3 958.4L754.1 955.6L758.4 955.2zM765.4 953.8L767.1 957.8L771.3 958.1L768.1 960.9L769.1 965.1L765.4 962.8L761.8 965.1L762.8 960.9L759.5 958.1L763.8 957.8zM770.9 956.4L772.5 960.3L776.8 960.7L773.5 963.5L774.5 967.6L770.9 965.4L767.2 967.6L768.2 963.5L765 960.7L769.2 960.3zM776.3 958.9L778 962.8L782.2 963.2L779 965.9L780 970.1L776.3 967.9L772.7 970.1L773.7 965.9L770.4 963.2L774.7 962.8zM782.2 960.2L783.8 964.1L788.1 964.4L784.8 967.2L785.8 971.4L782.2 969.2L778.5 971.4L779.5 967.2L776.3 964.4L780.5 964.1zM788 961.4L789.7 965.4L793.9 965.7L790.7 968.5L791.7 972.7L788 970.4L784.4 972.7L785.4 968.5L782.1 965.7L786.4 965.4zM793.9 962.8L795.5 966.7L799.8 967.1L796.6 969.8L797.5 974L793.9 971.8L790.2 974L791.2 969.8L788 967.1L792.2 966.7zM799.7 964.2L801.4 968.2L805.6 968.5L802.4 971.3L803.4 975.4L799.7 973.2L796.1 975.4L797.1 971.3L793.8 968.5L798.1 968.2zM805.5 965.7L807.2 969.6L811.4 970L808.2 972.7L809.2 976.9L805.5 974.7L801.9 976.9L802.9 972.7L799.6 970L803.9 969.6zM811.4 967.1L813 971.1L817.3 971.4L814 974.2L815 978.4L811.4 976.1L807.7 978.4L808.7 974.2L805.5 971.4L809.7 971.1zM817.2 968.6L818.8 972.5L823.1 972.9L819.8 975.7L820.8 979.8L817.2 977.6L813.5 979.8L814.5 975.7L811.3 972.9L815.5 972.5zM823 970L824.6 974L828.9 974.3L825.7 977.1L826.6 981.3L823 979L819.4 981.3L820.3 977.1L817.1 974.3L821.4 974zM828.9 971.3L830.5 975.2L834.8 975.6L831.5 978.4L832.5 982.5L828.9 980.3L825.2 982.5L826.2 978.4L823 975.6L827.2 975.2zM834.7 972.5L836.4 976.4L840.6 976.8L837.4 979.5L838.4 983.7L834.7 981.5L831.1 983.7L832.1 979.5L828.9 976.8L833.1 976.4zM840.6 973.7L842.3 977.6L846.5 978L843.3 980.7L844.3 984.9L840.6 982.7L837 984.9L838 980.7L834.7 978L839 977.6zM846.5 974.9L848.2 978.8L852.4 979.2L849.2 981.9L850.2 986.1L846.5 983.9L842.9 986.1L843.8 981.9L840.6 979.2L844.9 978.8zM852.4 976.1L854 980L858.3 980.4L855 983.1L856 987.3L852.4 985.1L848.7 987.3L849.7 983.1L846.5 980.4L850.7 980zM858.2 977.4L859.9 981.3L864.1 981.6L860.9 984.4L861.9 988.6L858.2 986.4L854.6 988.6L855.6 984.4L852.3 981.6L856.6 981.3zM864.1 978.8L865.7 982.8L870 983.1L866.7 985.9L867.7 990L864.1 987.8L860.4 990L861.4 985.9L858.2 983.1L862.4 982.8zM869.9 980.3L871.5 984.2L875.8 984.6L872.5 987.3L873.5 991.5L869.9 989.3L866.2 991.5L867.2 987.3L864 984.6L868.2 984.2zM875.7 981.7L877.4 985.7L881.6 986L878.4 988.8L879.4 992.9L875.7 990.7L872.1 992.9L873 988.8L869.8 986L874.1 985.7zM881.5 983.2L883.2 987.1L887.4 987.5L884.2 990.2L885.2 994.4L881.5 992.2L877.9 994.4L878.9 990.2L875.6 987.5L879.9 987.1zM887.3 984.6L889 988.6L893.2 988.9L890 991.7L891 995.9L887.3 993.6L883.7 995.9L884.7 991.7L881.5 988.9L885.7 988.6zM892.9 986.8L894.6 990.8L898.8 991.1L895.6 993.9L896.6 998.1L892.9 995.8L889.3 998.1L890.3 993.9L887 991.1L891.3 990.8zM898.5 989.2L900.1 993.1L904.4 993.4L901.1 996.2L902.1 1000.4L898.5 998.2L894.8 1000.4L895.8 996.2L892.6 993.4L896.8 993.1zM904.1 991L905.8 995L910 995.3L906.8 998.1L907.8 1002.3L904.1 1000L900.5 1002.3L901.5 998.1L898.2 995.3L902.5 995zM909.9 992.8L911.5 996.7L915.8 997.1L912.6 999.8L913.5 1004L909.9 1001.8L906.2 1004L907.2 999.8L904 997.1L908.2 996.7zM915.6 994.5L917.3 998.4L921.5 998.8L918.3 1001.6L919.3 1005.7L915.6 1003.5L912 1005.7L913 1001.6L909.7 998.8L914 998.4zM921.4 996.2L923 1000.2L927.3 1000.5L924 1003.3L925 1007.4L921.4 1005.2L917.7 1007.4L918.7 1003.3L915.5 1000.5L919.7 1000.2zM927.1 997.9L928.8 1001.9L933 1002.2L929.8 1005L930.8 1009.2L927.1 1006.9L923.5 1009.2L924.5 1005L921.2 1002.2L925.5 1001.9zM932.9 999.7L934.5 1003.6L938.8 1003.9L935.5 1006.7L936.5 1010.9L932.9 1008.7L929.2 1010.9L930.2 1006.7L927 1003.9L931.2 1003.6zM938.6 1001.4L940.3 1005.3L944.5 1005.7L941.3 1008.5L942.3 1012.6L938.6 1010.4L935 1012.6L936 1008.5L932.7 1005.7L937 1005.3zM944.4 1003.1L946 1007L950.3 1007.4L947 1010.2L948 1014.3L944.4 1012.1L940.7 1014.3L941.7 1010.2L938.5 1007.4L942.7 1007zM950.1 1004.8L951.8 1008.8L956 1009.1L952.8 1011.9L953.8 1016.1L950.1 1013.8L946.5 1016.1L947.5 1011.9L944.2 1009.1L948.5 1008.8zM955.7 1007.1L957.3 1011L961.6 1011.4L958.4 1014.1L959.3 1018.3L955.7 1016.1L952 1018.3L953 1014.1L949.8 1011.4L954 1011zM961.3 1009.3L962.9 1013.2L967.2 1013.6L963.9 1016.4L964.9 1020.5L961.3 1018.3L957.6 1020.5L958.6 1016.4L955.4 1013.6L959.6 1013.2zM966.8 1011.5L968.5 1015.5L972.7 1015.8L969.5 1018.6L970.5 1022.7L966.8 1020.5L963.2 1022.7L964.2 1018.6L960.9 1015.8L965.2 1015.5zM972.4 1013.8L974 1017.7L978.3 1018L975.1 1020.8L976 1025L972.4 1022.8L968.8 1025L969.7 1020.8L966.5 1018L970.8 1017.7zM978 1016L979.6 1019.9L983.9 1020.3L980.6 1023.1L981.6 1027.2L978 1025L974.3 1027.2L975.3 1023.1L972.1 1020.3L976.3 1019.9zM983.5 1018.2L985.2 1022.2L989.4 1022.5L986.2 1025.3L987.2 1029.4L983.5 1027.2L979.9 1029.4L980.9 1025.3L977.6 1022.5L981.9 1022.2zM989.1 1020.4L990.8 1024.4L995 1024.7L991.8 1027.5L992.8 1031.7L989.1 1029.4L985.5 1031.7L986.5 1027.5L983.2 1024.7L987.5 1024.4zM994.7 1022.7L996.3 1026.6L1000.6 1027L997.3 1029.7L998.3 1033.9L994.7 1031.7L991 1033.9L992 1029.7L988.8 1027L993 1026.6zM1000.3 1024.9L1001.9 1028.8L1006.2 1029.2L1002.9 1031.9L1003.9 1036.1L1000.3 1033.9L996.6 1036.1L997.6 1031.9L994.4 1029.2L998.6 1028.8zM1006 1026.5L1007.7 1030.4L1011.9 1030.8L1008.7 1033.6L1009.7 1037.7L1006 1035.5L1002.4 1037.7L1003.4 1033.6L1000.1 1030.8L1004.4 1030.4zM1011.8 1028.1L1013.5 1032L1017.7 1032.4L1014.5 1035.2L1015.5 1039.3L1011.8 1037.1L1008.2 1039.3L1009.2 1035.2L1005.9 1032.4L1010.2 1032zM1017.6 1029.7L1019.2 1033.7L1023.5 1034L1020.3 1036.8L1021.2 1040.9L1017.6 1038.7L1014 1040.9L1014.9 1036.8L1011.7 1034L1016 1033.7zM1023.4 1031.3L1025 1035.3L1029.3 1035.6L1026 1038.4L1027 1042.6L1023.4 1040.3L1019.7 1042.6L1020.7 1038.4L1017.5 1035.6L1021.7 1035.3zM1029.2 1033L1030.8 1036.9L1035.1 1037.2L1031.8 1040L1032.8 1044.2L1029.2 1042L1025.5 1044.2L1026.5 1040L1023.3 1037.2L1027.5 1036.9zM1034.9 1034.6L1036.6 1038.5L1040.8 1038.9L1037.6 1041.6L1038.6 1045.8L1034.9 1043.6L1031.3 1045.8L1032.3 1041.6L1029 1038.9L1033.3 1038.5zM1040.7 1036.2L1042.4 1040.1L1046.6 1040.5L1043.4 1043.3L1044.4 1047.4L1040.7 1045.2L1037.1 1047.4L1038 1043.3L1034.8 1040.5L1039.1 1040.1zM1046.5 1037.8L1048.1 1041.8L1052.4 1042.1L1049.1 1044.9L1050.1 1049L1046.5 1046.8L1042.8 1049L1043.8 1044.9L1040.6 1042.1L1044.8 1041.8zM1052.3 1039.3L1053.9 1043.3L1058.2 1043.6L1054.9 1046.4L1055.9 1050.6L1052.3 1048.3L1048.6 1050.6L1049.6 1046.4L1046.4 1043.6L1050.6 1043.3zM1058.1 1040.7L1059.8 1044.7L1064 1045L1060.8 1047.8L1061.8 1052L1058.1 1049.7L1054.5 1052L1055.5 1047.8L1052.2 1045L1056.5 1044.7zM1064 1042.1L1065.6 1046.1L1069.9 1046.4L1066.6 1049.2L1067.6 1053.4L1064 1051.1L1060.3 1053.4L1061.3 1049.2L1058.1 1046.4L1062.3 1046.1zM1069.8 1043.5L1071.4 1047.5L1075.7 1047.8L1072.5 1050.6L1073.4 1054.8L1069.8 1052.5L1066.1 1054.8L1067.1 1050.6L1063.9 1047.8L1068.1 1047.5zM1075.6 1044.9L1077.3 1048.9L1081.5 1049.2L1078.3 1052L1079.3 1056.2L1075.6 1053.9L1072 1056.2L1073 1052L1069.7 1049.2L1074 1048.9zM1081.5 1046.4L1083.1 1050.3L1087.4 1050.6L1084.1 1053.4L1085.1 1057.6L1081.5 1055.4L1077.8 1057.6L1078.8 1053.4L1075.6 1050.6L1079.8 1050.3zM1087.3 1047.8L1088.9 1051.7L1093.2 1052L1090 1054.8L1090.9 1059L1087.3 1056.8L1083.6 1059L1084.6 1054.8L1081.4 1052L1085.6 1051.7zM1093.1 1049.2L1094.8 1053.1L1099 1053.4L1095.8 1056.2L1096.8 1060.4L1093.1 1058.2L1089.5 1060.4L1090.5 1056.2L1087.2 1053.4L1091.5 1053.1zM1099 1050.6L1100.6 1054.5L1104.9 1054.8L1101.6 1057.6L1102.6 1061.8L1099 1059.6L1095.3 1061.8L1096.3 1057.6L1093.1 1054.8L1097.3 1054.5zM1104.6 1052.5L1106.3 1056.4L1110.5 1056.8L1107.3 1059.6L1108.3 1063.7L1104.6 1061.5L1101 1063.7L1102 1059.6L1098.7 1056.8L1103 1056.4zM1110 1054.5L1111.6 1058.4L1115.9 1058.8L1112.7 1061.5L1113.6 1065.7L1110 1063.5L1106.4 1065.7L1107.3 1061.5L1104.1 1058.8L1108.4 1058.4z" fill="#000"/>
<path d="M776 965 L792 975 L824 984.6 L856 994 L888 1008 L900 1012 L950 1027 L1000 1044 L1050 1056 L1100 1065 L1110 1068.3" fill="none" stroke="#000" stroke-width="6.5" stroke-linejoin="round"/>
<path d="M776 958.8L777.6 962.7L781.9 963.1L778.7 965.9L779.6 970L776 967.8L772.4 970L773.3 965.9L770.1 963.1L774.4 962.7zM781.1 962L782.7 965.9L787 966.3L783.8 969L784.7 973.2L781.1 971L777.4 973.2L778.4 969L775.2 966.3L779.4 965.9zM786.2 965.2L787.8 969.1L792.1 969.4L788.8 972.2L789.8 976.4L786.2 974.2L782.5 976.4L783.5 972.2L780.3 969.4L784.5 969.1zM791.3 968.3L792.9 972.3L797.2 972.6L793.9 975.4L794.9 979.6L791.3 977.3L787.6 979.6L788.6 975.4L785.4 972.6L789.6 972.3zM796.9 970.3L798.6 974.2L802.8 974.6L799.6 977.3L800.6 981.5L796.9 979.3L793.3 981.5L794.3 977.3L791 974.6L795.3 974.2zM802.7 972L804.3 975.9L808.6 976.3L805.3 979.1L806.3 983.2L802.7 981L799 983.2L800 979.1L796.8 976.3L801 975.9zM808.4 973.7L810.1 977.7L814.3 978L811.1 980.8L812.1 984.9L808.4 982.7L804.8 984.9L805.7 980.8L802.5 978L806.8 977.7zM814.2 975.4L815.8 979.4L820.1 979.7L816.8 982.5L817.8 986.7L814.2 984.4L810.5 986.7L811.5 982.5L808.3 979.7L812.5 979.4zM819.9 977.2L821.5 981.1L825.8 981.5L822.6 984.2L823.5 988.4L819.9 986.2L816.3 988.4L817.2 984.2L814 981.5L818.3 981.1zM825.7 978.9L827.3 982.8L831.5 983.2L828.3 986L829.3 990.1L825.7 987.9L822 990.1L823 986L819.8 983.2L824 982.8zM831.4 980.6L833.1 984.5L837.3 984.9L834.1 987.6L835.1 991.8L831.4 989.6L827.8 991.8L828.7 987.6L825.5 984.9L829.8 984.5zM837.2 982.3L838.8 986.2L843.1 986.6L839.8 989.3L840.8 993.5L837.2 991.3L833.5 993.5L834.5 989.3L831.3 986.6L835.5 986.2zM842.9 984L844.6 987.9L848.8 988.2L845.6 991L846.6 995.2L842.9 993L839.3 995.2L840.3 991L837 988.2L841.3 987.9zM848.7 985.6L850.3 989.6L854.6 989.9L851.3 992.7L852.3 996.9L848.7 994.6L845 996.9L846 992.7L842.8 989.9L847 989.6zM854.4 987.3L856.1 991.3L860.3 991.6L857.1 994.4L858.1 998.6L854.4 996.3L850.8 998.6L851.8 994.4L848.5 991.6L852.8 991.3zM860 989.6L861.7 993.5L865.9 993.8L862.7 996.6L863.6 1000.8L860 998.6L856.4 1000.8L857.3 996.6L854.1 993.8L858.4 993.5zM865.5 992L867.1 995.9L871.4 996.2L868.2 999L869.1 1003.2L865.5 1001L861.9 1003.2L862.8 999L859.6 996.2L863.9 995.9zM871 994.4L872.6 998.3L876.9 998.6L873.7 1001.4L874.6 1005.6L871 1003.4L867.4 1005.6L868.3 1001.4L865.1 998.6L869.4 998.3zM876.5 996.8L878.1 1000.7L882.4 1001.1L879.2 1003.8L880.1 1008L876.5 1005.8L872.9 1008L873.8 1003.8L870.6 1001.1L874.8 1000.7zM882 999.2L883.6 1003.1L887.9 1003.5L884.7 1006.2L885.6 1010.4L882 1008.2L878.3 1010.4L879.3 1006.2L876.1 1003.5L880.3 1003.1zM887.5 1001.6L889.1 1005.5L893.4 1005.9L890.2 1008.6L891.1 1012.8L887.5 1010.6L883.8 1012.8L884.8 1008.6L881.6 1005.9L885.8 1005.5zM893.2 1003.5L894.8 1007.5L899.1 1007.8L895.8 1010.6L896.8 1014.7L893.2 1012.5L889.5 1014.7L890.5 1010.6L887.3 1007.8L891.5 1007.5zM898.9 1005.4L900.5 1009.4L904.8 1009.7L901.5 1012.5L902.5 1016.6L898.9 1014.4L895.2 1016.6L896.2 1012.5L893 1009.7L897.2 1009.4zM904.6 1007.2L906.2 1011.1L910.5 1011.5L907.3 1014.2L908.2 1018.4L904.6 1016.2L900.9 1018.4L901.9 1014.2L898.7 1011.5L902.9 1011.1zM910.3 1008.9L912 1012.8L916.2 1013.2L913 1016L914 1020.1L910.3 1017.9L906.7 1020.1L907.7 1016L904.4 1013.2L908.7 1012.8zM916.1 1010.6L917.7 1014.6L922 1014.9L918.7 1017.7L919.7 1021.8L916.1 1019.6L912.4 1021.8L913.4 1017.7L910.2 1014.9L914.4 1014.6zM921.8 1012.3L923.5 1016.3L927.7 1016.6L924.5 1019.4L925.5 1023.6L921.8 1021.3L918.2 1023.6L919.2 1019.4L915.9 1016.6L920.2 1016.3zM927.6 1014.1L929.2 1018L933.5 1018.4L930.2 1021.1L931.2 1025.3L927.6 1023.1L923.9 1025.3L924.9 1021.1L921.7 1018.4L925.9 1018zM933.3 1015.8L935 1019.7L939.2 1020.1L936 1022.9L937 1027L933.3 1024.8L929.7 1027L930.7 1022.9L927.4 1020.1L931.7 1019.7zM939.1 1017.5L940.7 1021.5L945 1021.8L941.7 1024.6L942.7 1028.7L939.1 1026.5L935.4 1028.7L936.4 1024.6L933.2 1021.8L937.4 1021.5zM944.8 1019.2L946.5 1023.2L950.7 1023.5L947.5 1026.3L948.5 1030.5L944.8 1028.2L941.2 1030.5L942.2 1026.3L938.9 1023.5L943.2 1023.2zM950.6 1021L952.2 1024.9L956.5 1025.3L953.2 1028.1L954.2 1032.2L950.6 1030L946.9 1032.2L947.9 1028.1L944.7 1025.3L948.9 1024.9zM956.2 1022.9L957.9 1026.9L962.1 1027.2L958.9 1030L959.9 1034.1L956.2 1031.9L952.6 1034.1L953.6 1030L950.3 1027.2L954.6 1026.9zM961.9 1024.9L963.6 1028.8L967.8 1029.1L964.6 1031.9L965.6 1036.1L961.9 1033.9L958.3 1036.1L959.3 1031.9L956 1029.1L960.3 1028.8zM967.6 1026.8L969.2 1030.7L973.5 1031.1L970.3 1033.9L971.2 1038L967.6 1035.8L964 1038L964.9 1033.9L961.7 1031.1L966 1030.7zM973.3 1028.7L974.9 1032.7L979.2 1033L975.9 1035.8L976.9 1039.9L973.3 1037.7L969.6 1039.9L970.6 1035.8L967.4 1033L971.6 1032.7zM979 1030.6L980.6 1034.6L984.9 1034.9L981.6 1037.7L982.6 1041.9L979 1039.6L975.3 1041.9L976.3 1037.7L973.1 1034.9L977.3 1034.6zM984.6 1032.6L986.3 1036.5L990.5 1036.9L987.3 1039.6L988.3 1043.8L984.6 1041.6L981 1043.8L982 1039.6L978.7 1036.9L983 1036.5zM990.3 1034.5L992 1038.4L996.2 1038.8L993 1041.6L994 1045.7L990.3 1043.5L986.7 1045.7L987.7 1041.6L984.4 1038.8L988.7 1038.4zM996 1036.4L997.7 1040.4L1001.9 1040.7L998.7 1043.5L999.6 1047.7L996 1045.4L992.4 1047.7L993.3 1043.5L990.1 1040.7L994.4 1040.4zM1001.7 1038.2L1003.4 1042.2L1007.6 1042.5L1004.4 1045.3L1005.4 1049.4L1001.7 1047.2L998.1 1049.4L999.1 1045.3L995.8 1042.5L1000.1 1042.2zM1007.6 1039.6L1009.2 1043.6L1013.5 1043.9L1010.2 1046.7L1011.2 1050.8L1007.6 1048.6L1003.9 1050.8L1004.9 1046.7L1001.7 1043.9L1005.9 1043.6zM1013.4 1041L1015 1045L1019.3 1045.3L1016.1 1048.1L1017 1052.2L1013.4 1050L1009.8 1052.2L1010.7 1048.1L1007.5 1045.3L1011.8 1045zM1019.2 1042.4L1020.9 1046.4L1025.1 1046.7L1021.9 1049.5L1022.9 1053.6L1019.2 1051.4L1015.6 1053.6L1016.6 1049.5L1013.3 1046.7L1017.6 1046.4zM1025.1 1043.8L1026.7 1047.8L1031 1048.1L1027.7 1050.9L1028.7 1055L1025.1 1052.8L1021.4 1055L1022.4 1050.9L1019.2 1048.1L1023.4 1047.8zM1030.9 1045.2L1032.5 1049.2L1036.8 1049.5L1033.6 1052.3L1034.5 1056.4L1030.9 1054.2L1027.3 1056.4L1028.2 1052.3L1025 1049.5L1029.3 1049.2zM1036.7 1046.6L1038.4 1050.6L1042.6 1050.9L1039.4 1053.7L1040.4 1057.8L1036.7 1055.6L1033.1 1057.8L1034.1 1053.7L1030.8 1050.9L1035.1 1050.6zM1042.6 1048L1044.2 1052L1048.5 1052.3L1045.2 1055.1L1046.2 1059.2L1042.6 1057L1038.9 1059.2L1039.9 1055.1L1036.7 1052.3L1040.9 1052zM1048.4 1049.4L1050.1 1053.4L1054.3 1053.7L1051.1 1056.5L1052.1 1060.6L1048.4 1058.4L1044.8 1060.6L1045.7 1056.5L1042.5 1053.7L1046.8 1053.4zM1054.3 1050.6L1055.9 1054.5L1060.2 1054.9L1057 1057.6L1057.9 1061.8L1054.3 1059.6L1050.6 1061.8L1051.6 1057.6L1048.4 1054.9L1052.6 1054.5zM1060.2 1051.6L1061.8 1055.6L1066.1 1055.9L1062.9 1058.7L1063.8 1062.9L1060.2 1060.6L1056.6 1062.9L1057.5 1058.7L1054.3 1055.9L1058.6 1055.6zM1066.1 1052.7L1067.7 1056.6L1072 1057L1068.8 1059.8L1069.7 1063.9L1066.1 1061.7L1062.5 1063.9L1063.4 1059.8L1060.2 1057L1064.5 1056.6zM1072 1053.8L1073.7 1057.7L1077.9 1058L1074.7 1060.8L1075.7 1065L1072 1062.8L1068.4 1065L1069.3 1060.8L1066.1 1058L1070.4 1057.7zM1077.9 1054.8L1079.6 1058.8L1083.8 1059.1L1080.6 1061.9L1081.6 1066L1077.9 1063.8L1074.3 1066L1075.2 1061.9L1072 1059.1L1076.3 1058.8zM1083.8 1055.9L1085.5 1059.8L1089.7 1060.2L1086.5 1063L1087.5 1067.1L1083.8 1064.9L1080.2 1067.1L1081.2 1063L1077.9 1060.2L1082.2 1059.8zM1089.7 1057L1091.4 1060.9L1095.6 1061.2L1092.4 1064L1093.4 1068.2L1089.7 1066L1086.1 1068.2L1087.1 1064L1083.8 1061.2L1088.1 1060.9zM1095.6 1058L1097.3 1061.9L1101.5 1062.3L1098.3 1065.1L1099.3 1069.2L1095.6 1067L1092 1069.2L1093 1065.1L1089.7 1062.3L1094 1061.9zM1101.5 1059.3L1103.1 1063.2L1107.4 1063.6L1104.1 1066.4L1105.1 1070.5L1101.5 1068.3L1097.8 1070.5L1098.8 1066.4L1095.6 1063.6L1099.8 1063.2zM1107.2 1061.2L1108.8 1065.1L1113.1 1065.5L1109.8 1068.3L1110.8 1072.4L1107.2 1070.2L1103.5 1072.4L1104.5 1068.3L1101.3 1065.5L1105.5 1065.1zM1110 1062.1L1111.6 1066.1L1115.9 1066.4L1112.7 1069.2L1113.6 1073.3L1110 1071.1L1106.4 1073.3L1107.3 1069.2L1104.1 1066.4L1108.4 1066.1z" fill="#000"/>
<path d="M457 292.1h13.2l-6.6 10.5zM456.8 299.6h13.2l-6.6 10.5zM456.7 307h13.2l-6.6 10.5zM456.5 314.5h13.2l-6.6 10.5zM456.3 322h13.2l-6.6 10.5zM456.1 329.5h13.2l-6.6 10.5zM456.5 337h13.2l-6.6 10.5zM456.8 344.5h13.2l-6.6 10.5zM457.2 352h13.2l-6.6 10.5zM457.5 359.5h13.2l-6.6 10.5zM457.9 367h13.2l-6.6 10.5zM458 369.4h13.2l-6.6 10.5z" fill="#0f0"/>
<path d="M468.2 297.7h13.2l-6.6 10.5zM468 305.2h13.2l-6.6 10.5zM467.8 312.7h13.2l-6.6 10.5zM467.6 320.1h13.2l-6.6 10.5zM467.4 327.6h13.2l-6.6 10.5zM467.6 335.1h13.2l-6.6 10.5zM467.9 342.6h13.2l-6.6 10.5zM468.3 350.1h13.2l-6.6 10.5zM468.6 357.6h13.2l-6.6 10.5zM469 365.1h13.2l-6.6 10.5zM469.2 369.4h13.2l-6.6 10.5z" fill="#0f0"/>
<path d="M485.1 295.8h13.2l-6.6 10.5zM491.3 300h13.2l-6.6 10.5zM497.5 304.1h13.2l-6.6 10.5zM504 307.9h13.2l-6.6 10.5zM511 310.6h13.2l-6.6 10.5zM517.9 313.4h13.2l-6.6 10.5zM524.7 316.6h13.2l-6.6 10.5zM531.4 319.9h13.2l-6.6 10.5zM538.5 322h13.2l-6.6 10.5zM546 322h13.2l-6.6 10.5zM553.5 322h13.2l-6.6 10.5zM561 322h13.2l-6.6 10.5zM568.5 322h13.2l-6.6 10.5zM575.9 321.6h13.2l-6.6 10.5zM583.4 320.6h13.2l-6.6 10.5zM590.5 321.6h13.2l-6.6 10.5zM597 325.3h13.2l-6.6 10.5zM603.6 328.9h13.2l-6.6 10.5zM610.3 332.2h13.2l-6.6 10.5zM617 335.6h13.2l-6.6 10.5zM623.5 339.2h13.2l-6.6 10.5zM629.9 343.1h13.2l-6.6 10.5zM636.4 347h13.2l-6.6 10.5zM643 350.5h13.2l-6.6 10.5zM649.7 353.8h13.2l-6.6 10.5zM656.4 357.2h13.2l-6.6 10.5zM663.3 360.1h13.2l-6.6 10.5zM670.2 363h13.2l-6.6 10.5zM677.2 365.9h13.2l-6.6 10.5zM679.4 366.8h13.2l-6.6 10.5z" fill="#0f0"/>
<path d="M464.5 318.2h13.2l-6.6 10.5zM471.8 320h13.2l-6.6 10.5zM479.1 321.9h13.2l-6.6 10.5zM479.5 322h13.2l-6.6 10.5z" fill="#0f0"/>
<path d="M753.4 398.8h13.2l-6.6 10.5zM758.2 404.6h13.2l-6.6 10.5zM763 410.3h13.2l-6.6 10.5zM768.3 415.6h13.2l-6.6 10.5zM774.2 419.8h13.2l-6.6 10.5zM781.6 421.3h13.2l-6.6 10.5zM788.9 422.7h13.2l-6.6 10.5zM796 425.2h13.2l-6.6 10.5zM803 428h13.2l-6.6 10.5zM809.8 431h13.2l-6.6 10.5zM814.8 436.6h13.2l-6.6 10.5zM819.8 442.2h13.2l-6.6 10.5zM824.9 447.5h13.2l-6.6 10.5zM832.1 449.6h13.2l-6.6 10.5zM839.1 452.1h13.2l-6.6 10.5zM845.7 455.8h13.2l-6.6 10.5zM852 459.8h13.2l-6.6 10.5zM857.6 464.8h13.2l-6.6 10.5zM863.2 469.7h13.2l-6.6 10.5zM869.7 473.3h13.2l-6.6 10.5zM876.7 475.9h13.2l-6.6 10.5zM883.3 479.4h13.2l-6.6 10.5zM889.3 483.9h13.2l-6.6 10.5zM895.3 488.4h13.2l-6.6 10.5zM901.8 492.1h13.2l-6.6 10.5zM908.4 495.7h13.2l-6.6 10.5zM915.2 498.7h13.2l-6.6 10.5zM922.4 500.9h13.2l-6.6 10.5zM929.6 503.1h13.2l-6.6 10.5zM935.8 507.1h13.2l-6.6 10.5zM941.8 511.6h13.2l-6.6 10.5zM948.2 515.3h13.2l-6.6 10.5zM955.4 517.4h13.2l-6.6 10.5zM962.7 519.2h13.2l-6.6 10.5zM970 520.6h13.2l-6.6 10.5zM977.4 522.1h13.2l-6.6 10.5zM984.3 524.8h13.2l-6.6 10.5zM991.3 527.6h13.2l-6.6 10.5zM998.3 530.2h13.2l-6.6 10.5zM1005.5 532.4h13.2l-6.6 10.5zM1012.7 534.5h13.2l-6.6 10.5zM1019.3 537.9h13.2l-6.6 10.5zM1025.7 541.9h13.2l-6.6 10.5zM1032.2 545.7h13.2l-6.6 10.5zM1038.9 549h13.2l-6.6 10.5zM1045.6 552.3h13.2l-6.6 10.5zM1052.6 554.9h13.2l-6.6 10.5zM1059.7 557.6h13.2l-6.6 10.5zM1066.9 559.4h13.2l-6.6 10.5zM1074.2 561.2h13.2l-6.6 10.5zM1081.2 563.8h13.2l-6.6 10.5zM1088.3 566.4h13.2l-6.6 10.5zM1095.5 568.6h13.2l-6.6 10.5zM1102.7 570.5h13.2l-6.6 10.5zM1103.4 570.7h13.2l-6.6 10.5z" fill="#0f0"/>
<path d="M753.4 458.6h13.2l-6.6 10.5zM757.1 465.1h13.2l-6.6 10.5zM760.8 471.6h13.2l-6.6 10.5zM766.6 476.5h13.2l-6.6 10.5zM772.4 481.2h13.2l-6.6 10.5zM779.1 484.5h13.2l-6.6 10.5zM785.8 487.9h13.2l-6.6 10.5zM792.9 490.2h13.2l-6.6 10.5zM800.1 492.3h13.2l-6.6 10.5zM805.1 497.9h13.2l-6.6 10.5zM810 503.6h13.2l-6.6 10.5zM815.7 508.1h13.2l-6.6 10.5zM822.7 510.8h13.2l-6.6 10.5zM829.6 513.7h13.2l-6.6 10.5zM835.9 517.7h13.2l-6.6 10.5zM842.3 521.7h13.2l-6.6 10.5zM849.6 523.1h13.2l-6.6 10.5zM856.9 524.4h13.2l-6.6 10.5zM863.4 528.2h13.2l-6.6 10.5zM870 531.7h13.2l-6.6 10.5zM877.3 533.5h13.2l-6.6 10.5zM884.5 535.4h13.2l-6.6 10.5zM890.9 539.4h13.2l-6.6 10.5zM897.2 543.4h13.2l-6.6 10.5zM903.7 547.2h13.2l-6.6 10.5zM910.2 550.9h13.2l-6.6 10.5zM917.4 552.8h13.2l-6.6 10.5zM924.8 553.8h13.2l-6.6 10.5zM930.9 558.1h13.2l-6.6 10.5zM936.9 562.6h13.2l-6.6 10.5zM942.9 567.1h13.2l-6.6 10.5zM948.9 571.6h13.2l-6.6 10.5zM954.9 576.1h13.2l-6.6 10.5zM962.1 578.1h13.2l-6.6 10.5zM969.4 579.9h13.2l-6.6 10.5zM976.5 582.2h13.2l-6.6 10.5zM983.6 584.6h13.2l-6.6 10.5zM990.4 587.7h13.2l-6.6 10.5zM996.9 591.4h13.2l-6.6 10.5zM1003.5 594.9h13.2l-6.6 10.5zM1010.3 598.3h13.2l-6.6 10.5zM1017 601.6h13.2l-6.6 10.5zM1023.7 605h13.2l-6.6 10.5zM1030.4 608.3h13.2l-6.6 10.5zM1037.1 611.7h13.2l-6.6 10.5zM1043.8 615h13.2l-6.6 10.5zM1050.5 618.4h13.2l-6.6 10.5zM1057.2 621.7h13.2l-6.6 10.5zM1063.8 625.3h13.2l-6.6 10.5zM1070.3 629h13.2l-6.6 10.5zM1071.1 629.4h13.2l-6.6 10.5z" fill="#0f0"/>
<path d="M753.4 555.8h13.2l-6.6 10.5zM760.1 559.1h13.2l-6.6 10.5zM766.8 562.5h13.2l-6.6 10.5zM773.5 566h13.2l-6.6 10.5zM779.9 569.8h13.2l-6.6 10.5zM786.3 573.7h13.2l-6.6 10.5zM792.8 577.5h13.2l-6.6 10.5zM799.2 581.4h13.2l-6.6 10.5zM805.6 585.3h13.2l-6.6 10.5zM812.2 588.9h13.2l-6.6 10.5zM818.9 592.3h13.2l-6.6 10.5zM825.6 595.6h13.2l-6.6 10.5zM832.1 599.3h13.2l-6.6 10.5zM838.5 603.1h13.2l-6.6 10.5zM845 607h13.2l-6.6 10.5zM851.4 610.9h13.2l-6.6 10.5zM857.8 614.7h13.2l-6.6 10.5zM864.3 618.6h13.2l-6.6 10.5zM870.9 622h13.2l-6.6 10.5zM877.6 625.4h13.2l-6.6 10.5zM884.2 628.7h13.2l-6.6 10.5z" fill="#0f0"/>
<path d="M753.4 570.7h13.2l-6.6 10.5zM759.8 574.6h13.2l-6.6 10.5zM766.3 578.5h13.2l-6.6 10.5zM772.7 582.4h13.2l-6.6 10.5zM778.8 586.7h13.2l-6.6 10.5zM785 591h13.2l-6.6 10.5zM791.1 595.2h13.2l-6.6 10.5zM797.5 599.1h13.2l-6.6 10.5zM804 603h13.2l-6.6 10.5zM810.4 606.8h13.2l-6.6 10.5zM816.8 610.7h13.2l-6.6 10.5zM823.3 614.5h13.2l-6.6 10.5zM829.7 618.4h13.2l-6.6 10.5zM836 622.4h13.2l-6.6 10.5zM842.4 626.4h13.2l-6.6 10.5zM843.1 626.8h13.2l-6.6 10.5z" fill="#0f0"/>
<path d="M846.8 633.2h13.2l-6.6 10.5zM854.3 634.2h13.2l-6.6 10.5zM861.7 635.2h13.2l-6.6 10.5zM869.1 636.2h13.2l-6.6 10.5zM876.6 637.3h13.2l-6.6 10.5zM883.9 638.8h13.2l-6.6 10.5zM891.3 640.3h13.2l-6.6 10.5zM898.3 642.6h13.2l-6.6 10.5zM905.3 645.4h13.2l-6.6 10.5zM912.3 648.2h13.2l-6.6 10.5zM919.4 650.6h13.2l-6.6 10.5zM926.5 652.9h13.2l-6.6 10.5zM933.6 655.3h13.2l-6.6 10.5zM940.7 657.8h13.2l-6.6 10.5zM947.4 661.1h13.2l-6.6 10.5zM954.1 664.5h13.2l-6.6 10.5zM960.9 667.7h13.2l-6.6 10.5zM967.9 670.4h13.2l-6.6 10.5zM974.8 673.2h13.2l-6.6 10.5zM981.8 676h13.2l-6.6 10.5zM988.8 678.8h13.2l-6.6 10.5zM995.7 681.6h13.2l-6.6 10.5zM1002.7 684.4h13.2l-6.6 10.5zM1009.9 686.4h13.2l-6.6 10.5zM1017.2 687.9h13.2l-6.6 10.5zM1024.6 689.3h13.2l-6.6 10.5zM1031.9 690.8h13.2l-6.6 10.5zM1039.2 692.8h13.2l-6.6 10.5zM1046.3 695h13.2l-6.6 10.5zM1053.6 697h13.2l-6.6 10.5zM1060.9 698.5h13.2l-6.6 10.5zM1068.3 699.9h13.2l-6.6 10.5zM1075.2 702.6h13.2l-6.6 10.5zM1081.9 705.9h13.2l-6.6 10.5zM1088.6 709.3h13.2l-6.6 10.5zM1095.2 712.9h13.2l-6.6 10.5zM1101.8 716.5h13.2l-6.6 10.5zM1103.4 717.3h13.2l-6.6 10.5z" fill="#0f0"/>
<path d="M996.3 691.2h13.2l-6.6 10.5zM1003 694.5h13.2l-6.6 10.5zM1009.7 697.9h13.2l-6.6 10.5zM1016.3 701.4h13.2l-6.6 10.5zM1022.5 705.7h13.2l-6.6 10.5zM1028.6 710h13.2l-6.6 10.5zM1034.9 714.2h13.2l-6.6 10.5zM1041.6 717.5h13.2l-6.6 10.5zM1048.3 720.9h13.2l-6.6 10.5zM1055.1 724h13.2l-6.6 10.5zM1062 726.8h13.2l-6.6 10.5zM1069 729.6h13.2l-6.6 10.5zM1076.1 731.9h13.2l-6.6 10.5zM1083.3 734.1h13.2l-6.6 10.5zM1090.5 736.3h13.2l-6.6 10.5zM1097.4 739.2h13.2l-6.6 10.5zM1103.4 741.6h13.2l-6.6 10.5z" fill="#0f0"/>
<path d="M768.3 629.5h13.2l-6.6 10.5zM774.6 633.7h13.2l-6.6 10.5zM780.8 637.8h13.2l-6.6 10.5zM787.1 642h13.2l-6.6 10.5zM793.3 646.2h13.2l-6.6 10.5zM799.4 650.5h13.2l-6.6 10.5zM805.6 654.8h13.2l-6.6 10.5zM811.8 658.9h13.2l-6.6 10.5zM818.2 662.8h13.2l-6.6 10.5zM824.7 666.7h13.2l-6.6 10.5zM831.1 670.5h13.2l-6.6 10.5zM837.5 674.4h13.2l-6.6 10.5zM844 678.2h13.2l-6.6 10.5zM850.2 682.3h13.2l-6.6 10.5zM856.4 686.6h13.2l-6.6 10.5zM862.5 690.9h13.2l-6.6 10.5zM869 694.8h13.2l-6.6 10.5zM875.7 698.1h13.2l-6.6 10.5zM882.4 701.5h13.2l-6.6 10.5zM888.9 705.2h13.2l-6.6 10.5zM895.3 709h13.2l-6.6 10.5zM901.7 712.9h13.2l-6.6 10.5zM907.9 717.1h13.2l-6.6 10.5zM914.1 721.4h13.2l-6.6 10.5zM920.2 725.7h13.2l-6.6 10.5zM927 728.8h13.2l-6.6 10.5zM934 731.6h13.2l-6.6 10.5zM940.9 734.4h13.2l-6.6 10.5zM947.9 737.2h13.2l-6.6 10.5zM954.9 740h13.2l-6.6 10.5zM961.9 742.5h13.2l-6.6 10.5zM969.1 744.7h13.2l-6.6 10.5zM976.3 746.8h13.2l-6.6 10.5zM983.5 749h13.2l-6.6 10.5zM990.7 751.1h13.2l-6.6 10.5zM997.7 753.5h13.2l-6.6 10.5zM1004.4 756.9h13.2l-6.6 10.5zM1011.2 760.2h13.2l-6.6 10.5zM1017.9 763.6h13.2l-6.6 10.5zM1024.6 767h13.2l-6.6 10.5zM1031.3 770.3h13.2l-6.6 10.5zM1036.8 775.2h13.2l-6.6 10.5zM1041.7 780.9h13.2l-6.6 10.5zM1047 783.1h13.2l-6.6 10.5zM1053.1 779h13.2l-6.6 10.5zM1060.6 779h13.2l-6.6 10.5zM1068.1 779h13.2l-6.6 10.5zM1075.4 780.3h13.2l-6.6 10.5zM1082.6 782.5h13.2l-6.6 10.5zM1089.8 784.6h13.2l-6.6 10.5zM1096 788.9h13.2l-6.6 10.5zM1102.2 793.1h13.2l-6.6 10.5zM1103.4 793.9h13.2l-6.6 10.5z" fill="#0f0"/>
<path d="M753.4 702.4h13.2l-6.6 10.5zM759.5 706.7h13.2l-6.6 10.5zM765.7 711h13.2l-6.6 10.5zM771.8 715.3h13.2l-6.6 10.5zM778 719.6h13.2l-6.6 10.5zM784.1 723.9h13.2l-6.6 10.5zM790.3 728.2h13.2l-6.6 10.5zM795.9 733.1h13.2l-6.6 10.5zM801.5 738.2h13.2l-6.6 10.5zM807 743.2h13.2l-6.6 10.5zM812.9 747.8h13.2l-6.6 10.5zM819.1 752.1h13.2l-6.6 10.5zM825.2 756.4h13.2l-6.6 10.5zM831.5 760.5h13.2l-6.6 10.5zM837.9 764.3h13.2l-6.6 10.5zM844.4 768.2h13.2l-6.6 10.5zM850.6 772.3h13.2l-6.6 10.5zM856.8 776.6h13.2l-6.6 10.5zM862.9 780.9h13.2l-6.6 10.5zM869.2 785h13.2l-6.6 10.5zM875.7 788.8h13.2l-6.6 10.5zM882.1 792.7h13.2l-6.6 10.5zM888.3 796.8h13.2l-6.6 10.5zM894.5 801.1h13.2l-6.6 10.5zM900.6 805.4h13.2l-6.6 10.5zM907.1 809.1h13.2l-6.6 10.5zM913.8 812.5h13.2l-6.6 10.5zM920.5 815.8h13.2l-6.6 10.5zM927.8 817.6h13.2l-6.6 10.5zM935.1 819.1h13.2l-6.6 10.5zM942.3 821.1h13.2l-6.6 10.5zM949 824.5h13.2l-6.6 10.5zM955.7 827.8h13.2l-6.6 10.5zM962.8 829.8h13.2l-6.6 10.5zM970.3 830.6h13.2l-6.6 10.5zM977.7 831.3h13.2l-6.6 10.5zM985.1 832.8h13.2l-6.6 10.5zM992.5 834.3h13.2l-6.6 10.5zM999.5 836.6h13.2l-6.6 10.5zM1006.2 840h13.2l-6.6 10.5zM1012.9 843.3h13.2l-6.6 10.5zM1020.2 844.4h13.2l-6.6 10.5zM1027.7 844.4h13.2l-6.6 10.5zM1034.6 845.6h13.2l-6.6 10.5zM1038.9 851.7h13.2l-6.6 10.5zM1043.4 857.6h13.2l-6.6 10.5zM1050.8 859h13.2l-6.6 10.5zM1058.1 860.5h13.2l-6.6 10.5zM1065.5 862h13.2l-6.6 10.5zM1072.8 863.4h13.2l-6.6 10.5zM1080.2 864.9h13.2l-6.6 10.5zM1087.5 866.7h13.2l-6.6 10.5zM1094.8 868.5h13.2l-6.6 10.5zM1102.1 870.2h13.2l-6.6 10.5zM1103.4 870.6h13.2l-6.6 10.5z" fill="#0f0"/>
<path d="M456.2 369.5h13.2l-6.6 10.5zM455.6 377h13.2l-6.6 10.5zM455 384.5h13.2l-6.6 10.5zM454.4 391.9h13.2l-6.6 10.5zM454 399.4h13.2l-6.6 10.5zM455.6 406.7h13.2l-6.6 10.5zM457.3 414h13.2l-6.6 10.5zM458.9 421.3h13.2l-6.6 10.5zM462.5 427.4h13.2l-6.6 10.5zM468.5 431.9h13.2l-6.6 10.5zM473.1 435.3h13.2l-6.6 10.5z" fill="#0f0"/>
<path d="M469.5 369.5h13.2l-6.6 10.5zM469 377h13.2l-6.6 10.5zM468.4 384.5h13.2l-6.6 10.5zM467.9 391.9h13.2l-6.6 10.5zM467.5 399.4h13.2l-6.6 10.5zM469.3 406.7h13.2l-6.6 10.5zM471.1 414h13.2l-6.6 10.5zM472.9 421.3h13.2l-6.6 10.5zM473.1 422.1h13.2l-6.6 10.5z" fill="#0f0"/>
<path d="M461.4 369.5h13.2l-6.6 10.5zM461.1 377h13.2l-6.6 10.5zM460.9 384.5h13.2l-6.6 10.5zM460.7 392h13.2l-6.6 10.5zM460.5 398.9h13.2l-6.6 10.5z" fill="#0f0"/>
<path d="M459.8 465.1h13.2l-6.6 10.5zM457.3 472.2h13.2l-6.6 10.5zM454.7 479.2h13.2l-6.6 10.5zM454.4 486.5h13.2l-6.6 10.5zM455.3 494h13.2l-6.6 10.5zM456.1 501.4h13.2l-6.6 10.5zM456.8 508.9h13.2l-6.6 10.5zM457.2 516.4h13.2l-6.6 10.5zM457.7 523.9h13.2l-6.6 10.5zM458.2 531.3h13.2l-6.6 10.5z" fill="#0f0"/>
<path d="M469.7 465.1h13.2l-6.6 10.5zM468.3 472.5h13.2l-6.6 10.5zM466.8 479.8h13.2l-6.6 10.5zM467.2 487.2h13.2l-6.6 10.5zM468.3 494.7h13.2l-6.6 10.5zM469.3 502.1h13.2l-6.6 10.5zM469.2 509.5h13.2l-6.6 10.5zM468.2 517h13.2l-6.6 10.5zM467.3 524.4h13.2l-6.6 10.5zM466.4 531.3h13.2l-6.6 10.5z" fill="#0f0"/>
<path d="M680.9 369.5h13.2l-6.6 10.5zM687.9 372.3h13.2l-6.6 10.5zM694.8 375.1h13.2l-6.6 10.5zM701.8 377.9h13.2l-6.6 10.5zM708.4 381.3h13.2l-6.6 10.5zM714.9 385.1h13.2l-6.6 10.5zM721.3 389h13.2l-6.6 10.5zM727.7 392.8h13.2l-6.6 10.5zM734.2 396.7h13.2l-6.6 10.5zM740.7 400.3h13.2l-6.6 10.5zM747.4 403.7h13.2l-6.6 10.5zM753.4 406.7h13.2l-6.6 10.5z" fill="#0f0"/>
<path d="M524.6 369.5h13.2l-6.6 10.5zM532 371h13.2l-6.6 10.5zM539.3 372.4h13.2l-6.6 10.5zM546.7 373.9h13.2l-6.6 10.5zM554 375.4h13.2l-6.6 10.5zM561.4 376.9h13.2l-6.6 10.5zM568.8 378.3h13.2l-6.6 10.5zM575.9 380.5h13.2l-6.6 10.5zM582.9 383.3h13.2l-6.6 10.5zM589.8 386h13.2l-6.6 10.5zM596.8 388.8h13.2l-6.6 10.5zM603.8 391.6h13.2l-6.6 10.5zM610.7 394.4h13.2l-6.6 10.5zM617.7 397.2h13.2l-6.6 10.5zM624.7 400h13.2l-6.6 10.5zM631.6 402.7h13.2l-6.6 10.5zM638.6 405.5h13.2l-6.6 10.5zM644.9 409.5h13.2l-6.6 10.5zM651.3 413.5h13.2l-6.6 10.5zM657.7 417.5h13.2l-6.6 10.5zM664 421.4h13.2l-6.6 10.5zM670.8 424.6h13.2l-6.6 10.5zM677.7 427.5h13.2l-6.6 10.5zM684.6 430.5h13.2l-6.6 10.5zM691.4 433.6h13.2l-6.6 10.5zM698.1 437h13.2l-6.6 10.5zM704.8 440.3h13.2l-6.6 10.5zM711.5 443.7h13.2l-6.6 10.5zM718.2 447h13.2l-6.6 10.5zM725.1 450.1h13.2l-6.6 10.5zM732.1 452.9h13.2l-6.6 10.5zM739 455.6h13.2l-6.6 10.5zM746 458.4h13.2l-6.6 10.5zM753 461.2h13.2l-6.6 10.5zM753.4 461.4h13.2l-6.6 10.5z" fill="#0f0"/>
<path d="M482.3 369.5h13.2l-6.6 10.5zM489.3 372.3h13.2l-6.6 10.5zM496.2 375.1h13.2l-6.6 10.5zM503.2 377.9h13.2l-6.6 10.5zM509.2 382.1h13.2l-6.6 10.5zM514.5 387.4h13.2l-6.6 10.5zM519.8 392.7h13.2l-6.6 10.5zM525.1 398h13.2l-6.6 10.5zM530.4 403.3h13.2l-6.6 10.5zM535.5 408.8h13.2l-6.6 10.5zM540.6 414.3h13.2l-6.6 10.5zM545.6 419.9h13.2l-6.6 10.5zM550.6 425.5h13.2l-6.6 10.5zM555.6 431.1h13.2l-6.6 10.5zM560.6 436.6h13.2l-6.6 10.5zM566.4 441.4h13.2l-6.6 10.5zM572.5 445.7h13.2l-6.6 10.5zM578.7 450h13.2l-6.6 10.5zM584.8 454.3h13.2l-6.6 10.5zM590.9 458.6h13.2l-6.6 10.5zM597.2 462.8h13.2l-6.6 10.5zM603.6 466.6h13.2l-6.6 10.5zM610 470.5h13.2l-6.6 10.5zM616.5 474.4h13.2l-6.6 10.5zM622.9 478.2h13.2l-6.6 10.5zM629.2 482.2h13.2l-6.6 10.5zM634.9 487.1h13.2l-6.6 10.5zM640.5 492.1h13.2l-6.6 10.5zM646.2 497h13.2l-6.6 10.5zM651.8 501.9h13.2l-6.6 10.5zM657.8 506.4h13.2l-6.6 10.5zM664.2 510.3h13.2l-6.6 10.5zM670.6 514.2h13.2l-6.6 10.5zM677.1 518h13.2l-6.6 10.5zM683.5 521.9h13.2l-6.6 10.5zM689.9 525.8h13.2l-6.6 10.5zM696.3 529.7h13.2l-6.6 10.5zM702.6 533.7h13.2l-6.6 10.5zM709 537.7h13.2l-6.6 10.5zM715.3 541.7h13.2l-6.6 10.5zM721.4 546.1h13.2l-6.6 10.5zM727.5 550.4h13.2l-6.6 10.5zM733.6 554.8h13.2l-6.6 10.5zM740 558.7h13.2l-6.6 10.5zM747 561.4h13.2l-6.6 10.5zM753.4 564h13.2l-6.6 10.5z" fill="#0f0"/>
<path d="M473.1 435.3h13.2l-6.6 10.5zM478.7 440.3h13.2l-6.6 10.5zM484.3 445.2h13.2l-6.6 10.5zM490 450.1h13.2l-6.6 10.5zM495.6 455.1h13.2l-6.6 10.5zM499.5 458.5h13.2l-6.6 10.5z" fill="#0f0"/>
<path d="M459.8 465.1h13.2l-6.6 10.5zM467.3 465.1h13.2l-6.6 10.5zM474.8 465.1h13.2l-6.6 10.5zM482.3 465.1h13.2l-6.6 10.5zM489.8 465.2h13.2l-6.6 10.5zM497.2 466.6h13.2l-6.6 10.5zM504.5 468.1h13.2l-6.6 10.5zM511.9 469.6h13.2l-6.6 10.5zM519.2 471h13.2l-6.6 10.5zM526.4 473.2h13.2l-6.6 10.5zM533.3 476h13.2l-6.6 10.5zM540.3 478.8h13.2l-6.6 10.5zM547.3 481.6h13.2l-6.6 10.5zM554.2 484.3h13.2l-6.6 10.5zM561.4 486.6h13.2l-6.6 10.5zM568.5 488.8h13.2l-6.6 10.5zM575.7 490.9h13.2l-6.6 10.5zM582.9 493.1h13.2l-6.6 10.5zM590.1 495.4h13.2l-6.6 10.5zM597 498.1h13.2l-6.6 10.5zM604 500.9h13.2l-6.6 10.5zM611 503.7h13.2l-6.6 10.5zM617.9 506.5h13.2l-6.6 10.5zM625 509h13.2l-6.6 10.5zM632.2 511.2h13.2l-6.6 10.5zM639.3 513.3h13.2l-6.6 10.5zM646.5 515.5h13.2l-6.6 10.5zM653.7 517.7h13.2l-6.6 10.5zM660.7 520.3h13.2l-6.6 10.5zM667.7 523.1h13.2l-6.6 10.5zM674.6 525.9h13.2l-6.6 10.5zM681.6 528.7h13.2l-6.6 10.5zM688.5 531.5h13.2l-6.6 10.5zM695 535.4h13.2l-6.6 10.5zM701.4 539.2h13.2l-6.6 10.5zM707.8 543.1h13.2l-6.6 10.5zM714.3 546.9h13.2l-6.6 10.5zM720.7 550.8h13.2l-6.6 10.5zM727.6 553.7h13.2l-6.6 10.5zM734.6 556.5h13.2l-6.6 10.5zM741.5 559.3h13.2l-6.6 10.5zM748.5 562h13.2l-6.6 10.5zM753.4 564h13.2l-6.6 10.5z" fill="#0f0"/>
<path d="M466.4 531.3h13.2l-6.6 10.5zM472.9 535.1h13.2l-6.6 10.5zM479.4 538.9h13.2l-6.6 10.5zM485.9 542.7h13.2l-6.6 10.5zM492.3 546.4h13.2l-6.6 10.5zM498.8 550.2h13.2l-6.6 10.5zM505.3 554h13.2l-6.6 10.5zM511.7 557.8h13.2l-6.6 10.5zM518.2 561.7h13.2l-6.6 10.5zM524.6 565.6h13.2l-6.6 10.5zM531 569.4h13.2l-6.6 10.5zM537.5 573.3h13.2l-6.6 10.5zM543.7 577.5h13.2l-6.6 10.5zM549.8 581.8h13.2l-6.6 10.5zM556 586.1h13.2l-6.6 10.5zM562.1 590.4h13.2l-6.6 10.5zM568.3 594.7h13.2l-6.6 10.5zM574.5 598.8h13.2l-6.6 10.5zM580.9 602.7h13.2l-6.6 10.5zM587.4 606.5h13.2l-6.6 10.5zM593.8 610.4h13.2l-6.6 10.5zM600.2 614.2h13.2l-6.6 10.5zM606.7 618h13.2l-6.6 10.5zM613.4 621.4h13.2l-6.6 10.5zM620.1 624.7h13.2l-6.6 10.5zM626.8 628.1h13.2l-6.6 10.5zM629.7 629.5h13.2l-6.6 10.5z" fill="#0f0"/>
<path d="M555.8 498.2h13.2l-6.6 10.5zM559.2 504.9h13.2l-6.6 10.5zM562.5 511.6h13.2l-6.6 10.5zM565.9 518.3h13.2l-6.6 10.5zM569.2 525h13.2l-6.6 10.5zM572.6 531.8h13.2l-6.6 10.5zM575.5 538.7h13.2l-6.6 10.5zM578.5 545.6h13.2l-6.6 10.5zM581.4 552.4h13.2l-6.6 10.5zM582.3 554.5h13.2l-6.6 10.5z" fill="#0f0"/>
<path d="M634 629.5h13.2l-6.6 10.5zM640.5 633.4h13.2l-6.6 10.5zM646.9 637.2h13.2l-6.6 10.5zM653.3 641.1h13.2l-6.6 10.5zM659.3 645.5h13.2l-6.6 10.5zM665.2 650.2h13.2l-6.6 10.5zM671.1 654.9h13.2l-6.6 10.5zM676.9 659.6h13.2l-6.6 10.5zM682.8 664.3h13.2l-6.6 10.5zM688.7 668.9h13.2l-6.6 10.5zM695.1 672.8h13.2l-6.6 10.5zM701.5 676.6h13.2l-6.6 10.5zM708 680.5h13.2l-6.6 10.5zM714.4 684.3h13.2l-6.6 10.5zM720.8 688.2h13.2l-6.6 10.5zM727.3 692.1h13.2l-6.6 10.5zM733.7 695.9h13.2l-6.6 10.5zM740.1 699.8h13.2l-6.6 10.5zM746.5 703.6h13.2l-6.6 10.5zM753 707.5h13.2l-6.6 10.5zM753.4 707.7h13.2l-6.6 10.5z" fill="#0f0"/>
<path d="M1103.4 569.4h13.2l-6.6 10.5zM1110.5 571.7h13.2l-6.6 10.5zM1117.2 575.1h13.2l-6.6 10.5zM1123.9 578.4h13.2l-6.6 10.5zM1130.6 581.8h13.2l-6.6 10.5zM1137.4 585.1h13.2l-6.6 10.5zM1144.1 588.5h13.2l-6.6 10.5zM1150.8 591.8h13.2l-6.6 10.5zM1157.5 595.2h13.2l-6.6 10.5zM1164.2 598.5h13.2l-6.6 10.5zM1170.9 601.9h13.2l-6.6 10.5zM1177.7 605.1h13.2l-6.6 10.5zM1184.6 607.9h13.2l-6.6 10.5zM1191.6 610.7h13.2l-6.6 10.5zM1198.6 613.4h13.2l-6.6 10.5zM1205.5 616.2h13.2l-6.6 10.5zM1212.6 618.7h13.2l-6.6 10.5zM1219.8 620.9h13.2l-6.6 10.5zM1227 623h13.2l-6.6 10.5zM1234.2 625.2h13.2l-6.6 10.5zM1241.3 627.3h13.2l-6.6 10.5zM1248.5 629.5h13.2l-6.6 10.5zM1255.7 631.6h13.2l-6.6 10.5zM1262.9 633.8h13.2l-6.6 10.5zM1270.1 635.9h13.2l-6.6 10.5zM1277.3 638.1h13.2l-6.6 10.5zM1284.4 640.2h13.2l-6.6 10.5zM1291.6 642.4h13.2l-6.6 10.5zM1293.4 642.9h13.2l-6.6 10.5z" fill="#0f0"/>
<path d="M1103.4 635.6h13.2l-6.6 10.5zM1110.6 637.7h13.2l-6.6 10.5zM1117.8 639.9h13.2l-6.6 10.5zM1125 642.1h13.2l-6.6 10.5zM1132.1 644.2h13.2l-6.6 10.5zM1139.3 646.4h13.2l-6.6 10.5zM1146.5 648.5h13.2l-6.6 10.5zM1153.7 650.7h13.2l-6.6 10.5zM1160.9 652.8h13.2l-6.6 10.5zM1168.1 655h13.2l-6.6 10.5zM1175.2 657.1h13.2l-6.6 10.5zM1182.2 659.9h13.2l-6.6 10.5zM1189.2 662.7h13.2l-6.6 10.5zM1196.1 665.4h13.2l-6.6 10.5zM1203.1 668.2h13.2l-6.6 10.5zM1210.1 671h13.2l-6.6 10.5zM1217 673.8h13.2l-6.6 10.5zM1224 676.6h13.2l-6.6 10.5zM1231 679.4h13.2l-6.6 10.5zM1237.9 682.2h13.2l-6.6 10.5zM1244.9 684.9h13.2l-6.6 10.5zM1251.9 687.7h13.2l-6.6 10.5zM1258.8 690.5h13.2l-6.6 10.5zM1265.8 693.3h13.2l-6.6 10.5zM1272.7 696.1h13.2l-6.6 10.5zM1279.7 698.9h13.2l-6.6 10.5zM1286.7 701.7h13.2l-6.6 10.5zM1293.4 704.3h13.2l-6.6 10.5z" fill="#0f0"/>
<path d="M1126.2 680.5h13.2l-6.6 10.5zM1133.5 682h13.2l-6.6 10.5zM1140.9 683.4h13.2l-6.6 10.5zM1148.2 684.9h13.2l-6.6 10.5zM1155.6 686.4h13.2l-6.6 10.5zM1162.8 688.2h13.2l-6.6 10.5zM1170 690.3h13.2l-6.6 10.5zM1177.2 692.5h13.2l-6.6 10.5zM1184.4 694.6h13.2l-6.6 10.5zM1191.6 696.8h13.2l-6.6 10.5zM1198.8 699h13.2l-6.6 10.5zM1205.9 701.1h13.2l-6.6 10.5zM1213.1 703.3h13.2l-6.6 10.5zM1220.3 705.4h13.2l-6.6 10.5zM1227.4 707.8h13.2l-6.6 10.5zM1234.4 710.5h13.2l-6.6 10.5zM1241.4 713.3h13.2l-6.6 10.5zM1248.3 716.1h13.2l-6.6 10.5zM1255.3 718.9h13.2l-6.6 10.5zM1262.4 721.3h13.2l-6.6 10.5zM1269.6 723.5h13.2l-6.6 10.5zM1276.7 725.7h13.2l-6.6 10.5zM1283.9 727.8h13.2l-6.6 10.5zM1291.1 730h13.2l-6.6 10.5zM1293.4 730.7h13.2l-6.6 10.5z" fill="#0f0"/>
<path d="M1103.4 711.1h13.2l-6.6 10.5zM1110.4 713.9h13.2l-6.6 10.5zM1117.3 716.7h13.2l-6.6 10.5zM1124.3 719.5h13.2l-6.6 10.5zM1131.3 722.2h13.2l-6.6 10.5zM1138.2 725h13.2l-6.6 10.5zM1145.2 727.8h13.2l-6.6 10.5zM1152.1 730.6h13.2l-6.6 10.5zM1159.1 733.4h13.2l-6.6 10.5zM1166.1 736.2h13.2l-6.6 10.5zM1173 739h13.2l-6.6 10.5zM1180 741.7h13.2l-6.6 10.5zM1187 744.5h13.2l-6.6 10.5zM1193.9 747.3h13.2l-6.6 10.5zM1200.9 750.1h13.2l-6.6 10.5zM1207.9 752.9h13.2l-6.6 10.5zM1214.8 755.7h13.2l-6.6 10.5zM1221.8 758.5h13.2l-6.6 10.5zM1228.7 761.2h13.2l-6.6 10.5zM1235.7 764h13.2l-6.6 10.5zM1242.7 766.8h13.2l-6.6 10.5zM1249.6 769.6h13.2l-6.6 10.5zM1256.6 772.4h13.2l-6.6 10.5zM1263.6 775.2h13.2l-6.6 10.5zM1270.5 778h13.2l-6.6 10.5zM1277.5 780.7h13.2l-6.6 10.5zM1284.5 783.5h13.2l-6.6 10.5zM1291.4 786.3h13.2l-6.6 10.5zM1293.4 787.1h13.2l-6.6 10.5z" fill="#0f0"/>
<path d="M1103.4 731h13.2l-6.6 10.5zM1110.4 733.7h13.2l-6.6 10.5zM1117.3 736.5h13.2l-6.6 10.5zM1124.3 739.3h13.2l-6.6 10.5zM1131.3 742.1h13.2l-6.6 10.5zM1138.2 744.9h13.2l-6.6 10.5zM1145.2 747.7h13.2l-6.6 10.5zM1152.1 750.5h13.2l-6.6 10.5zM1159.1 753.2h13.2l-6.6 10.5zM1166.1 756h13.2l-6.6 10.5zM1173 758.8h13.2l-6.6 10.5zM1180 761.6h13.2l-6.6 10.5zM1187 764.4h13.2l-6.6 10.5zM1193.9 767.2h13.2l-6.6 10.5zM1200.9 770h13.2l-6.6 10.5zM1207.9 772.7h13.2l-6.6 10.5zM1215 775h13.2l-6.6 10.5zM1222.2 777.2h13.2l-6.6 10.5zM1229.4 779.3h13.2l-6.6 10.5zM1236.6 781.5h13.2l-6.6 10.5zM1243.7 783.6h13.2l-6.6 10.5zM1250.9 785.8h13.2l-6.6 10.5zM1258.1 787.9h13.2l-6.6 10.5zM1265.3 790.1h13.2l-6.6 10.5zM1272.5 792.2h13.2l-6.6 10.5zM1275.1 793h13.2l-6.6 10.5z" fill="#0f0"/>
<path d="M1293.4 642.6h13.2l-6.6 10.5zM1300.1 646h13.2l-6.6 10.5zM1306.8 649.3h13.2l-6.6 10.5zM1313.5 652.7h13.2l-6.6 10.5zM1320 656.4h13.2l-6.6 10.5zM1326.4 660.3h13.2l-6.6 10.5zM1332.9 664.1h13.2l-6.6 10.5zM1339.6 667.5h13.2l-6.6 10.5zM1346.5 670.3h13.2l-6.6 10.5zM1353.5 673h13.2l-6.6 10.5zM1360.6 675.3h13.2l-6.6 10.5zM1368 676.7h13.2l-6.6 10.5zM1375.3 678.2h13.2l-6.6 10.5zM1382.7 678.1h13.2l-6.6 10.5zM1390 677.1h13.2l-6.6 10.5zM1396.4 680.9h13.2l-6.6 10.5zM1403.1 684.3h13.2l-6.6 10.5zM1410 687.1h13.2l-6.6 10.5zM1417 689.9h13.2l-6.6 10.5zM1423.9 692.7h13.2l-6.6 10.5zM1430.9 695.5h13.2l-6.6 10.5zM1437.9 698.3h13.2l-6.6 10.5zM1445 700.5h13.2l-6.6 10.5zM1452.4 701.2h13.2l-6.6 10.5zM1459.9 702h13.2l-6.6 10.5zM1466.9 704h13.2l-6.6 10.5zM1473.4 707.9h13.2l-6.6 10.5zM1480.5 709.9h13.2l-6.6 10.5zM1487.8 711.4h13.2l-6.6 10.5zM1495.2 712.9h13.2l-6.6 10.5zM1502.6 713.7h13.2l-6.6 10.5zM1510.1 714.5h13.2l-6.6 10.5zM1517.6 715.2h13.2l-6.6 10.5zM1524.8 717.4h13.2l-6.6 10.5zM1531.9 719.5h13.2l-6.6 10.5zM1539.1 721.6h13.2l-6.6 10.5zM1546.6 722.4h13.2l-6.6 10.5zM1554.1 723.1h13.2l-6.6 10.5zM1561.4 724.2h13.2l-6.6 10.5zM1568.4 727h13.2l-6.6 10.5zM1575.4 729.8h13.2l-6.6 10.5zM1582.4 732.5h13.2l-6.6 10.5zM1589.5 734.6h13.2l-6.6 10.5zM1596.7 736.8h13.2l-6.6 10.5zM1603.9 738.9h13.2l-6.6 10.5zM1611.3 740.3h13.2l-6.6 10.5zM1618.6 741.8h13.2l-6.6 10.5zM1625.4 744.3h13.2l-6.6 10.5zM1629.9 750.3h13.2l-6.6 10.5zM1630.1 757.4h13.2l-6.6 10.5zM1629.2 764.8h13.2l-6.6 10.5zM1628.7 768.6h13.2l-6.6 10.5z" fill="#0f0"/>
<path d="M1293.4 696h13.2l-6.6 10.5zM1300.1 699.3h13.2l-6.6 10.5zM1306.8 702.7h13.2l-6.6 10.5zM1313.5 706.1h13.2l-6.6 10.5zM1320.4 708.9h13.2l-6.6 10.5zM1327.4 711.7h13.2l-6.6 10.5zM1334.4 714.5h13.2l-6.6 10.5zM1341.5 716.8h13.2l-6.6 10.5zM1348.7 719h13.2l-6.6 10.5zM1355.9 721.1h13.2l-6.6 10.5zM1363 723.3h13.2l-6.6 10.5zM1370.2 725.4h13.2l-6.6 10.5zM1377.4 727.6h13.2l-6.6 10.5zM1384.6 729.8h13.2l-6.6 10.5zM1391.8 731.9h13.2l-6.6 10.5zM1399 734.1h13.2l-6.6 10.5zM1406.4 735.1h13.2l-6.6 10.5zM1413.8 735.8h13.2l-6.6 10.5zM1421.3 736.5h13.2l-6.6 10.5zM1428.5 738.7h13.2l-6.6 10.5zM1435.7 740.8h13.2l-6.6 10.5zM1442.9 743h13.2l-6.6 10.5zM1450.2 744.4h13.2l-6.6 10.5zM1457.6 745.9h13.2l-6.6 10.5zM1464.9 747.3h13.2l-6.6 10.5zM1472.4 748.1h13.2l-6.6 10.5zM1479.9 748.8h13.2l-6.6 10.5zM1487.3 749.4h13.2l-6.6 10.5zM1494.8 749.4h13.2l-6.6 10.5zM1502.3 749.4h13.2l-6.6 10.5zM1509.8 749.4h13.2l-6.6 10.5zM1517.3 749.4h13.2l-6.6 10.5zM1524.8 749.4h13.2l-6.6 10.5zM1532.3 749.8h13.2l-6.6 10.5zM1539.8 750.5h13.2l-6.6 10.5zM1547.2 751.3h13.2l-6.6 10.5zM1554.7 752h13.2l-6.6 10.5zM1562.2 752.8h13.2l-6.6 10.5zM1569.6 753.5h13.2l-6.6 10.5zM1577.1 754.3h13.2l-6.6 10.5zM1584.6 755h13.2l-6.6 10.5zM1592 755.8h13.2l-6.6 10.5zM1599.4 757.2h13.2l-6.6 10.5zM1606.7 758.7h13.2l-6.6 10.5zM1614.1 760h13.2l-6.6 10.5zM1621.5 759.1h13.2l-6.6 10.5zM1629 758.2h13.2l-6.6 10.5zM1630.8 757.9h13.2l-6.6 10.5z" fill="#0f0"/>
<path d="M1293.4 728h13.2l-6.6 10.5zM1300.6 730.2h13.2l-6.6 10.5zM1307.8 732.3h13.2l-6.6 10.5zM1315 734.5h13.2l-6.6 10.5zM1322.4 735.2h13.2l-6.6 10.5zM1329.9 735.9h13.2l-6.6 10.5zM1337.3 736.7h13.2l-6.6 10.5zM1344.8 737.4h13.2l-6.6 10.5zM1352.3 738.2h13.2l-6.6 10.5zM1359.7 739.2h13.2l-6.6 10.5zM1367.1 740.6h13.2l-6.6 10.5zM1374.4 742.1h13.2l-6.6 10.5zM1381.8 743.6h13.2l-6.6 10.5zM1389.1 745h13.2l-6.6 10.5zM1396.5 746.5h13.2l-6.6 10.5zM1403.8 748h13.2l-6.6 10.5zM1411.2 749.4h13.2l-6.6 10.5zM1418.5 750.9h13.2l-6.6 10.5zM1425.8 752.8h13.2l-6.6 10.5zM1433 754.9h13.2l-6.6 10.5zM1440.2 757.1h13.2l-6.6 10.5zM1447.3 759.3h13.2l-6.6 10.5zM1454.5 761.4h13.2l-6.6 10.5zM1461.7 763.6h13.2l-6.6 10.5zM1468.9 765.7h13.2l-6.6 10.5zM1476.1 767.9h13.2l-6.6 10.5zM1483.3 770h13.2l-6.6 10.5zM1490.6 771.2h13.2l-6.6 10.5zM1498.1 772h13.2l-6.6 10.5zM1505.6 772.7h13.2l-6.6 10.5zM1512.9 774.1h13.2l-6.6 10.5zM1520.3 775.5h13.2l-6.6 10.5zM1527.6 777h13.2l-6.6 10.5zM1535 778.5h13.2l-6.6 10.5zM1542.3 780h13.2l-6.6 10.5zM1549.7 781.4h13.2l-6.6 10.5zM1557.1 782.9h13.2l-6.6 10.5zM1564.4 784.4h13.2l-6.6 10.5zM1571.7 785.9h13.2l-6.6 10.5zM1578.9 788.1h13.2l-6.6 10.5zM1586.1 790.2h13.2l-6.6 10.5zM1593.3 792.3h13.2l-6.6 10.5zM1600.7 793.8h13.2l-6.6 10.5zM1608 795.2h13.2l-6.6 10.5zM1615.3 797h13.2l-6.6 10.5zM1622.3 799.6h13.2l-6.6 10.5zM1629.4 802.2h13.2l-6.6 10.5zM1630.8 802.8h13.2l-6.6 10.5z" fill="#0f0"/>
<path d="M1293.4 768.6h13.2l-6.6 10.5zM1300.9 769.3h13.2l-6.6 10.5zM1308.3 770.1h13.2l-6.6 10.5zM1315.8 770.8h13.2l-6.6 10.5zM1323.3 771.6h13.2l-6.6 10.5zM1330.7 772.3h13.2l-6.6 10.5zM1338.1 773.3h13.2l-6.6 10.5zM1345.5 774.8h13.2l-6.6 10.5zM1352.9 776.2h13.2l-6.6 10.5zM1360.2 777.7h13.2l-6.6 10.5zM1367.6 779.2h13.2l-6.6 10.5zM1374.9 780.6h13.2l-6.6 10.5zM1382.3 781.8h13.2l-6.6 10.5zM1389.8 782.5h13.2l-6.6 10.5zM1397.2 783.3h13.2l-6.6 10.5zM1404.7 784h13.2l-6.6 10.5zM1412.2 784.8h13.2l-6.6 10.5zM1419.6 785.5h13.2l-6.6 10.5zM1427.1 786.2h13.2l-6.6 10.5zM1434.6 787h13.2l-6.6 10.5zM1442 787.7h13.2l-6.6 10.5zM1449.5 788.5h13.2l-6.6 10.5zM1457 789.2h13.2l-6.6 10.5zM1464.4 790h13.2l-6.6 10.5zM1471.8 791.5h13.2l-6.6 10.5zM1479.1 792.9h13.2l-6.6 10.5zM1486.5 794.3h13.2l-6.6 10.5zM1494 795.1h13.2l-6.6 10.5zM1501.4 795.8h13.2l-6.6 10.5zM1508.8 796.9h13.2l-6.6 10.5zM1516 799.1h13.2l-6.6 10.5zM1523.2 801.2h13.2l-6.6 10.5zM1530.4 803.2h13.2l-6.6 10.5zM1537.8 804.7h13.2l-6.6 10.5zM1545.1 806.1h13.2l-6.6 10.5zM1552.5 807.3h13.2l-6.6 10.5zM1560 808.1h13.2l-6.6 10.5zM1567.4 808.8h13.2l-6.6 10.5zM1574.9 808.8h13.2l-6.6 10.5zM1582.4 808h13.2l-6.6 10.5zM1589.8 807.3h13.2l-6.6 10.5zM1597.3 807h13.2l-6.6 10.5zM1604.8 807h13.2l-6.6 10.5zM1612.3 807h13.2l-6.6 10.5zM1619.8 807.8h13.2l-6.6 10.5zM1627.2 808.7h13.2l-6.6 10.5zM1630.8 809.2h13.2l-6.6 10.5z" fill="#0f0"/>
<path d="M1293.4 798.5h13.2l-6.6 10.5zM1300.6 800.7h13.2l-6.6 10.5zM1307.8 802.8h13.2l-6.6 10.5zM1315 805h13.2l-6.6 10.5zM1322.1 807.1h13.2l-6.6 10.5zM1329.3 809.3h13.2l-6.6 10.5zM1336.5 811.4h13.2l-6.6 10.5zM1343.7 813.6h13.2l-6.6 10.5zM1350.9 815.7h13.2l-6.6 10.5zM1358.1 817.9h13.2l-6.6 10.5zM1365.2 820.1h13.2l-6.6 10.5zM1372.4 822.2h13.2l-6.6 10.5zM1379.6 824.4h13.2l-6.6 10.5zM1386.8 826.5h13.2l-6.6 10.5zM1394 828.7h13.2l-6.6 10.5zM1401.2 830.7h13.2l-6.6 10.5zM1408.5 832.2h13.2l-6.6 10.5zM1415.9 833.7h13.2l-6.6 10.5zM1423.2 835.3h13.2l-6.6 10.5zM1430.4 837.5h13.2l-6.6 10.5zM1437.6 839.6h13.2l-6.6 10.5zM1444.8 841.8h13.2l-6.6 10.5zM1451.9 843.9h13.2l-6.6 10.5zM1459.1 846.1h13.2l-6.6 10.5zM1466.3 848.2h13.2l-6.6 10.5zM1473.5 850.4h13.2l-6.6 10.5zM1480.7 852.5h13.2l-6.6 10.5zM1487.9 854.7h13.2l-6.6 10.5zM1495 856.9h13.2l-6.6 10.5zM1502.2 859h13.2l-6.6 10.5zM1509.4 861.1h13.2l-6.6 10.5zM1516.6 863.1h13.2l-6.6 10.5zM1523.9 865.2h13.2l-6.6 10.5zM1528.3 866.4h13.2l-6.6 10.5z" fill="#0f0"/>
<path d="M1628.7 743h13.2l-6.6 10.5zM1628.7 750.5h13.2l-6.6 10.5zM1628.7 758h13.2l-6.6 10.5zM1628.7 765.5h13.2l-6.6 10.5zM1628.7 770.7h13.2l-6.6 10.5z" fill="#0f0"/>
<path d="M1628.7 794.2h13.2l-6.6 10.5zM1628.7 801.7h13.2l-6.6 10.5zM1628.7 809.2h13.2l-6.6 10.5zM1628.7 816.7h13.2l-6.6 10.5zM1628.7 817.7h13.2l-6.6 10.5z" fill="#0f0"/>
<path d="M1600.8 866.5h13.2l-6.6 10.5zM1607.7 869.4h13.2l-6.6 10.5zM1614.4 872.8h13.2l-6.6 10.5zM1621.1 876.1h13.2l-6.6 10.5zM1627.8 879.5h13.2l-6.6 10.5zM1632.6 881.9h13.2l-6.6 10.5z" fill="#0f0"/>
<path d="M1103.4 796.6h13.2l-6.6 10.5zM1110.3 799.5h13.2l-6.6 10.5zM1117 802.8h13.2l-6.6 10.5zM1123.8 806.2h13.2l-6.6 10.5zM1130.5 809.5h13.2l-6.6 10.5zM1137.2 812.9h13.2l-6.6 10.5zM1143.9 816.2h13.2l-6.6 10.5zM1150.9 818.9h13.2l-6.6 10.5zM1157.8 821.7h13.2l-6.6 10.5zM1164.8 824.5h13.2l-6.6 10.5zM1171.8 827.3h13.2l-6.6 10.5zM1178.8 829.8h13.2l-6.6 10.5zM1186 832h13.2l-6.6 10.5zM1193.2 834.1h13.2l-6.6 10.5zM1200.4 836.3h13.2l-6.6 10.5zM1207.6 838.4h13.2l-6.6 10.5zM1214.8 840.6h13.2l-6.6 10.5zM1221.9 842.7h13.2l-6.6 10.5zM1229.1 844.9h13.2l-6.6 10.5zM1236.3 847.1h13.2l-6.6 10.5zM1243.5 849.1h13.2l-6.6 10.5zM1250.9 850.5h13.2l-6.6 10.5zM1258.2 852h13.2l-6.6 10.5zM1265.6 853.5h13.2l-6.6 10.5zM1272.9 855h13.2l-6.6 10.5zM1280.3 856.4h13.2l-6.6 10.5zM1287.6 857.9h13.2l-6.6 10.5zM1293.4 859h13.2l-6.6 10.5z" fill="#0f0"/>
<path d="M1353.1 866.5h13.2l-6.6 10.5zM1360.6 867.2h13.2l-6.6 10.5zM1368 868h13.2l-6.6 10.5zM1375.5 868.8h13.2l-6.6 10.5zM1382.8 870.3h13.2l-6.6 10.5zM1390.2 871.8h13.2l-6.6 10.5zM1397.6 873.3h13.2l-6.6 10.5zM1404.9 874.7h13.2l-6.6 10.5zM1412.3 876.2h13.2l-6.6 10.5zM1419.6 877.7h13.2l-6.6 10.5zM1427 879.1h13.2l-6.6 10.5zM1434.3 880.6h13.2l-6.6 10.5zM1441.7 882h13.2l-6.6 10.5zM1449.2 882.7h13.2l-6.6 10.5zM1456.6 883.5h13.2l-6.6 10.5zM1464.1 884.2h13.2l-6.6 10.5zM1471.5 885h13.2l-6.6 10.5zM1479 885.7h13.2l-6.6 10.5zM1486.5 886.5h13.2l-6.6 10.5zM1493.9 887.2h13.2l-6.6 10.5zM1501.4 887.9h13.2l-6.6 10.5zM1508.9 888.7h13.2l-6.6 10.5zM1516.3 889.4h13.2l-6.6 10.5zM1523.8 890.2h13.2l-6.6 10.5zM1531.2 890.9h13.2l-6.6 10.5zM1538.7 891.7h13.2l-6.6 10.5zM1546.2 892.4h13.2l-6.6 10.5zM1553.6 893.2h13.2l-6.6 10.5zM1561.1 893.9h13.2l-6.6 10.5zM1568.6 894.7h13.2l-6.6 10.5zM1576 895.1h13.2l-6.6 10.5zM1583.5 895.1h13.2l-6.6 10.5zM1591 895.1h13.2l-6.6 10.5zM1598.5 895.1h13.2l-6.6 10.5zM1606 895.1h13.2l-6.6 10.5zM1613.5 895.1h13.2l-6.6 10.5zM1621 895.1h13.2l-6.6 10.5zM1628.5 895.1h13.2l-6.6 10.5zM1632.6 895.1h13.2l-6.6 10.5z" fill="#0f0"/>
<path d="M1103.4 876.1h13.2l-6.6 10.5zM1110.4 878.9h13.2l-6.6 10.5zM1117.3 881.7h13.2l-6.6 10.5zM1124.3 884.4h13.2l-6.6 10.5zM1131.3 887.2h13.2l-6.6 10.5zM1138.2 890h13.2l-6.6 10.5zM1145.3 892.3h13.2l-6.6 10.5zM1152.7 893.8h13.2l-6.6 10.5zM1160 895.3h13.2l-6.6 10.5zM1167.4 896.7h13.2l-6.6 10.5zM1174.7 898.2h13.2l-6.6 10.5zM1181.9 900.3h13.2l-6.6 10.5zM1189.1 902.4h13.2l-6.6 10.5zM1196.3 904.6h13.2l-6.6 10.5zM1203.5 906.7h13.2l-6.6 10.5zM1210.7 908.9h13.2l-6.6 10.5zM1217.9 911h13.2l-6.6 10.5zM1225 913.2h13.2l-6.6 10.5zM1232.2 915.3h13.2l-6.6 10.5zM1239.4 917.5h13.2l-6.6 10.5zM1246.5 920.1h13.2l-6.6 10.5zM1253.4 922.8h13.2l-6.6 10.5zM1260.4 925.6h13.2l-6.6 10.5zM1267.3 928.4h13.2l-6.6 10.5zM1274.3 931.2h13.2l-6.6 10.5zM1281.3 934h13.2l-6.6 10.5zM1288.2 936.8h13.2l-6.6 10.5zM1293.4 938.8h13.2l-6.6 10.5z" fill="#0f0"/>
<path d="M1293.4 938.8h13.2l-6.6 10.5zM1300.4 941.6h13.2l-6.6 10.5zM1307.3 944.4h13.2l-6.6 10.5zM1314.5 946.6h13.2l-6.6 10.5zM1321.7 948.8h13.2l-6.6 10.5zM1328.9 951h13.2l-6.6 10.5zM1336 953.1h13.2l-6.6 10.5zM1343.3 955.1h13.2l-6.6 10.5zM1350.6 956.6h13.2l-6.6 10.5zM1358 958h13.2l-6.6 10.5zM1365.3 959.5h13.2l-6.6 10.5zM1372.7 961h13.2l-6.6 10.5zM1379.9 963h13.2l-6.6 10.5zM1387.1 965.1h13.2l-6.6 10.5zM1394.3 967.3h13.2l-6.6 10.5zM1401.5 969.4h13.2l-6.6 10.5zM1408.7 971.5h13.2l-6.6 10.5zM1416 972.9h13.2l-6.6 10.5zM1423.4 974.4h13.2l-6.6 10.5zM1430.7 975.9h13.2l-6.6 10.5zM1438.1 977.4h13.2l-6.6 10.5zM1445.4 978.8h13.2l-6.6 10.5zM1452.8 980.3h13.2l-6.6 10.5zM1460.1 981.8h13.2l-6.6 10.5zM1467.5 983.2h13.2l-6.6 10.5zM1474.9 984.7h13.2l-6.6 10.5zM1482.2 986.2h13.2l-6.6 10.5zM1489.6 987.7h13.2l-6.6 10.5zM1496.9 989.1h13.2l-6.6 10.5zM1504.3 990.6h13.2l-6.6 10.5zM1511.7 991.6h13.2l-6.6 10.5zM1519.2 992.3h13.2l-6.6 10.5zM1526.6 993.1h13.2l-6.6 10.5zM1534.1 993.8h13.2l-6.6 10.5zM1541.5 994.6h13.2l-6.6 10.5zM1549 995.3h13.2l-6.6 10.5zM1556.5 996.1h13.2l-6.6 10.5zM1563.9 996.8h13.2l-6.6 10.5zM1571.4 997.6h13.2l-6.6 10.5zM1578.9 997.7h13.2l-6.6 10.5zM1586.4 997.7h13.2l-6.6 10.5zM1593.9 997.7h13.2l-6.6 10.5zM1601.4 997.7h13.2l-6.6 10.5zM1608.9 997.7h13.2l-6.6 10.5zM1616.4 997.7h13.2l-6.6 10.5zM1623.9 997.7h13.2l-6.6 10.5zM1631.4 997.7h13.2l-6.6 10.5zM1632.6 997.7h13.2l-6.6 10.5z" fill="#0f0"/>
<path d="M1126.2 967.9h13.2l-6.6 10.5zM1133.6 968.7h13.2l-6.6 10.5zM1141.1 969.4h13.2l-6.6 10.5zM1148.5 970.2h13.2l-6.6 10.5zM1156 970.9h13.2l-6.6 10.5zM1163.4 972.1h13.2l-6.6 10.5zM1170.8 973.5h13.2l-6.6 10.5zM1178.1 975h13.2l-6.6 10.5zM1185.5 976.5h13.2l-6.6 10.5zM1192.8 978h13.2l-6.6 10.5zM1200 980.2h13.2l-6.6 10.5zM1207.2 982.3h13.2l-6.6 10.5zM1214.4 984.5h13.2l-6.6 10.5zM1221.5 986.6h13.2l-6.6 10.5zM1228.8 988.5h13.2l-6.6 10.5zM1236.2 989.9h13.2l-6.6 10.5zM1243.5 991.4h13.2l-6.6 10.5zM1250.9 992.9h13.2l-6.6 10.5zM1258.2 994.4h13.2l-6.6 10.5zM1265.6 995.8h13.2l-6.6 10.5zM1272.9 997.3h13.2l-6.6 10.5zM1280.3 998.8h13.2l-6.6 10.5zM1287.6 1000.2h13.2l-6.6 10.5zM1293.4 1001.2h13.2l-6.6 10.5z" fill="#0f0"/>
<path d="M1293.4 1001.2h13.2l-6.6 10.5zM1300.9 1002h13.2l-6.6 10.5zM1308.3 1002.7h13.2l-6.6 10.5zM1315.8 1003.5h13.2l-6.6 10.5zM1323.3 1004.2h13.2l-6.6 10.5zM1330.7 1004.9h13.2l-6.6 10.5zM1338.2 1005.7h13.2l-6.6 10.5zM1345.6 1006.4h13.2l-6.6 10.5zM1353.1 1007.2h13.2l-6.6 10.5zM1360.6 1007.7h13.2l-6.6 10.5zM1368.1 1007.7h13.2l-6.6 10.5zM1375.6 1007.7h13.2l-6.6 10.5zM1383.1 1007.7h13.2l-6.6 10.5zM1390.6 1007.7h13.2l-6.6 10.5zM1398.1 1007.7h13.2l-6.6 10.5zM1405.6 1007.7h13.2l-6.6 10.5zM1413.1 1007.7h13.2l-6.6 10.5zM1420.6 1007.7h13.2l-6.6 10.5zM1428.1 1007.7h13.2l-6.6 10.5zM1435.6 1007.7h13.2l-6.6 10.5zM1443.1 1007.7h13.2l-6.6 10.5zM1450.6 1007.7h13.2l-6.6 10.5zM1458.1 1007.7h13.2l-6.6 10.5zM1465.6 1007.7h13.2l-6.6 10.5zM1473.1 1007.7h13.2l-6.6 10.5zM1480.6 1007.7h13.2l-6.6 10.5zM1488.1 1007.7h13.2l-6.6 10.5zM1495.6 1007.7h13.2l-6.6 10.5zM1503.1 1007.7h13.2l-6.6 10.5zM1510.6 1007.7h13.2l-6.6 10.5zM1518.1 1007.7h13.2l-6.6 10.5zM1525.6 1007.4h13.2l-6.6 10.5zM1533 1006.7h13.2l-6.6 10.5zM1540.5 1005.9h13.2l-6.6 10.5zM1548 1005.2h13.2l-6.6 10.5zM1555.4 1004.5h13.2l-6.6 10.5zM1562.9 1003.7h13.2l-6.6 10.5zM1570.3 1003h13.2l-6.6 10.5zM1577.8 1002.2h13.2l-6.6 10.5zM1585.3 1001.5h13.2l-6.6 10.5zM1592.7 1000.8h13.2l-6.6 10.5zM1600.2 1000.2h13.2l-6.6 10.5zM1607.7 999.6h13.2l-6.6 10.5zM1615.2 999.1h13.2l-6.6 10.5zM1622.7 998.5h13.2l-6.6 10.5zM1630.1 997.9h13.2l-6.6 10.5zM1632.6 997.7h13.2l-6.6 10.5z" fill="#0f0"/>
<path d="M1065.4 626.5h13.2l-6.6 10.5zM1072.5 628.9h13.2l-6.6 10.5zM1079.6 631.2h13.2l-6.6 10.5zM1086.8 633.4h13.2l-6.6 10.5zM1094 635.4h13.2l-6.6 10.5zM1101.3 637.4h13.2l-6.6 10.5zM1105.4 638.5h13.2l-6.6 10.5z" fill="#0f0"/>
<path d="M450.6 134.8 L450.6 121.8" fill="none" stroke="#00f" stroke-width="6" stroke-dasharray="none" stroke-linejoin="round"/>
<path d="M450.6 121.8 L466.4 110.6 L487 113.4 L507.5 116.2 L526.2 116.2 L540.3 117.1 L553.3 119 L564.5 120.8 L581.4 122.7 L596.3 119" fill="none" stroke="#00f" stroke-width="6" stroke-dasharray="6 14" stroke-linejoin="round"/>
<path d="M596.3 119 L609.4 124.6 L626.2 127.4 L644.9 132 L658 137.7 L676.7 141.4 L695.3 149.8 L714 156.3 L732.7 167.5 L751.4 177.8" fill="none" stroke="#00f" stroke-width="6" stroke-dasharray="none" stroke-linejoin="round"/>
<path d="M751.4 177.8 L760 181" fill="none" stroke="#00f" stroke-width="6" stroke-dasharray="6 8" stroke-linejoin="round"/>
<path d="M456.2 146.1 L456.2 155.4 L476.7 155.4 L486.1 161 L504.7 153.5 L520.6 155.4 L537.4 158.2 L550.5 158.2 L561.7 161.9 L573.9 161 L588.8 164.7" fill="none" stroke="#00f" stroke-width="6" stroke-dasharray="6 11" stroke-linejoin="round"/>
<path d="M588.8 164.7 L603.8 167.5 L618.7 166.6 L633.7 172.2 L650.5 173.2 L661.7 179.7 L678.5 187.2 L697.2 196.5 L715.9 205.9 L729 217.1 L743.9 228.3 L758.9 237.6 L760 237.9" fill="none" stroke="#00f" stroke-width="6" stroke-dasharray="none" stroke-linejoin="round"/>
<path d="M456.2 155.4 L448.7 166.6 L450.6 172.2 L446.8 181.6 L449.6 192.8 L458 200.3 L474.8 202.1 L461.8 207.7" fill="none" stroke="#00f" stroke-width="6" stroke-dasharray="none" stroke-linejoin="round"/>
<path d="M474.8 202.1 L482.3 213.3 L491.7 207.7 L504.7 218.9 L516 222.7 L527.2 217.1 L534.6 226.4 L542.1 235.8 L557.1 228.3 L566.4 239.5 L579.5 248.8 L594.4 250.7 L609.4 254.4 L626.2 260 L644.9 267.5 L663.6 276.9 L682.3 282.5 L701 291.8 L721.5 304.9 L738.3 316.1 L758.9 325.5 L760 326" fill="none" stroke="#00f" stroke-width="6" stroke-dasharray="8 4" stroke-linejoin="round"/>
<path d="M493.5 168.5 L504.7 168.5 L514.1 165.7" fill="none" stroke="#00f" stroke-width="6" stroke-dasharray="6 8" stroke-linejoin="round"/>
<path d="M519.7 177.8 L534.6 172.2 L551.5 183.4 L564.5 196.5 L575.8 192.8 L585.1 198.4" fill="none" stroke="#00f" stroke-width="6" stroke-dasharray="10 6" stroke-linejoin="round"/>
<path d="M590.7 220.8 L603.8 213.3 L611.3 215.2 L618.7 228.3 L633.7 230.1 L648.6 233.9 L656.1 243.2 L672.9 243.2 L687.9 243.2 L695.3 254.4 L710.3 260 L721.5 263.8 L736.5 269.4 L747.7 276.9 L760 285.7" fill="none" stroke="#00f" stroke-width="6" stroke-dasharray="8 6" stroke-linejoin="round"/>
<path d="M449.6 258.2 L449.6 291.8 L454.3 297.4 L467.4 301.2 L482.3 295.6 L495.4 292.7 L508.5 304.9 L523.4 310.5 L540.3 310.5 L551.5 319.8 L564.5 325.5 L577.6 332" fill="none" stroke="#00f" stroke-width="6" stroke-dasharray="none" stroke-linejoin="round"/>
<path d="M581.4 351.6 L592.6 355.3 L609.4 357.2 L624.3 362.8 L639.3 370.3 L650.5 372.9" fill="none" stroke="#00f" stroke-width="6" stroke-dasharray="none" stroke-linejoin="round"/>
<path d="M469.2 271.3 L473 259.1 L484.2 254.4 L495.4 251.6 L510.4 252.6 L523.4 248.8 L536.5 248.8 L547.7 248.8 L560.8 246 L568.3 248.8 L579.5 248.8 L588.8 250.7" fill="none" stroke="#00f" stroke-width="6" stroke-dasharray="6 8" stroke-linejoin="round"/>
<path d="M573.9 260 L590.7 267.5 L601.9 274.1 L616.9 275 L633.7 275 L644.9 276.9 L659.8 282.5 L672.9 288.1 L691.6 293.7 L710.3 304.9 L729 316.1 L747.7 323.6 L760 328.5" fill="none" stroke="#00f" stroke-width="6" stroke-dasharray="none" stroke-linejoin="round"/>
<path d="M760 176 L765.6 183.4 L776.8 187.2 L788 196.5 L801.1 202.1 L811.4 210.5 L823.5 217.1 L834.7 224.5 L846 230.1 L859 235.8 L870.3 243.2 L882.4 252.6 L893.6 261 L905.8 269.4 L914.2 277.8 L924.4 286.2 L935.7 293.7 L946.9 299.3 L952.5 304.9 L961.8 313.3 L973 319.8 L985.2 331.1 L997.3 343.2 L1008.5 351.6 L1021.6 357.2 L1032.8 364.7 L1045.9 372.2" fill="none" stroke="#00f" stroke-width="6" stroke-dasharray="6 7" stroke-linejoin="round"/>
<path d="M760 235.8 L769.3 239.5 L782.4 245.1 L793.6 253.5 L806.7 262.9 L817 269.4 L827.3 276.9 L838.5 282.5 L847.8 291.8 L857.2 297.4 L864.6 302.1 L874.9 306.8 L888 317 L899.2 328.3 L909.5 333.9 L918.8 338.5 L926.3 346 L939.4 355.3 L948.7 362.8 L958.1 368.4 L967.4 372.9" fill="none" stroke="#00f" stroke-width="6" stroke-dasharray="6 7" stroke-linejoin="round"/>
<path d="M760 286.2 L769.3 293.7 L780.6 292.7 L789.9 302.1 L799.2 304 L804.8 310.5 L814.2 314.2 L821.7 322.6 L831.9 328.3 L838.5 334.8 L847.8 338.5 L857.2 346 L865.6 351.6 L872.1 358.2 L881.5 362.8 L890.8 370.3 L894.5 372.9" fill="none" stroke="#00f" stroke-width="6" stroke-dasharray="6 7" stroke-linejoin="round"/>
<path d="M760 321.7 L765.6 332.9 L780.6 334.8 L782.4 344.1 L793.6 344.1 L804.8 346 L810.5 351.6 L816.1 355.3 L823.5 362.8 L834.7 368.4 L844.1 372.9" fill="none" stroke="#00f" stroke-width="6" stroke-dasharray="none" stroke-linejoin="round"/>
<path d="M760 336.7 L778.7 344.1 L797.4 353.5 L808.6 359.1 L819.8 366.6 L825.4 372.9" fill="none" stroke="#00f" stroke-width="6" stroke-dasharray="none" stroke-linejoin="round"/>
<path d="M1042.3 373 L1051.5 379.9 L1066.5 391.1 L1077.7 398.6 L1088.9 407.9 L1102 413.5 L1110 419.1" fill="none" stroke="#00f" stroke-width="6" stroke-dasharray="6 7" stroke-linejoin="round"/>
<path d="M963.8 373 L965.6 374.3 L978.6 383.6 L991.7 394.8 L1001.1 406.1 L1012.3 411.7 L1025.3 421 L1040.3 432.2 L1051.5 441.6 L1066.5 447.2 L1077.7 458.4 L1088.9 464 L1096.4 469.6 L1107.6 478.9 L1110 480.8" fill="none" stroke="#00f" stroke-width="6" stroke-dasharray="6 8" stroke-linejoin="round"/>
<path d="M896.2 373 L898.3 374.3 L909.5 381.8 L920.7 391.1 L933.8 398.6 L941.3 407.9 L950.6 415.4 L961.8 424.7 L973 432.2 L984.2 439.7 L993.6 447.2 L1004.8 454.6 L1016 462.1 L1027.2 471.5 L1040.3 480.8 L1053.4 492 L1064.6 503.2 L1077.7 510.7 L1088.9 518.2 L1102 527.5 L1110 533.1" fill="none" stroke="#00f" stroke-width="6" stroke-dasharray="6 8" stroke-linejoin="round"/>
<path d="M843.4 373 L853.4 378 L864.6 381.8 L875.9 389.2 L887.1 398.6 L898.3 406.1 L909.5 415.4 L920.7 421 L931.9 428.5 L945 437.8 L956.2 443.4 L967.4 450.9 L976.8 460.3 L989.8 469.6 L1001.1 478.9 L1010.4 484.5 L1021.6 495.8 L1032.8 505.1 L1040.3 512.6 L1049.6 521.9 L1059 531.3 L1070.2 538.7 L1081.4 548.1 L1096.4 555.6 L1110 559.3" fill="none" stroke="#00f" stroke-width="6" stroke-dasharray="6 7" stroke-linejoin="round"/>
<path d="M826.8 373 L831 378 L844.1 387.4 L857.2 394.8 L870.3 402.3 L881.5 411.7 L892.7 419.1 L905.8 428.5 L918.8 439.7 L928.2 447.2 L943.1 460.3 L954.3 467.7 L963.7 477.1 L971.2 484.5 L984.2 492 L997.3 499.5 L1004.8 508.8 L1014.1 516.3 L1025.3 521.9 L1036.6 533.1 L1047.8 542.5 L1059 549.9 L1068.3 555.6 L1077.7 564.9 L1088.9 574.2 L1102 579.8 L1110 583.6" fill="none" stroke="#00f" stroke-width="6" stroke-dasharray="6 7" stroke-linejoin="round"/>
<path d="M760 424.7 L771.2 428.5 L778.7 434.1 L793.6 441.6 L804.8 450.9 L816.1 458.4 L829.1 464 L836.6 471.5 L846 477.1 L860.9 486.4 L872.1 495.8 L883.3 505.1 L896.4 512.6 L905.8 521.9 L917 527.5 L928.2 536.9 L939.4 546.2 L950.6 551.8 L959.9 563 L974.9 572.4 L984.2 578 L993.6 587.3 L1002.9 594.8 L1012.3 602.3 L1021.6 611.6 L1031 619.1 L1040.3 626.6" fill="none" stroke="#00f" stroke-width="6" stroke-dasharray="6 7" stroke-linejoin="round"/>
<path d="M1049.6 636.7 L1059 647.9 L1077.7 657.3 L1092.6 670.4 L1105.7 683.5 L1110 689.1" fill="none" stroke="#00f" stroke-width="6" stroke-dasharray="6 7" stroke-linejoin="round"/>
<path d="M652 373 L661.7 375.9 L678.3 385.9 L704.7 395.8 L727.9 409 L751.1 415.6 L760 420.1" fill="none" stroke="#00f" stroke-width="6" stroke-dasharray="none" stroke-linejoin="round"/>
<path d="M1110 423.7 L1112.9 425.8 L1126.1 437.4 L1139.4 447.3 L1149.3 458.9 L1165.9 468.8 L1182.4 478.8 L1202.3 488.7 L1215.5 498.6 L1228.8 511.9 L1238.7 520.1 L1251.9 528.4 L1265.2 538.3 L1275.1 548.3 L1276.8 550" fill="none" stroke="#00f" stroke-width="6" stroke-dasharray="6 8" stroke-linejoin="round"/>
<path d="M1276.8 550 L1288.3 561.5 L1300 573.2" fill="none" stroke="#00f" stroke-width="6" stroke-dasharray="6 8" stroke-linejoin="round"/>
<path d="M1110 479.3 L1119.5 492 L1132.8 501.9 L1146 511.9 L1162.5 525.1 L1182.4 535 L1202.3 545 L1209 550" fill="none" stroke="#00f" stroke-width="6" stroke-dasharray="6 7" stroke-linejoin="round"/>
<path d="M1209 550 L1215.5 554.9 L1228.8 564.8 L1245.3 581.4 L1258.5 588 L1271.8 597.9 L1281.7 607.8 L1295 617.8 L1300 622.8" fill="none" stroke="#00f" stroke-width="6" stroke-dasharray="6 7" stroke-linejoin="round"/>
<path d="M1110 533.6 L1119.5 538.3 L1132.8 548.3 L1134.1 550" fill="none" stroke="#00f" stroke-width="6" stroke-dasharray="6 8" stroke-linejoin="round"/>
<path d="M1134.1 550 L1146 564.8 L1162.5 574.7 L1172.5 581.4 L1185.7 591.3 L1199 597.9 L1212.2 607.8 L1225.4 614.5 L1238.7 627.7 L1255.2 637.6 L1271.8 647.6 L1288.3 657.5 L1300 664.5" fill="none" stroke="#00f" stroke-width="6" stroke-dasharray="6 8" stroke-linejoin="round"/>
<path d="M1110 556 L1112.9 558.2 L1122.8 564.8 L1132.8 578.1 L1149.3 594.6 L1162.5 604.5 L1175.8 617.8 L1189 631 L1202.3 644.3 L1215.5 657.5 L1228.8 667.4 L1242 680.7 L1255.2 697.2 L1268.5 707.2 L1281.7 720.4 L1295 730.3 L1300 734.1" fill="none" stroke="#00f" stroke-width="6" stroke-dasharray="6 8" stroke-linejoin="round"/>
<path d="M1110 591.5 L1122.8 597.9 L1136.1 611.2 L1149.3 621.1 L1165.9 631 L1179.1 637.6 L1192.3 647.6 L1205.6 657.5 L1222.1 667.4 L1235.4 680.7 L1251.9 690.6 L1265.2 700.5 L1281.7 713.8 L1298.3 723.7 L1300 725.1" fill="none" stroke="#00f" stroke-width="6" stroke-dasharray="6 8" stroke-linejoin="round"/>
<path d="M1110 686.8 L1119.5 693.9 L1132.8 703.8 L1142.7 717.1 L1155.9 723.7 L1172.5 733.6" fill="none" stroke="#00f" stroke-width="6" stroke-dasharray="6 8" stroke-linejoin="round"/>
<path d="M1182.4 746.9 L1199 756.8 L1215.5 773.4 L1228.8 786.6 L1238.7 796.5" fill="none" stroke="#00f" stroke-width="6" stroke-dasharray="6 8" stroke-linejoin="round"/>
<path d="M1300 567.1 L1308.5 577.8 L1321.4 586.3 L1332 597 L1349.1 599.1 L1359.8 607.7 L1372.6 616.2 L1385.4 626.9 L1396.1 635.4 L1406.8 646.1 L1417.5 654.6 L1430.3 663.2 L1441 671.7 L1451.6 683.5 L1464.4 693.1 L1475.1 701.6 L1485.8 714.4 L1496.5 720.8 L1511.4 727.3 L1522.1 735.8 L1532.8 744.3 L1543.5 755 L1548.4 760" fill="none" stroke="#00f" stroke-width="6" stroke-dasharray="6 8" stroke-linejoin="round"/>
<path d="M1300 629 L1312.8 635.4 L1321.4 644 L1342.7 644 L1355.5 652.5 L1361.9 663.2 L1372.6 667.5 L1381.2 678.1 L1394 680.3 L1400.4 691 L1411.1 699.5 L1421.7 708 L1434.5 718.7 L1447.4 725.1 L1458 733.7 L1468.7 744.3 L1477.3 752.9 L1485.8 759.3 L1496.5 765.7 L1500 767.8" fill="none" stroke="#00f" stroke-width="6" stroke-dasharray="6 7" stroke-linejoin="round"/>
<path d="M1300 671.7 L1310.7 676 L1325.6 682.4 L1338.4 691 L1351.3 701.6 L1364.1 712.3 L1374.7 723 L1389.7 727.3 L1402.5 733.7 L1415.3 740.1 L1428.1 746.5 L1438.8 755 L1449.5 763.6 L1462.3 772.1 L1475.1 780.6 L1487.9 791.3 L1496.5 797.7 L1500 798.7" fill="none" stroke="#00f" stroke-width="6" stroke-dasharray="6 7" stroke-linejoin="round"/>
<path d="M1300 695.2 L1310.7 703.8 L1325.6 714.4 L1342.7 725.1 L1355.5 733.7 L1366.2 742.2 L1379 752.9 L1387.6 763.6 L1400.4 767.8 L1413.2 774.2 L1426 789.2 L1436.7 799.9 L1447.4 802 L1458 812.7 L1470.8 821.2 L1481.5 827.6 L1492.2 836.2 L1500 842.4" fill="none" stroke="#00f" stroke-width="6" stroke-dasharray="6 7" stroke-linejoin="round"/>
<path d="M1300 733.7 L1312.8 737.9 L1327.8 746.5 L1342.7 755 L1355.5 767.8 L1370.5 776.4 L1385.4 784.9 L1400.4 793.5 L1411.1 799.9 L1423.9 814.8 L1438.8 819.1 L1449.5 825.5 L1460.2 834 L1470.8 840.4 L1481.5 846.8 L1492.2 853.3 L1500 859.5" fill="none" stroke="#00f" stroke-width="6" stroke-dasharray="6 7" stroke-linejoin="round"/>
<path d="M1300 849 L1310.7 855.4 L1321.4 863.9 L1332 869.9" fill="none" stroke="#00f" stroke-width="6" stroke-dasharray="6 7" stroke-linejoin="round"/>
<path d="M1239.4 800 L1248.6 809.2 L1265.2 822.5 L1281.7 835.7 L1300 847.9" fill="none" stroke="#00f" stroke-width="6" stroke-dasharray="6 8" stroke-linejoin="round"/>
<path d="M1331.1 870 L1334.7 872.1 L1351.2 885.4 L1367.8 901.9 L1381 911.9 L1397.6 925.1 L1414.1 938.3 L1430.7 951.6 L1447.2 964.8 L1463.8 974.7 L1480.3 988 L1496.9 1004.5 L1513.4 1017.8 L1526.7 1031 L1539.9 1044.3 L1553.2 1060.8 L1566.4 1074.1 L1579.6 1093.9 L1596.2 1117.1 L1612.7 1136.9 L1629.3 1156.8 L1645.8 1163.4 L1659.1 1166.7" fill="none" stroke="#00f" stroke-width="6" stroke-dasharray="6 8" stroke-linejoin="round"/>
<path d="M1155.9 951.6 L1182.4 968.1 L1208.9 981.4 L1235.4 994.6 L1261.9 1011.2 L1288.3 1031 L1300 1035.4" fill="none" stroke="#00f" stroke-width="6" stroke-dasharray="6 8" stroke-linejoin="round"/>
<path d="M1300 1035.4 L1314.8 1041 L1341.3 1041 L1364.5 1057.5 L1387.6 1067.4 L1414.1 1077.4 L1437.3 1090.6 L1463.8 1103.8 L1490.3 1103.8 L1513.4 1113.8 L1530 1127 L1553.2 1136.9 L1579.6 1146.9 L1606.1 1156.8 L1629.3 1163.4 L1659.1 1166.7" fill="none" stroke="#00f" stroke-width="6" stroke-dasharray="6 8" stroke-linejoin="round"/>
<path d="M1565.2 900 L1573 905.2 L1592.9 918.5 L1612.7 931.7 L1629.3 941.6 L1645.8 951.6 L1659.1 954.9" fill="none" stroke="#00f" stroke-width="6" stroke-dasharray="6 8" stroke-linejoin="round"/>
<path d="M1645.8 1156.8 L1659.1 1166.7 L1645.8 1170" fill="none" stroke="#00f" stroke-width="6" stroke-dasharray="none" stroke-linejoin="round"/>
<path d="M1033 620 L1040 627 L1051 638" fill="none" stroke="#00f" stroke-width="6" stroke-dasharray="6 7" stroke-linejoin="round"/>
<path d="M1500 769.6 L1509.6 776.3 L1524 787.9 L1538.4 796.5 L1552.8 803.2 L1567.2 809 L1581.7 816.7 L1596 823.4 L1610.5 829.2 L1624.9 833 L1639.3 836.9 L1653.7 841.7 L1656 843" fill="none" stroke="#00f" stroke-width="6.5" stroke-dasharray="none" stroke-linejoin="round"/>
<path d="M1552.8 766.7 L1562.4 777.3 L1572 786 L1581.7 790.7 L1589.3 799.4 L1600.9 810 L1609.5 813.8" fill="none" stroke="#00f" stroke-width="6" stroke-dasharray="6 7" stroke-linejoin="round"/>
<path d="M1500 801.3 L1514.4 809 L1524 811.9 L1533.6 819.6 L1548 828.2 L1559.6 835.9 L1567.2 841.7 L1576.8 849.3 L1586.5 857 L1596 863.7 L1605.7 870.5 L1615.3 875.3" fill="none" stroke="#00f" stroke-width="6" stroke-dasharray="6 6" stroke-linejoin="round"/>
<path d="M1615.3 875.3 L1624.9 879.1 L1634.5 882 L1644.1 883 L1653.7 886.8" fill="none" stroke="#00f" stroke-width="6" stroke-dasharray="none" stroke-linejoin="round"/>
<path d="M1567.2 826.3 L1576.8 833 L1586.5 839.7 L1596 847.4 L1603.7 855.1 L1613.4 861.8 L1623 867.6 L1631.6 873.4 L1639.3 880" fill="none" stroke="#00f" stroke-width="6" stroke-dasharray="6 6" stroke-linejoin="round"/>
<path d="M1500 858.9 L1509.6 865.7 L1519.2 873.4 L1528.8 878.2 L1540.3 877.2 L1548 884.9 L1557.6 892.6 L1567.2 898.3 L1572 900" fill="none" stroke="#00f" stroke-width="6" stroke-dasharray="6 7" stroke-linejoin="round"/>
<path d="M281.4 28.3H1803.6V1267.0H281.4Z" fill="none" stroke="#000" stroke-width="5"/>
<path d="M270 1246.3H281.4 M258.3 1200.3H281.4 M270 1154.4H281.4 M270 1108.4H281.4 M270 1062.4H281.4 M270 1016.5H281.4 M258.3 970.5H281.4 M270 924.5H281.4 M270 878.6H281.4 M270 832.6H281.4 M270 786.6H281.4 M258.3 740.6H281.4 M270 694.7H281.4 M270 648.7H281.4 M270 602.7H281.4 M270 556.8H281.4 M258.3 510.8H281.4 M270 464.8H281.4 M270 418.9H281.4 M270 372.9H281.4 M270 326.9H281.4 M258.3 280.9H281.4 M270 235H281.4 M270 189H281.4 M270 143H281.4 M270 97.1H281.4 M258.3 51.1H281.4 M281.4 1267.0V1292.7 M317.4 1267.0V1281 M355.5 1267.0V1281 M393.7 1267.0V1281 M431.8 1267.0V1281 M470 1267.0V1292.7 M508.1 1267.0V1281 M546.2 1267.0V1281 M584.4 1267.0V1281 M622.6 1267.0V1281 M660.7 1267.0V1292.7 M698.9 1267.0V1281 M737 1267.0V1281 M775.2 1267.0V1281 M813.3 1267.0V1281 M851.5 1267.0V1292.7 M889.6 1267.0V1281 M927.8 1267.0V1281 M965.9 1267.0V1281 M1004.1 1267.0V1281 M1042.2 1267.0V1292.7 M1080.4 1267.0V1281 M1118.5 1267.0V1281 M1156.7 1267.0V1281 M1194.8 1267.0V1281 M1233 1267.0V1292.7 M1271.1 1267.0V1281 M1309.2 1267.0V1281 M1347.4 1267.0V1281 M1385.6 1267.0V1281 M1423.7 1267.0V1292.7 M1461.8 1267.0V1281 M1500 1267.0V1281 M1538.2 1267.0V1281 M1576.3 1267.0V1281 M1614.5 1267.0V1292.7 M1652.6 1267.0V1281 M1690.8 1267.0V1281 M1728.9 1267.0V1281 M1767.1 1267.0V1281 M1803.4 1267.0V1292.7" fill="none" stroke="#000" stroke-width="5"/>
<text transform="translate(245 1218.3) scale(0.97 1)" font-family="'Liberation Serif', 'Times New Roman', serif" font-weight="bold" font-size="71" text-anchor="end">-100</text>
<text transform="translate(245 988.5) scale(0.97 1)" font-family="'Liberation Serif', 'Times New Roman', serif" font-weight="bold" font-size="71" text-anchor="end">0</text>
<text transform="translate(245 758.6) scale(0.97 1)" font-family="'Liberation Serif', 'Times New Roman', serif" font-weight="bold" font-size="71" text-anchor="end">100</text>
<text transform="translate(245 528.8) scale(0.97 1)" font-family="'Liberation Serif', 'Times New Roman', serif" font-weight="bold" font-size="71" text-anchor="end">200</text>
<text transform="translate(245 298.9) scale(0.97 1)" font-family="'Liberation Serif', 'Times New Roman', serif" font-weight="bold" font-size="71" text-anchor="end">300</text>
<text transform="translate(245 69.1) scale(0.97 1)" font-family="'Liberation Serif', 'Times New Roman', serif" font-weight="bold" font-size="71" text-anchor="end">400</text>
<text transform="translate(280.4 1358) scale(0.97 1)" font-family="'Liberation Serif', 'Times New Roman', serif" font-weight="bold" font-size="71" text-anchor="middle">-200</text>
<text transform="translate(469 1358) scale(0.97 1)" font-family="'Liberation Serif', 'Times New Roman', serif" font-weight="bold" font-size="71" text-anchor="middle">-150</text>
<text transform="translate(659.7 1358) scale(0.97 1)" font-family="'Liberation Serif', 'Times New Roman', serif" font-weight="bold" font-size="71" text-anchor="middle">-100</text>
<text transform="translate(850.5 1358) scale(0.97 1)" font-family="'Liberation Serif', 'Times New Roman', serif" font-weight="bold" font-size="71" text-anchor="middle">-50</text>
<text transform="translate(1041.2 1358) scale(0.97 1)" font-family="'Liberation Serif', 'Times New Roman', serif" font-weight="bold" font-size="71" text-anchor="middle">0</text>
<text transform="translate(1232 1358) scale(0.97 1)" font-family="'Liberation Serif', 'Times New Roman', serif" font-weight="bold" font-size="71" text-anchor="middle">50</text>
<text transform="translate(1422.7 1358) scale(0.97 1)" font-family="'Liberation Serif', 'Times New Roman', serif" font-weight="bold" font-size="71" text-anchor="middle">100</text>
<text transform="translate(1613.5 1358) scale(0.97 1)" font-family="'Liberation Serif', 'Times New Roman', serif" font-weight="bold" font-size="71" text-anchor="middle">150</text>
<text transform="translate(1802.4 1358) scale(0.97 1)" font-family="'Liberation Serif', 'Times New Roman', serif" font-weight="bold" font-size="71" text-anchor="middle">200</text>
<text transform="translate(793 1473) scale(0.982 1)" font-family="'Liberation Serif', 'Times New Roman', serif" font-weight="bold" font-size="70">Temperature</text>
<text x="1190" y="1473" font-family="'Liberation Serif', 'Times New Roman', serif" font-size="71">/</text>
<text x="1229" y="1473" font-family="'Liberation Serif', 'WenQuanYi Zen Hei', 'Noto Sans CJK SC', sans-serif" font-size="70">℃</text>
<text transform="translate(73.7 868) rotate(-90) scale(0.962 1)" font-family="'Liberation Serif', 'Times New Roman', serif" font-weight="bold" font-size="70">Microstrain</text>
<text transform="translate(73.7 506.5) rotate(-90)" font-family="'Liberation Serif', 'Times New Roman', serif" font-size="70">/</text>
<text transform="translate(73.7 470.5) rotate(-90) scale(1.07 1)" font-family="'Liberation Serif', 'Times New Roman', serif" font-size="70">με</text>
<path d="M1351 129.6H1386.4M1423.3 129.6H1458.8" stroke="#000" stroke-width="2"/>
<circle cx="1404.7" cy="129.6" r="6.5" fill="#000"/>
<text x="1584" y="146.4" font-family="'Liberation Serif', 'Times New Roman', serif" font-weight="bold" font-size="58" text-anchor="end">2.5N</text>
<path d="M1351 200.2H1386.4M1423.3 200.2H1458.8" stroke="#f00" stroke-width="2"/>
<path d="M1397.2 206.2h15l-7.5 -13z" fill="#f00"/>
<text x="1584" y="216.4" font-family="'Liberation Serif', 'Times New Roman', serif" font-weight="bold" font-size="58" text-anchor="end">5 N</text>
<path d="M1351 270.7H1386.4M1423.3 270.7H1458.8" stroke="#0f0" stroke-width="2"/>
<path d="M1397.2 264.7h15l-7.5 13z" fill="#0f0"/>
<text x="1584" y="286.4" font-family="'Liberation Serif', 'Times New Roman', serif" font-weight="bold" font-size="58" text-anchor="end">20 N</text>
<path d="M1351 340.7H1386.4M1423.3 340.7H1458.8" stroke="#00f" stroke-width="2"/>
<path d="M1404.7 333.7 L1406.4 338.4 L1411.4 338.5 L1407.5 341.6 L1408.8 346.4 L1404.7 343.6 L1400.6 346.4 L1401.9 341.6 L1398 338.5 L1403 338.4Z" fill="#00f"/>
<text x="1584" y="356.4" font-family="'Liberation Serif', 'Times New Roman', serif" font-weight="bold" font-size="58" text-anchor="end">60 N</text>
</svg>
</body></html>
